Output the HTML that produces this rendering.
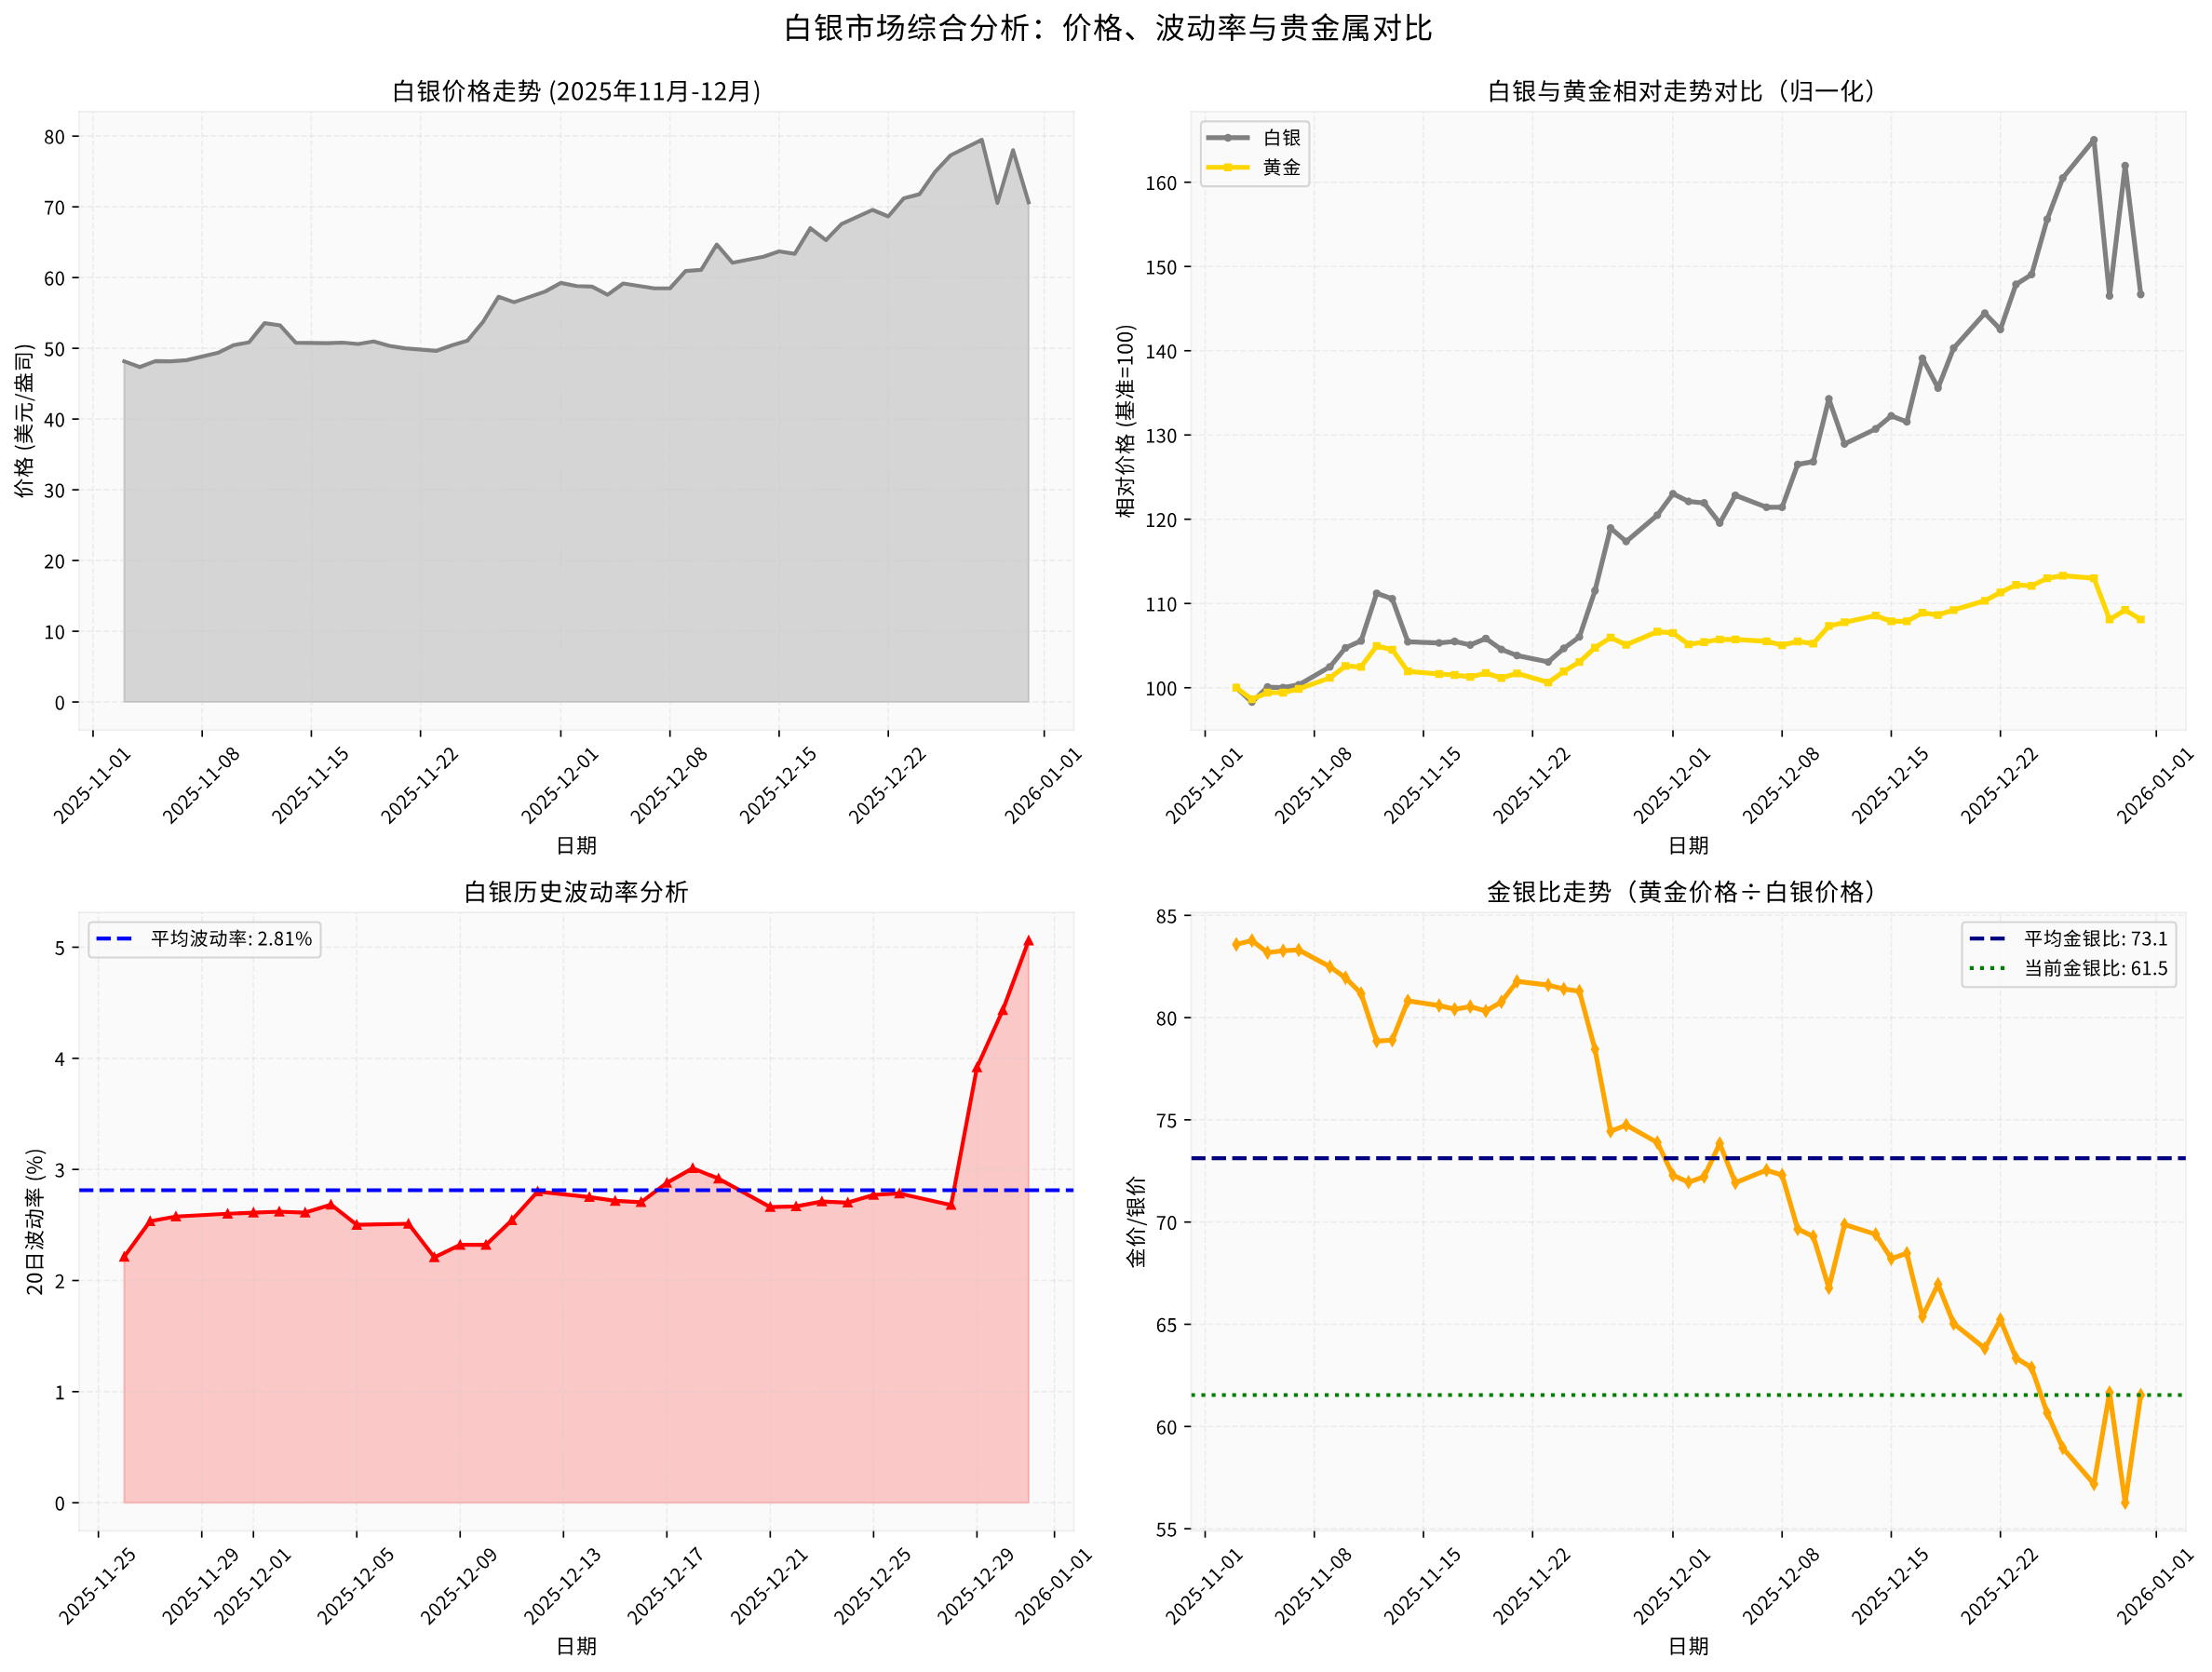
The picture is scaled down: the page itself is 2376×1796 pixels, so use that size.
<!DOCTYPE html>
<html><head><meta charset="utf-8"><title>白银市场综合分析</title>
<style>html,body{margin:0;padding:0;background:#fff;}body{width:2376px;height:1796px;overflow:hidden;font-family:"Liberation Sans",sans-serif;}svg{display:block;}</style>
</head><body>
<svg width="2376" height="1796" viewBox="0 0 1140.480 862.080" preserveAspectRatio="none">
<defs>
<style type="text/css">*{stroke-linejoin: round; stroke-linecap: butt}</style>
</defs>
<g id="figure_1">
<g id="patch_1">
<path d="M 0 862.336 
L 1140.760 862.336 
L 1140.760 0 
L 0 0 
z
" style="fill: #ffffff"/>
</g>
<g id="axes_1">
<g id="patch_2">
<path d="M 40.74 376.435 
L 553.670 376.435 
L 553.670 57.57 
L 40.74 57.57 
z
" style="fill: #fafafa"/>
</g>
<g id="FillBetweenPolyCollection_1">
<defs>
<path id="m561d28d23e" d="M 64.055 -500.395 
L 64.055 -676.035 
L 72.094 -673.067 
L 80.134 -676.176 
L 88.174 -676.071 
L 96.213 -676.633 
L 112.293 -680.391 
L 120.332 -684.343 
L 128.372 -685.801 
L 136.412 -695.725 
L 144.451 -694.566 
L 152.491 -685.608 
L 168.570 -685.380 
L 176.610 -685.696 
L 184.650 -684.958 
L 192.689 -686.310 
L 200.729 -684.027 
L 208.769 -682.762 
L 224.848 -681.410 
L 232.888 -684.238 
L 240.927 -686.627 
L 248.967 -696.269 
L 257.007 -709.319 
L 265.046 -706.527 
L 281.126 -712.024 
L 289.165 -716.468 
L 297.205 -714.870 
L 305.245 -714.553 
L 313.284 -710.356 
L 321.324 -716.152 
L 337.403 -713.658 
L 345.443 -713.658 
L 353.483 -722.598 
L 361.522 -723.160 
L 369.562 -736.245 
L 377.602 -726.866 
L 393.681 -729.992 
L 401.721 -732.715 
L 409.760 -731.468 
L 417.800 -744.711 
L 425.840 -738.528 
L 433.879 -746.836 
L 449.959 -754.108 
L 457.998 -750.736 
L 466.038 -760.132 
L 474.078 -762.187 
L 482.117 -773.692 
L 490.157 -782.298 
L 506.236 -790.272 
L 514.276 -757.708 
L 522.316 -784.880 
L 530.355 -758.025 
L 530.355 -500.395 
L 530.355 -500.395 
L 522.316 -500.395 
L 514.276 -500.395 
L 506.236 -500.395 
L 490.157 -500.395 
L 482.117 -500.395 
L 474.078 -500.395 
L 466.038 -500.395 
L 457.998 -500.395 
L 449.959 -500.395 
L 433.879 -500.395 
L 425.840 -500.395 
L 417.800 -500.395 
L 409.760 -500.395 
L 401.721 -500.395 
L 393.681 -500.395 
L 377.602 -500.395 
L 369.562 -500.395 
L 361.522 -500.395 
L 353.483 -500.395 
L 345.443 -500.395 
L 337.403 -500.395 
L 321.324 -500.395 
L 313.284 -500.395 
L 305.245 -500.395 
L 297.205 -500.395 
L 289.165 -500.395 
L 281.126 -500.395 
L 265.046 -500.395 
L 257.007 -500.395 
L 248.967 -500.395 
L 240.927 -500.395 
L 232.888 -500.395 
L 224.848 -500.395 
L 208.769 -500.395 
L 200.729 -500.395 
L 192.689 -500.395 
L 184.650 -500.395 
L 176.610 -500.395 
L 168.570 -500.395 
L 152.491 -500.395 
L 144.451 -500.395 
L 136.412 -500.395 
L 128.372 -500.395 
L 120.332 -500.395 
L 112.293 -500.395 
L 96.213 -500.395 
L 88.174 -500.395 
L 80.134 -500.395 
L 72.094 -500.395 
L 64.055 -500.395 
z
" style="stroke: #808080; stroke-opacity: 0.3"/>
</defs>
<g clip-path="url(#pcaa371a0d5)">
<use href="#m561d28d23e" x="0" y="862.336" style="fill: #808080; fill-opacity: 0.3; stroke: #808080; stroke-opacity: 0.3"/>
</g>
</g>
<g id="matplotlib.axis_1">
<g id="xtick_1">
<g id="line2d_1">
<path d="M 47.975 376.435 
L 47.975 57.57 
" clip-path="url(#pcaa371a0d5)" style="fill: none; stroke-dasharray: 2.96,1.28; stroke-dashoffset: 0; stroke: #cccccc; stroke-opacity: 0.3; stroke-width: 0.8"/>
</g>
<g id="line2d_2">
<defs>
<path id="m96d0b143b3" d="M 0 0 
L 0 3.5 
" style="stroke: #000000; stroke-width: 0.8"/>
</defs>
<g>
<use href="#m96d0b143b3" x="47.975" y="376.435" style="stroke: #000000; stroke-width: 0.8"/>
</g>
</g>
<g id="text_1">
<!-- 2025-11-01 -->
<g transform="translate(31.828 425.366) rotate(-45) scale(0.1 -0.1)">
<defs>
<path id="NotoSansCJKsc-Regular-32" d="M 282 0 
L 3232 0 
L 3232 506 
L 1933 506 
C 1696 506 1408 480 1165 461 
C 2266 1504 3008 2458 3008 3398 
C 3008 4230 2477 4774 1638 4774 
C 1043 4774 634 4506 256 4090 
L 595 3757 
C 858 4070 1184 4301 1568 4301 
C 2150 4301 2432 3910 2432 3373 
C 2432 2566 1754 1632 282 346 
L 282 0 
z
" transform="scale(0.015)"/>
<path id="NotoSansCJKsc-Regular-30" d="M 1779 -83 
C 2669 -83 3238 723 3238 2362 
C 3238 3987 2669 4774 1779 4774 
C 883 4774 320 3987 320 2362 
C 320 723 883 -83 1779 -83 
z
M 1779 390 
C 1248 390 883 986 883 2362 
C 883 3731 1248 4314 1779 4314 
C 2310 4314 2675 3731 2675 2362 
C 2675 986 2310 390 1779 390 
z
" transform="scale(0.015)"/>
<path id="NotoSansCJKsc-Regular-35" d="M 1677 -83 
C 2464 -83 3213 499 3213 1523 
C 3213 2560 2573 3021 1798 3021 
C 1517 3021 1306 2950 1094 2835 
L 1216 4192 
L 2982 4192 
L 2982 4691 
L 704 4691 
L 550 2502 
L 864 2304 
C 1133 2483 1331 2579 1645 2579 
C 2234 2579 2618 2182 2618 1510 
C 2618 826 2176 403 1619 403 
C 1075 403 730 653 467 922 
L 173 538 
C 493 224 941 -83 1677 -83 
z
" transform="scale(0.015)"/>
<path id="NotoSansCJKsc-Regular-2d" d="M 294 1568 
L 1933 1568 
L 1933 2016 
L 294 2016 
L 294 1568 
z
" transform="scale(0.015)"/>
<path id="NotoSansCJKsc-Regular-31" d="M 563 0 
L 3136 0 
L 3136 486 
L 2195 486 
L 2195 4691 
L 1747 4691 
C 1491 4544 1190 4435 774 4358 
L 774 3987 
L 1613 3987 
L 1613 486 
L 563 486 
L 563 0 
z
" transform="scale(0.015)"/>
</defs>
<use href="#NotoSansCJKsc-Regular-32"/>
<use href="#NotoSansCJKsc-Regular-30" transform="translate(55.499 0)"/>
<use href="#NotoSansCJKsc-Regular-32" transform="translate(110.999 0)"/>
<use href="#NotoSansCJKsc-Regular-35" transform="translate(166.499 0)"/>
<use href="#NotoSansCJKsc-Regular-2d" transform="translate(221.999 0)"/>
<use href="#NotoSansCJKsc-Regular-31" transform="translate(256.699 0)"/>
<use href="#NotoSansCJKsc-Regular-31" transform="translate(312.199 0)"/>
<use href="#NotoSansCJKsc-Regular-2d" transform="translate(367.699 0)"/>
<use href="#NotoSansCJKsc-Regular-30" transform="translate(402.399 0)"/>
<use href="#NotoSansCJKsc-Regular-31" transform="translate(457.899 0)"/>
</g>
</g>
</g>
<g id="xtick_2">
<g id="line2d_3">
<path d="M 104.253 376.435 
L 104.253 57.57 
" clip-path="url(#pcaa371a0d5)" style="fill: none; stroke-dasharray: 2.96,1.28; stroke-dashoffset: 0; stroke: #cccccc; stroke-opacity: 0.3; stroke-width: 0.8"/>
</g>
<g id="line2d_4">
<g>
<use href="#m96d0b143b3" x="104.253" y="376.435" style="stroke: #000000; stroke-width: 0.8"/>
</g>
</g>
<g id="text_2">
<!-- 2025-11-08 -->
<g transform="translate(88.105 425.366) rotate(-45) scale(0.1 -0.1)">
<defs>
<path id="NotoSansCJKsc-Regular-38" d="M 1792 -83 
C 2669 -83 3258 448 3258 1126 
C 3258 1773 2880 2125 2470 2362 
L 2470 2394 
C 2746 2611 3091 3034 3091 3526 
C 3091 4250 2605 4762 1805 4762 
C 1075 4762 518 4282 518 3571 
C 518 3078 813 2726 1152 2490 
L 1152 2464 
C 723 2234 294 1792 294 1165 
C 294 442 922 -83 1792 -83 
z
M 2112 2547 
C 1555 2765 1050 3014 1050 3571 
C 1050 4026 1363 4326 1798 4326 
C 2298 4326 2592 3962 2592 3494 
C 2592 3149 2426 2829 2112 2547 
z
M 1798 352 
C 1235 352 813 717 813 1216 
C 813 1664 1082 2035 1459 2278 
C 2125 2010 2701 1779 2701 1146 
C 2701 678 2342 352 1798 352 
z
" transform="scale(0.015)"/>
</defs>
<use href="#NotoSansCJKsc-Regular-32"/>
<use href="#NotoSansCJKsc-Regular-30" transform="translate(55.499 0)"/>
<use href="#NotoSansCJKsc-Regular-32" transform="translate(110.999 0)"/>
<use href="#NotoSansCJKsc-Regular-35" transform="translate(166.499 0)"/>
<use href="#NotoSansCJKsc-Regular-2d" transform="translate(221.999 0)"/>
<use href="#NotoSansCJKsc-Regular-31" transform="translate(256.699 0)"/>
<use href="#NotoSansCJKsc-Regular-31" transform="translate(312.199 0)"/>
<use href="#NotoSansCJKsc-Regular-2d" transform="translate(367.699 0)"/>
<use href="#NotoSansCJKsc-Regular-30" transform="translate(402.399 0)"/>
<use href="#NotoSansCJKsc-Regular-38" transform="translate(457.899 0)"/>
</g>
</g>
</g>
<g id="xtick_3">
<g id="line2d_5">
<path d="M 160.531 376.435 
L 160.531 57.57 
" clip-path="url(#pcaa371a0d5)" style="fill: none; stroke-dasharray: 2.96,1.28; stroke-dashoffset: 0; stroke: #cccccc; stroke-opacity: 0.3; stroke-width: 0.8"/>
</g>
<g id="line2d_6">
<g>
<use href="#m96d0b143b3" x="160.531" y="376.435" style="stroke: #000000; stroke-width: 0.8"/>
</g>
</g>
<g id="text_3">
<!-- 2025-11-15 -->
<g transform="translate(144.383 425.366) rotate(-45) scale(0.1 -0.1)">
<use href="#NotoSansCJKsc-Regular-32"/>
<use href="#NotoSansCJKsc-Regular-30" transform="translate(55.499 0)"/>
<use href="#NotoSansCJKsc-Regular-32" transform="translate(110.999 0)"/>
<use href="#NotoSansCJKsc-Regular-35" transform="translate(166.499 0)"/>
<use href="#NotoSansCJKsc-Regular-2d" transform="translate(221.999 0)"/>
<use href="#NotoSansCJKsc-Regular-31" transform="translate(256.699 0)"/>
<use href="#NotoSansCJKsc-Regular-31" transform="translate(312.199 0)"/>
<use href="#NotoSansCJKsc-Regular-2d" transform="translate(367.699 0)"/>
<use href="#NotoSansCJKsc-Regular-31" transform="translate(402.399 0)"/>
<use href="#NotoSansCJKsc-Regular-35" transform="translate(457.899 0)"/>
</g>
</g>
</g>
<g id="xtick_4">
<g id="line2d_7">
<path d="M 216.808 376.435 
L 216.808 57.57 
" clip-path="url(#pcaa371a0d5)" style="fill: none; stroke-dasharray: 2.96,1.28; stroke-dashoffset: 0; stroke: #cccccc; stroke-opacity: 0.3; stroke-width: 0.8"/>
</g>
<g id="line2d_8">
<g>
<use href="#m96d0b143b3" x="216.808" y="376.435" style="stroke: #000000; stroke-width: 0.8"/>
</g>
</g>
<g id="text_4">
<!-- 2025-11-22 -->
<g transform="translate(200.661 425.366) rotate(-45) scale(0.1 -0.1)">
<use href="#NotoSansCJKsc-Regular-32"/>
<use href="#NotoSansCJKsc-Regular-30" transform="translate(55.499 0)"/>
<use href="#NotoSansCJKsc-Regular-32" transform="translate(110.999 0)"/>
<use href="#NotoSansCJKsc-Regular-35" transform="translate(166.499 0)"/>
<use href="#NotoSansCJKsc-Regular-2d" transform="translate(221.999 0)"/>
<use href="#NotoSansCJKsc-Regular-31" transform="translate(256.699 0)"/>
<use href="#NotoSansCJKsc-Regular-31" transform="translate(312.199 0)"/>
<use href="#NotoSansCJKsc-Regular-2d" transform="translate(367.699 0)"/>
<use href="#NotoSansCJKsc-Regular-32" transform="translate(402.399 0)"/>
<use href="#NotoSansCJKsc-Regular-32" transform="translate(457.899 0)"/>
</g>
</g>
</g>
<g id="xtick_5">
<g id="line2d_9">
<path d="M 289.165 376.435 
L 289.165 57.57 
" clip-path="url(#pcaa371a0d5)" style="fill: none; stroke-dasharray: 2.96,1.28; stroke-dashoffset: 0; stroke: #cccccc; stroke-opacity: 0.3; stroke-width: 0.8"/>
</g>
<g id="line2d_10">
<g>
<use href="#m96d0b143b3" x="289.165" y="376.435" style="stroke: #000000; stroke-width: 0.8"/>
</g>
</g>
<g id="text_5">
<!-- 2025-12-01 -->
<g transform="translate(273.018 425.366) rotate(-45) scale(0.1 -0.1)">
<use href="#NotoSansCJKsc-Regular-32"/>
<use href="#NotoSansCJKsc-Regular-30" transform="translate(55.499 0)"/>
<use href="#NotoSansCJKsc-Regular-32" transform="translate(110.999 0)"/>
<use href="#NotoSansCJKsc-Regular-35" transform="translate(166.499 0)"/>
<use href="#NotoSansCJKsc-Regular-2d" transform="translate(221.999 0)"/>
<use href="#NotoSansCJKsc-Regular-31" transform="translate(256.699 0)"/>
<use href="#NotoSansCJKsc-Regular-32" transform="translate(312.199 0)"/>
<use href="#NotoSansCJKsc-Regular-2d" transform="translate(367.699 0)"/>
<use href="#NotoSansCJKsc-Regular-30" transform="translate(402.399 0)"/>
<use href="#NotoSansCJKsc-Regular-31" transform="translate(457.899 0)"/>
</g>
</g>
</g>
<g id="xtick_6">
<g id="line2d_11">
<path d="M 345.443 376.435 
L 345.443 57.57 
" clip-path="url(#pcaa371a0d5)" style="fill: none; stroke-dasharray: 2.96,1.28; stroke-dashoffset: 0; stroke: #cccccc; stroke-opacity: 0.3; stroke-width: 0.8"/>
</g>
<g id="line2d_12">
<g>
<use href="#m96d0b143b3" x="345.443" y="376.435" style="stroke: #000000; stroke-width: 0.8"/>
</g>
</g>
<g id="text_6">
<!-- 2025-12-08 -->
<g transform="translate(329.295 425.366) rotate(-45) scale(0.1 -0.1)">
<use href="#NotoSansCJKsc-Regular-32"/>
<use href="#NotoSansCJKsc-Regular-30" transform="translate(55.499 0)"/>
<use href="#NotoSansCJKsc-Regular-32" transform="translate(110.999 0)"/>
<use href="#NotoSansCJKsc-Regular-35" transform="translate(166.499 0)"/>
<use href="#NotoSansCJKsc-Regular-2d" transform="translate(221.999 0)"/>
<use href="#NotoSansCJKsc-Regular-31" transform="translate(256.699 0)"/>
<use href="#NotoSansCJKsc-Regular-32" transform="translate(312.199 0)"/>
<use href="#NotoSansCJKsc-Regular-2d" transform="translate(367.699 0)"/>
<use href="#NotoSansCJKsc-Regular-30" transform="translate(402.399 0)"/>
<use href="#NotoSansCJKsc-Regular-38" transform="translate(457.899 0)"/>
</g>
</g>
</g>
<g id="xtick_7">
<g id="line2d_13">
<path d="M 401.721 376.435 
L 401.721 57.57 
" clip-path="url(#pcaa371a0d5)" style="fill: none; stroke-dasharray: 2.96,1.28; stroke-dashoffset: 0; stroke: #cccccc; stroke-opacity: 0.3; stroke-width: 0.8"/>
</g>
<g id="line2d_14">
<g>
<use href="#m96d0b143b3" x="401.721" y="376.435" style="stroke: #000000; stroke-width: 0.8"/>
</g>
</g>
<g id="text_7">
<!-- 2025-12-15 -->
<g transform="translate(385.573 425.366) rotate(-45) scale(0.1 -0.1)">
<use href="#NotoSansCJKsc-Regular-32"/>
<use href="#NotoSansCJKsc-Regular-30" transform="translate(55.499 0)"/>
<use href="#NotoSansCJKsc-Regular-32" transform="translate(110.999 0)"/>
<use href="#NotoSansCJKsc-Regular-35" transform="translate(166.499 0)"/>
<use href="#NotoSansCJKsc-Regular-2d" transform="translate(221.999 0)"/>
<use href="#NotoSansCJKsc-Regular-31" transform="translate(256.699 0)"/>
<use href="#NotoSansCJKsc-Regular-32" transform="translate(312.199 0)"/>
<use href="#NotoSansCJKsc-Regular-2d" transform="translate(367.699 0)"/>
<use href="#NotoSansCJKsc-Regular-31" transform="translate(402.399 0)"/>
<use href="#NotoSansCJKsc-Regular-35" transform="translate(457.899 0)"/>
</g>
</g>
</g>
<g id="xtick_8">
<g id="line2d_15">
<path d="M 457.998 376.435 
L 457.998 57.57 
" clip-path="url(#pcaa371a0d5)" style="fill: none; stroke-dasharray: 2.96,1.28; stroke-dashoffset: 0; stroke: #cccccc; stroke-opacity: 0.3; stroke-width: 0.8"/>
</g>
<g id="line2d_16">
<g>
<use href="#m96d0b143b3" x="457.998" y="376.435" style="stroke: #000000; stroke-width: 0.8"/>
</g>
</g>
<g id="text_8">
<!-- 2025-12-22 -->
<g transform="translate(441.851 425.366) rotate(-45) scale(0.1 -0.1)">
<use href="#NotoSansCJKsc-Regular-32"/>
<use href="#NotoSansCJKsc-Regular-30" transform="translate(55.499 0)"/>
<use href="#NotoSansCJKsc-Regular-32" transform="translate(110.999 0)"/>
<use href="#NotoSansCJKsc-Regular-35" transform="translate(166.499 0)"/>
<use href="#NotoSansCJKsc-Regular-2d" transform="translate(221.999 0)"/>
<use href="#NotoSansCJKsc-Regular-31" transform="translate(256.699 0)"/>
<use href="#NotoSansCJKsc-Regular-32" transform="translate(312.199 0)"/>
<use href="#NotoSansCJKsc-Regular-2d" transform="translate(367.699 0)"/>
<use href="#NotoSansCJKsc-Regular-32" transform="translate(402.399 0)"/>
<use href="#NotoSansCJKsc-Regular-32" transform="translate(457.899 0)"/>
</g>
</g>
</g>
<g id="xtick_9">
<g id="line2d_17">
<path d="M 538.395 376.435 
L 538.395 57.57 
" clip-path="url(#pcaa371a0d5)" style="fill: none; stroke-dasharray: 2.96,1.28; stroke-dashoffset: 0; stroke: #cccccc; stroke-opacity: 0.3; stroke-width: 0.8"/>
</g>
<g id="line2d_18">
<g>
<use href="#m96d0b143b3" x="538.395" y="376.435" style="stroke: #000000; stroke-width: 0.8"/>
</g>
</g>
<g id="text_9">
<!-- 2026-01-01 -->
<g transform="translate(522.247 425.366) rotate(-45) scale(0.1 -0.1)">
<defs>
<path id="NotoSansCJKsc-Regular-36" d="M 1926 -83 
C 2656 -83 3277 531 3277 1440 
C 3277 2426 2765 2912 1971 2912 
C 1606 2912 1197 2701 909 2349 
C 934 3802 1466 4294 2118 4294 
C 2400 4294 2682 4154 2861 3936 
L 3194 4294 
C 2931 4576 2579 4774 2093 4774 
C 1184 4774 358 4077 358 2240 
C 358 691 1030 -83 1926 -83 
z
M 922 1882 
C 1229 2317 1587 2477 1875 2477 
C 2445 2477 2720 2074 2720 1440 
C 2720 800 2374 378 1926 378 
C 1338 378 986 909 922 1882 
z
" transform="scale(0.015)"/>
</defs>
<use href="#NotoSansCJKsc-Regular-32"/>
<use href="#NotoSansCJKsc-Regular-30" transform="translate(55.499 0)"/>
<use href="#NotoSansCJKsc-Regular-32" transform="translate(110.999 0)"/>
<use href="#NotoSansCJKsc-Regular-36" transform="translate(166.499 0)"/>
<use href="#NotoSansCJKsc-Regular-2d" transform="translate(221.999 0)"/>
<use href="#NotoSansCJKsc-Regular-30" transform="translate(256.699 0)"/>
<use href="#NotoSansCJKsc-Regular-31" transform="translate(312.199 0)"/>
<use href="#NotoSansCJKsc-Regular-2d" transform="translate(367.699 0)"/>
<use href="#NotoSansCJKsc-Regular-30" transform="translate(402.399 0)"/>
<use href="#NotoSansCJKsc-Regular-31" transform="translate(457.899 0)"/>
</g>
</g>
</g>
<g id="text_10">
<!-- 日期 -->
<g transform="translate(286.205 439.741) scale(0.11 -0.11)">
<defs>
<path id="NotoSansCJKsc-Regular-65e5" d="M 1619 2253 
L 4813 2253 
L 4813 454 
L 1619 454 
L 1619 2253 
z
M 1619 2726 
L 1619 4461 
L 4813 4461 
L 4813 2726 
L 1619 2726 
z
M 1126 4941 
L 1126 -442 
L 1619 -442 
L 1619 -26 
L 4813 -26 
L 4813 -410 
L 5325 -410 
L 5325 4941 
L 1126 4941 
z
" transform="scale(0.015)"/>
<path id="NotoSansCJKsc-Regular-671f" d="M 1139 915 
C 947 486 608 58 250 -230 
C 365 -301 557 -435 646 -512 
C 992 -192 1363 301 1594 787 
L 1139 915 
z
M 2054 717 
C 2304 416 2598 -6 2714 -269 
L 3110 -38 
C 2976 224 2682 621 2426 915 
L 2054 717 
z
M 5472 4621 
L 5472 3590 
L 4160 3590 
L 4160 4621 
L 5472 4621 
z
M 3712 5056 
L 3712 2733 
C 3712 1811 3661 589 3123 -262 
C 3232 -314 3430 -454 3507 -538 
C 3891 70 4058 890 4122 1664 
L 5472 1664 
L 5472 109 
C 5472 6 5434 -19 5344 -26 
C 5248 -32 4922 -32 4582 -19 
C 4646 -147 4717 -358 4736 -486 
C 5203 -486 5510 -480 5690 -397 
C 5875 -320 5933 -173 5933 102 
L 5933 5056 
L 3712 5056 
z
M 5472 3162 
L 5472 2099 
L 4147 2099 
C 4160 2323 4160 2534 4160 2733 
L 4160 3162 
L 5472 3162 
z
M 2477 5299 
L 2477 4525 
L 1312 4525 
L 1312 5299 
L 877 5299 
L 877 4525 
L 333 4525 
L 333 4096 
L 877 4096 
L 877 1478 
L 243 1478 
L 243 1050 
L 3398 1050 
L 3398 1478 
L 2925 1478 
L 2925 4096 
L 3398 4096 
L 3398 4525 
L 2925 4525 
L 2925 5299 
L 2477 5299 
z
M 1312 4096 
L 2477 4096 
L 2477 3526 
L 1312 3526 
L 1312 4096 
z
M 1312 3142 
L 2477 3142 
L 2477 2515 
L 1312 2515 
L 1312 3142 
z
M 1312 2125 
L 2477 2125 
L 2477 1478 
L 1312 1478 
L 1312 2125 
z
" transform="scale(0.015)"/>
</defs>
<use href="#NotoSansCJKsc-Regular-65e5"/>
<use href="#NotoSansCJKsc-Regular-671f" transform="translate(99.999 0)"/>
</g>
</g>
</g>
<g id="matplotlib.axis_2">
<g id="ytick_1">
<g id="line2d_19">
<path d="M 40.74 361.941 
L 553.670 361.941 
" clip-path="url(#pcaa371a0d5)" style="fill: none; stroke-dasharray: 2.96,1.28; stroke-dashoffset: 0; stroke: #cccccc; stroke-opacity: 0.3; stroke-width: 0.8"/>
</g>
<g id="line2d_20">
<defs>
<path id="m0469b5f568" d="M 0 0 
L -3.5 0 
" style="stroke: #000000; stroke-width: 0.8"/>
</defs>
<g>
<use href="#m0469b5f568" x="40.74" y="361.941" style="stroke: #000000; stroke-width: 0.8"/>
</g>
</g>
<g id="text_11">
<!-- 0 -->
<g transform="translate(28.19 365.921) scale(0.1 -0.1)">
<use href="#NotoSansCJKsc-Regular-30"/>
</g>
</g>
</g>
<g id="ytick_2">
<g id="line2d_21">
<path d="M 40.74 325.471 
L 553.670 325.471 
" clip-path="url(#pcaa371a0d5)" style="fill: none; stroke-dasharray: 2.96,1.28; stroke-dashoffset: 0; stroke: #cccccc; stroke-opacity: 0.3; stroke-width: 0.8"/>
</g>
<g id="line2d_22">
<g>
<use href="#m0469b5f568" x="40.74" y="325.471" style="stroke: #000000; stroke-width: 0.8"/>
</g>
</g>
<g id="text_12">
<!-- 10 -->
<g transform="translate(22.64 329.451) scale(0.1 -0.1)">
<use href="#NotoSansCJKsc-Regular-31"/>
<use href="#NotoSansCJKsc-Regular-30" transform="translate(55.499 0)"/>
</g>
</g>
</g>
<g id="ytick_3">
<g id="line2d_23">
<path d="M 40.74 289.001 
L 553.670 289.001 
" clip-path="url(#pcaa371a0d5)" style="fill: none; stroke-dasharray: 2.96,1.28; stroke-dashoffset: 0; stroke: #cccccc; stroke-opacity: 0.3; stroke-width: 0.8"/>
</g>
<g id="line2d_24">
<g>
<use href="#m0469b5f568" x="40.74" y="289.001" style="stroke: #000000; stroke-width: 0.8"/>
</g>
</g>
<g id="text_13">
<!-- 20 -->
<g transform="translate(22.64 292.980) scale(0.1 -0.1)">
<use href="#NotoSansCJKsc-Regular-32"/>
<use href="#NotoSansCJKsc-Regular-30" transform="translate(55.499 0)"/>
</g>
</g>
</g>
<g id="ytick_4">
<g id="line2d_25">
<path d="M 40.74 252.530 
L 553.670 252.530 
" clip-path="url(#pcaa371a0d5)" style="fill: none; stroke-dasharray: 2.96,1.28; stroke-dashoffset: 0; stroke: #cccccc; stroke-opacity: 0.3; stroke-width: 0.8"/>
</g>
<g id="line2d_26">
<g>
<use href="#m0469b5f568" x="40.74" y="252.530" style="stroke: #000000; stroke-width: 0.8"/>
</g>
</g>
<g id="text_14">
<!-- 30 -->
<g transform="translate(22.64 256.510) scale(0.1 -0.1)">
<defs>
<path id="NotoSansCJKsc-Regular-33" d="M 1683 -83 
C 2522 -83 3194 416 3194 1254 
C 3194 1901 2752 2310 2202 2445 
L 2202 2477 
C 2701 2650 3034 3034 3034 3603 
C 3034 4346 2458 4774 1664 4774 
C 1126 4774 710 4538 358 4218 
L 672 3846 
C 941 4115 1267 4301 1645 4301 
C 2138 4301 2438 4006 2438 3558 
C 2438 3053 2112 2662 1139 2662 
L 1139 2214 
C 2227 2214 2598 1843 2598 1274 
C 2598 736 2208 403 1645 403 
C 1114 403 762 659 486 941 
L 186 563 
C 493 224 954 -83 1683 -83 
z
" transform="scale(0.015)"/>
</defs>
<use href="#NotoSansCJKsc-Regular-33"/>
<use href="#NotoSansCJKsc-Regular-30" transform="translate(55.499 0)"/>
</g>
</g>
</g>
<g id="ytick_5">
<g id="line2d_27">
<path d="M 40.74 216.060 
L 553.670 216.060 
" clip-path="url(#pcaa371a0d5)" style="fill: none; stroke-dasharray: 2.96,1.28; stroke-dashoffset: 0; stroke: #cccccc; stroke-opacity: 0.3; stroke-width: 0.8"/>
</g>
<g id="line2d_28">
<g>
<use href="#m0469b5f568" x="40.74" y="216.060" style="stroke: #000000; stroke-width: 0.8"/>
</g>
</g>
<g id="text_15">
<!-- 40 -->
<g transform="translate(22.64 220.040) scale(0.1 -0.1)">
<defs>
<path id="NotoSansCJKsc-Regular-34" d="M 2176 0 
L 2726 0 
L 2726 1293 
L 3354 1293 
L 3354 1760 
L 2726 1760 
L 2726 4691 
L 2080 4691 
L 128 1677 
L 128 1293 
L 2176 1293 
L 2176 0 
z
M 2176 1760 
L 736 1760 
L 1805 3360 
C 1939 3590 2067 3827 2182 4051 
L 2208 4051 
C 2195 3814 2176 3430 2176 3200 
L 2176 1760 
z
" transform="scale(0.015)"/>
</defs>
<use href="#NotoSansCJKsc-Regular-34"/>
<use href="#NotoSansCJKsc-Regular-30" transform="translate(55.499 0)"/>
</g>
</g>
</g>
<g id="ytick_6">
<g id="line2d_29">
<path d="M 40.74 179.590 
L 553.670 179.590 
" clip-path="url(#pcaa371a0d5)" style="fill: none; stroke-dasharray: 2.96,1.28; stroke-dashoffset: 0; stroke: #cccccc; stroke-opacity: 0.3; stroke-width: 0.8"/>
</g>
<g id="line2d_30">
<g>
<use href="#m0469b5f568" x="40.74" y="179.590" style="stroke: #000000; stroke-width: 0.8"/>
</g>
</g>
<g id="text_16">
<!-- 50 -->
<g transform="translate(22.64 183.569) scale(0.1 -0.1)">
<use href="#NotoSansCJKsc-Regular-35"/>
<use href="#NotoSansCJKsc-Regular-30" transform="translate(55.499 0)"/>
</g>
</g>
</g>
<g id="ytick_7">
<g id="line2d_31">
<path d="M 40.74 143.119 
L 553.670 143.119 
" clip-path="url(#pcaa371a0d5)" style="fill: none; stroke-dasharray: 2.96,1.28; stroke-dashoffset: 0; stroke: #cccccc; stroke-opacity: 0.3; stroke-width: 0.8"/>
</g>
<g id="line2d_32">
<g>
<use href="#m0469b5f568" x="40.74" y="143.119" style="stroke: #000000; stroke-width: 0.8"/>
</g>
</g>
<g id="text_17">
<!-- 60 -->
<g transform="translate(22.64 147.099) scale(0.1 -0.1)">
<use href="#NotoSansCJKsc-Regular-36"/>
<use href="#NotoSansCJKsc-Regular-30" transform="translate(55.499 0)"/>
</g>
</g>
</g>
<g id="ytick_8">
<g id="line2d_33">
<path d="M 40.74 106.649 
L 553.670 106.649 
" clip-path="url(#pcaa371a0d5)" style="fill: none; stroke-dasharray: 2.96,1.28; stroke-dashoffset: 0; stroke: #cccccc; stroke-opacity: 0.3; stroke-width: 0.8"/>
</g>
<g id="line2d_34">
<g>
<use href="#m0469b5f568" x="40.74" y="106.649" style="stroke: #000000; stroke-width: 0.8"/>
</g>
</g>
<g id="text_18">
<!-- 70 -->
<g transform="translate(22.64 110.629) scale(0.1 -0.1)">
<defs>
<path id="NotoSansCJKsc-Regular-37" d="M 1267 0 
L 1875 0 
C 1952 1837 2150 2931 3251 4339 
L 3251 4691 
L 314 4691 
L 314 4192 
L 2592 4192 
C 1670 2912 1350 1779 1267 0 
z
" transform="scale(0.015)"/>
</defs>
<use href="#NotoSansCJKsc-Regular-37"/>
<use href="#NotoSansCJKsc-Regular-30" transform="translate(55.499 0)"/>
</g>
</g>
</g>
<g id="ytick_9">
<g id="line2d_35">
<path d="M 40.74 70.179 
L 553.670 70.179 
" clip-path="url(#pcaa371a0d5)" style="fill: none; stroke-dasharray: 2.96,1.28; stroke-dashoffset: 0; stroke: #cccccc; stroke-opacity: 0.3; stroke-width: 0.8"/>
</g>
<g id="line2d_36">
<g>
<use href="#m0469b5f568" x="40.74" y="70.179" style="stroke: #000000; stroke-width: 0.8"/>
</g>
</g>
<g id="text_19">
<!-- 80 -->
<g transform="translate(22.64 74.159) scale(0.1 -0.1)">
<use href="#NotoSansCJKsc-Regular-38"/>
<use href="#NotoSansCJKsc-Regular-30" transform="translate(55.499 0)"/>
</g>
</g>
</g>
<g id="text_20">
<!-- 价格 (美元/盎司) -->
<g transform="translate(16.120 257.108) rotate(-90) scale(0.11 -0.11)">
<defs>
<path id="NotoSansCJKsc-Regular-4ef7" d="M 4627 2886 
L 4627 -499 
L 5120 -499 
L 5120 2886 
L 4627 2886 
z
M 2816 2880 
L 2816 2003 
C 2816 1395 2746 416 1818 -230 
C 1933 -307 2093 -454 2170 -563 
C 3181 192 3296 1261 3296 1997 
L 3296 2880 
L 2816 2880 
z
M 3821 5389 
C 3501 4576 2784 3616 1645 2970 
C 1754 2886 1888 2707 1946 2598 
C 2861 3136 3514 3853 3955 4582 
C 4461 3814 5184 3091 5875 2682 
C 5952 2803 6099 2976 6208 3066 
C 5459 3462 4653 4243 4192 5018 
L 4326 5306 
L 3821 5389 
z
M 1715 5370 
C 1382 4403 832 3443 237 2816 
C 326 2707 467 2458 518 2342 
C 704 2547 890 2784 1062 3040 
L 1062 -512 
L 1542 -512 
L 1542 3834 
C 1786 4282 2003 4762 2176 5235 
L 1715 5370 
z
" transform="scale(0.015)"/>
<path id="NotoSansCJKsc-Regular-683c" d="M 3680 4269 
L 5082 4269 
C 4890 3866 4627 3494 4320 3174 
C 4013 3488 3776 3821 3603 4147 
L 3680 4269 
z
M 1293 5376 
L 1293 4006 
L 333 4006 
L 333 3552 
L 1235 3552 
C 1037 2669 608 1664 179 1120 
C 262 1011 384 826 429 698 
C 749 1120 1056 1818 1293 2541 
L 1293 -506 
L 1747 -506 
L 1747 2720 
C 1946 2438 2170 2093 2272 1914 
L 2560 2278 
C 2445 2445 1920 3078 1747 3270 
L 1747 3552 
L 2477 3552 
L 2323 3424 
C 2432 3347 2618 3181 2701 3098 
C 2918 3290 3136 3520 3334 3776 
C 3507 3475 3731 3168 4006 2880 
C 3462 2413 2822 2067 2182 1862 
C 2278 1766 2400 1587 2458 1472 
C 2624 1536 2790 1600 2957 1677 
L 2957 -518 
L 3405 -518 
L 3405 -237 
L 5190 -237 
L 5190 -493 
L 5658 -493 
L 5658 1728 
L 5952 1613 
C 6022 1734 6157 1920 6253 2016 
C 5619 2208 5082 2509 4646 2874 
C 5094 3341 5459 3904 5690 4563 
L 5389 4704 
L 5299 4685 
L 3917 4685 
C 4019 4870 4109 5062 4186 5261 
L 3725 5382 
C 3475 4730 3059 4102 2579 3648 
L 2579 4006 
L 1747 4006 
L 1747 5376 
L 1293 5376 
z
M 3405 186 
L 3405 1421 
L 5190 1421 
L 5190 186 
L 3405 186 
z
M 3270 1837 
C 3648 2035 4000 2278 4326 2566 
C 4640 2291 5005 2042 5421 1837 
L 3270 1837 
z
" transform="scale(0.015)"/>
<path id="NotoSansCJKsc-Regular-20" transform="scale(0.015)"/>
<path id="NotoSansCJKsc-Regular-28" d="M 1530 -1254 
L 1888 -1094 
C 1338 -186 1075 902 1075 1990 
C 1075 3072 1338 4154 1888 5069 
L 1530 5235 
C 941 4275 589 3245 589 1990 
C 589 730 941 -301 1530 -1254 
z
" transform="scale(0.015)"/>
<path id="NotoSansCJKsc-Regular-7f8e" d="M 4448 5402 
C 4320 5126 4083 4742 3891 4480 
L 2195 4480 
L 2432 4589 
C 2330 4819 2099 5152 1869 5402 
L 1446 5222 
C 1645 5005 1837 4710 1946 4480 
L 627 4480 
L 627 4051 
L 2944 4051 
L 2944 3526 
L 941 3526 
L 941 3110 
L 2944 3110 
L 2944 2566 
L 358 2566 
L 358 2138 
L 2893 2138 
C 2867 1965 2842 1798 2803 1645 
L 525 1645 
L 525 1210 
L 2662 1210 
C 2368 557 1734 147 262 -64 
C 352 -173 467 -371 506 -493 
C 2163 -218 2854 314 3174 1165 
C 3680 237 4550 -288 5843 -493 
C 5907 -358 6035 -154 6144 -51 
C 4960 90 4115 499 3661 1210 
L 5997 1210 
L 5997 1645 
L 3315 1645 
C 3347 1798 3373 1965 3392 2138 
L 6080 2138 
L 6080 2566 
L 3430 2566 
L 3430 3110 
L 5491 3110 
L 5491 3526 
L 3430 3526 
L 3430 4051 
L 5779 4051 
L 5779 4480 
L 4422 4480 
C 4595 4710 4787 4986 4947 5248 
L 4448 5402 
z
" transform="scale(0.015)"/>
<path id="NotoSansCJKsc-Regular-5143" d="M 941 4877 
L 941 4416 
L 5485 4416 
L 5485 4877 
L 941 4877 
z
M 378 3085 
L 378 2611 
L 2010 2611 
C 1914 1414 1677 397 307 -122 
C 416 -211 557 -384 608 -493 
C 2099 102 2406 1235 2522 2611 
L 3731 2611 
L 3731 320 
C 3731 -237 3885 -397 4461 -397 
C 4582 -397 5261 -397 5389 -397 
C 5946 -397 6074 -96 6131 1005 
C 5997 1037 5792 1126 5677 1216 
C 5658 230 5613 58 5350 58 
C 5197 58 4634 58 4518 58 
C 4269 58 4218 96 4218 326 
L 4218 2611 
L 6029 2611 
L 6029 3085 
L 378 3085 
z
" transform="scale(0.015)"/>
<path id="NotoSansCJKsc-Regular-2f" d="M 70 -1146 
L 499 -1146 
L 2413 5082 
L 1990 5082 
L 70 -1146 
z
" transform="scale(0.015)"/>
<path id="NotoSansCJKsc-Regular-76ce" d="M 2925 5376 
L 2925 4800 
L 1184 4800 
L 1184 3430 
L 397 3430 
L 397 3014 
L 2656 3014 
C 2336 2560 1664 2138 250 1824 
C 352 1728 474 1542 525 1440 
C 730 1491 922 1542 1101 1594 
L 1101 102 
L 288 102 
L 288 -320 
L 6125 -320 
L 6125 102 
L 5293 102 
L 5293 1594 
C 5478 1549 5677 1510 5882 1485 
C 5939 1619 6067 1818 6170 1920 
C 5011 2035 4160 2374 3699 3014 
L 5990 3014 
L 5990 3430 
L 5216 3430 
L 5216 4800 
L 3398 4800 
L 3398 5376 
L 2925 5376 
z
M 1555 102 
L 1555 1306 
L 2342 1306 
L 2342 102 
L 1555 102 
z
M 2778 102 
L 2778 1306 
L 3578 1306 
L 3578 102 
L 2778 102 
z
M 4013 102 
L 4013 1306 
L 4819 1306 
L 4819 102 
L 4013 102 
z
M 1459 1715 
C 2451 2074 2950 2515 3187 2995 
C 3539 2374 4096 1965 4851 1715 
L 1459 1715 
z
M 1651 3430 
L 1651 4390 
L 2925 4390 
L 2925 4006 
C 2925 3814 2912 3622 2854 3430 
L 1651 3430 
z
M 4730 3430 
L 3341 3430 
C 3386 3616 3398 3808 3398 4000 
L 3398 4390 
L 4730 4390 
L 4730 3430 
z
" transform="scale(0.015)"/>
<path id="NotoSansCJKsc-Regular-53f8" d="M 608 3827 
L 608 3405 
L 4467 3405 
L 4467 3827 
L 608 3827 
z
M 563 4966 
L 563 4506 
L 5197 4506 
L 5197 211 
C 5197 90 5158 51 5043 51 
C 4909 45 4467 38 4026 58 
C 4096 -90 4173 -326 4192 -467 
C 4768 -467 5165 -461 5389 -378 
C 5619 -294 5683 -128 5683 205 
L 5683 4966 
L 563 4966 
z
M 1485 2285 
L 3552 2285 
L 3552 1088 
L 1485 1088 
L 1485 2285 
z
M 1018 2714 
L 1018 186 
L 1485 186 
L 1485 666 
L 4019 666 
L 4019 2714 
L 1018 2714 
z
" transform="scale(0.015)"/>
<path id="NotoSansCJKsc-Regular-29" d="M 634 -1254 
C 1222 -301 1574 730 1574 1990 
C 1574 3245 1222 4275 634 5235 
L 269 5069 
C 819 4154 1094 3072 1094 1990 
C 1094 902 819 -186 269 -1094 
L 634 -1254 
z
" transform="scale(0.015)"/>
</defs>
<use href="#NotoSansCJKsc-Regular-4ef7"/>
<use href="#NotoSansCJKsc-Regular-683c" transform="translate(99.999 0)"/>
<use href="#NotoSansCJKsc-Regular-20" transform="translate(199.999 0)"/>
<use href="#NotoSansCJKsc-Regular-28" transform="translate(222.399 0)"/>
<use href="#NotoSansCJKsc-Regular-7f8e" transform="translate(256.199 0)"/>
<use href="#NotoSansCJKsc-Regular-5143" transform="translate(356.199 0)"/>
<use href="#NotoSansCJKsc-Regular-2f" transform="translate(456.199 0)"/>
<use href="#NotoSansCJKsc-Regular-76ce" transform="translate(495.399 0)"/>
<use href="#NotoSansCJKsc-Regular-53f8" transform="translate(595.399 0)"/>
<use href="#NotoSansCJKsc-Regular-29" transform="translate(695.399 0)"/>
</g>
</g>
</g>
<g id="line2d_37">
<path d="M 64.055 186.300 
L 72.094 189.269 
L 80.134 186.160 
L 88.174 186.265 
L 96.213 185.703 
L 112.293 181.944 
L 120.332 177.992 
L 128.372 176.535 
L 136.412 166.611 
L 144.451 167.770 
L 152.491 176.728 
L 168.570 176.956 
L 176.610 176.640 
L 184.650 177.378 
L 192.689 176.025 
L 200.729 178.309 
L 208.769 179.573 
L 224.848 180.926 
L 232.888 178.098 
L 240.927 175.709 
L 248.967 166.066 
L 257.007 153.016 
L 265.046 155.809 
L 281.126 150.311 
L 289.165 145.868 
L 297.205 147.466 
L 305.245 147.782 
L 313.284 151.980 
L 321.324 146.184 
L 337.403 148.678 
L 345.443 148.678 
L 353.483 139.738 
L 361.522 139.176 
L 369.562 126.091 
L 377.602 135.470 
L 393.681 132.343 
L 401.721 129.621 
L 409.760 130.868 
L 417.800 117.625 
L 425.840 123.807 
L 433.879 115.499 
L 449.959 108.228 
L 457.998 111.600 
L 466.038 102.203 
L 474.078 100.148 
L 482.117 88.644 
L 490.157 80.037 
L 506.236 72.063 
L 514.276 104.627 
L 522.316 77.456 
L 530.355 104.311 
" clip-path="url(#pcaa371a0d5)" style="fill: none; stroke: #808080; stroke-width: 2; stroke-linecap: square"/>
</g>
<g id="patch_3">
<path d="M 40.74 376.435 
L 40.74 57.57 
" style="fill: none; opacity: 0.3; stroke: #cccccc; stroke-width: 0.8; stroke-linejoin: miter; stroke-linecap: square"/>
</g>
<g id="patch_4">
<path d="M 553.670 376.435 
L 553.670 57.57 
" style="fill: none; opacity: 0.3; stroke: #cccccc; stroke-width: 0.8; stroke-linejoin: miter; stroke-linecap: square"/>
</g>
<g id="patch_5">
<path d="M 40.74 376.435 
L 553.670 376.435 
" style="fill: none; opacity: 0.3; stroke: #cccccc; stroke-width: 0.8; stroke-linejoin: miter; stroke-linecap: square"/>
</g>
<g id="patch_6">
<path d="M 40.74 57.57 
L 553.670 57.57 
" style="fill: none; opacity: 0.3; stroke: #cccccc; stroke-width: 0.8; stroke-linejoin: miter; stroke-linecap: square"/>
</g>
<g id="text_21">
<!-- 白银价格走势 (2025年11月-12月) -->
<g transform="translate(201.739 51.57) scale(0.13 -0.13)">
<defs>
<path id="NotoSansCJKsc-Regular-767d" d="M 2854 5402 
C 2778 5094 2630 4678 2496 4352 
L 922 4352 
L 922 -512 
L 1402 -512 
L 1402 -45 
L 4992 -45 
L 4992 -480 
L 5491 -480 
L 5491 4352 
L 3027 4352 
C 3168 4640 3322 4979 3450 5293 
L 2854 5402 
z
M 1402 435 
L 1402 1933 
L 4992 1933 
L 4992 435 
L 1402 435 
z
M 1402 2406 
L 1402 3866 
L 4992 3866 
L 4992 2406 
L 1402 2406 
z
" transform="scale(0.015)"/>
<path id="NotoSansCJKsc-Regular-94f6" d="M 5306 3494 
L 5306 2714 
L 3430 2714 
L 3430 3494 
L 5306 3494 
z
M 5306 3898 
L 3430 3898 
L 3430 4672 
L 5306 4672 
L 5306 3898 
z
M 2944 -512 
C 3066 -429 3264 -358 4589 0 
C 4570 102 4563 301 4563 435 
L 3430 160 
L 3430 2291 
L 4013 2291 
C 4320 1011 4902 19 5888 -467 
C 5958 -333 6093 -147 6202 -51 
C 5702 160 5299 518 4992 973 
C 5344 1178 5766 1466 6086 1734 
L 5779 2074 
C 5530 1830 5126 1530 4794 1306 
C 4634 1606 4506 1939 4410 2291 
L 5747 2291 
L 5747 5094 
L 2963 5094 
L 2963 339 
C 2963 70 2829 -58 2726 -115 
C 2797 -211 2906 -403 2944 -512 
z
M 1139 5357 
C 947 4762 602 4186 218 3808 
C 294 3706 422 3462 467 3360 
C 691 3584 902 3872 1088 4186 
L 2592 4186 
L 2592 4646 
L 1331 4646 
C 1427 4838 1504 5037 1574 5235 
L 1139 5357 
z
M 1222 -467 
C 1338 -358 1517 -256 2720 371 
C 2688 467 2650 653 2637 781 
L 1728 339 
L 1728 1760 
L 2650 1760 
L 2650 2202 
L 1728 2202 
L 1728 3066 
L 2509 3066 
L 2509 3501 
L 704 3501 
L 704 3066 
L 1267 3066 
L 1267 2202 
L 371 2202 
L 371 1760 
L 1267 1760 
L 1267 358 
C 1267 109 1126 0 1024 -51 
C 1101 -154 1197 -352 1222 -467 
z
" transform="scale(0.015)"/>
<path id="NotoSansCJKsc-Regular-8d70" d="M 1402 2458 
C 1306 1517 998 384 218 -211 
C 326 -288 493 -435 576 -525 
C 1030 -166 1338 358 1549 934 
C 2189 -186 3232 -429 4608 -429 
L 5990 -429 
C 6016 -294 6099 -77 6170 38 
C 5888 32 4838 32 4627 32 
C 4198 32 3795 58 3430 134 
L 3430 1395 
L 5574 1395 
L 5574 1830 
L 3430 1830 
L 3430 2848 
L 5990 2848 
L 5990 3296 
L 3430 3296 
L 3430 4179 
L 5523 4179 
L 5523 4627 
L 3430 4627 
L 3430 5370 
L 2938 5370 
L 2938 4627 
L 960 4627 
L 960 4179 
L 2938 4179 
L 2938 3296 
L 403 3296 
L 403 2848 
L 2938 2848 
L 2938 282 
C 2413 493 2003 870 1728 1517 
C 1805 1811 1862 2106 1901 2394 
L 1402 2458 
z
" transform="scale(0.015)"/>
<path id="NotoSansCJKsc-Regular-52bf" d="M 1370 5376 
L 1370 4749 
L 410 4749 
L 410 4320 
L 1370 4320 
L 1370 3699 
L 314 3533 
L 410 3091 
L 1370 3258 
L 1370 2688 
C 1370 2618 1344 2592 1261 2592 
C 1184 2592 909 2592 614 2598 
C 672 2483 730 2310 749 2195 
C 1171 2189 1427 2195 1594 2266 
C 1766 2330 1811 2445 1811 2688 
L 1811 3334 
L 2688 3488 
L 2669 3917 
L 1811 3770 
L 1811 4320 
L 2643 4320 
L 2643 4749 
L 1811 4749 
L 1811 5376 
L 1370 5376 
z
M 2720 2240 
C 2701 2086 2669 1933 2637 1792 
L 582 1792 
L 582 1363 
L 2502 1363 
C 2227 678 1651 166 282 -102 
C 378 -205 499 -397 538 -518 
C 2086 -173 2720 480 3021 1363 
L 4998 1363 
C 4909 531 4806 160 4666 45 
C 4602 -13 4525 -19 4390 -19 
C 4237 -19 3814 -13 3398 19 
C 3482 -96 3546 -282 3552 -416 
C 3962 -442 4358 -448 4557 -435 
C 4787 -422 4928 -390 5062 -256 
C 5274 -64 5382 422 5504 1581 
C 5510 1645 5523 1792 5523 1792 
L 3142 1792 
C 3174 1939 3200 2086 3219 2240 
L 2874 2240 
C 3290 2445 3578 2714 3770 3053 
C 4064 2848 4333 2650 4512 2496 
L 4774 2874 
C 4576 3034 4275 3245 3949 3456 
C 4038 3712 4096 4006 4128 4339 
L 4928 4339 
C 4915 3034 4960 2234 5606 2234 
C 5952 2234 6106 2406 6157 3046 
C 6042 3072 5888 3149 5792 3226 
C 5773 2803 5734 2662 5626 2662 
C 5350 2656 5338 3360 5370 4749 
L 4166 4749 
L 4192 5376 
L 3744 5376 
L 3718 4749 
L 2784 4749 
L 2784 4339 
L 3686 4339 
C 3654 4102 3616 3891 3558 3699 
L 3008 4026 
L 2752 3699 
C 2957 3584 3174 3443 3398 3302 
C 3219 2976 2944 2726 2515 2541 
C 2598 2477 2714 2342 2771 2240 
L 2720 2240 
z
" transform="scale(0.015)"/>
<path id="NotoSansCJKsc-Regular-5e74" d="M 307 1427 
L 307 966 
L 3277 966 
L 3277 -512 
L 3770 -512 
L 3770 966 
L 6106 966 
L 6106 1427 
L 3770 1427 
L 3770 2701 
L 5658 2701 
L 5658 3155 
L 3770 3155 
L 3770 4141 
L 5805 4141 
L 5805 4602 
L 1965 4602 
C 2074 4819 2170 5043 2259 5274 
L 1773 5402 
C 1466 4531 934 3699 320 3174 
C 442 3104 646 2944 736 2867 
C 1082 3200 1421 3642 1715 4141 
L 3277 4141 
L 3277 3155 
L 1363 3155 
L 1363 1427 
L 307 1427 
z
M 1843 1427 
L 1843 2701 
L 3277 2701 
L 3277 1427 
L 1843 1427 
z
" transform="scale(0.015)"/>
<path id="NotoSansCJKsc-Regular-6708" d="M 1325 5037 
L 1325 3066 
C 1325 2035 1222 736 186 -173 
C 294 -237 480 -416 550 -518 
C 1178 32 1498 755 1658 1485 
L 4749 1485 
L 4749 205 
C 4749 64 4704 19 4550 13 
C 4403 6 3885 0 3354 19 
C 3437 -115 3526 -339 3558 -486 
C 4243 -486 4672 -480 4922 -390 
C 5158 -307 5254 -147 5254 198 
L 5254 5037 
L 1325 5037 
z
M 1811 4570 
L 4749 4570 
L 4749 3494 
L 1811 3494 
L 1811 4570 
z
M 1811 3040 
L 4749 3040 
L 4749 1952 
L 1741 1952 
C 1792 2330 1811 2701 1811 3040 
z
" transform="scale(0.015)"/>
</defs>
<use href="#NotoSansCJKsc-Regular-767d"/>
<use href="#NotoSansCJKsc-Regular-94f6" transform="translate(99.999 0)"/>
<use href="#NotoSansCJKsc-Regular-4ef7" transform="translate(199.999 0)"/>
<use href="#NotoSansCJKsc-Regular-683c" transform="translate(299.999 0)"/>
<use href="#NotoSansCJKsc-Regular-8d70" transform="translate(399.999 0)"/>
<use href="#NotoSansCJKsc-Regular-52bf" transform="translate(499.999 0)"/>
<use href="#NotoSansCJKsc-Regular-20" transform="translate(599.999 0)"/>
<use href="#NotoSansCJKsc-Regular-28" transform="translate(622.399 0)"/>
<use href="#NotoSansCJKsc-Regular-32" transform="translate(656.199 0)"/>
<use href="#NotoSansCJKsc-Regular-30" transform="translate(711.699 0)"/>
<use href="#NotoSansCJKsc-Regular-32" transform="translate(767.199 0)"/>
<use href="#NotoSansCJKsc-Regular-35" transform="translate(822.699 0)"/>
<use href="#NotoSansCJKsc-Regular-5e74" transform="translate(878.199 0)"/>
<use href="#NotoSansCJKsc-Regular-31" transform="translate(978.199 0)"/>
<use href="#NotoSansCJKsc-Regular-31" transform="translate(1033.699 0)"/>
<use href="#NotoSansCJKsc-Regular-6708" transform="translate(1089.199 0)"/>
<use href="#NotoSansCJKsc-Regular-2d" transform="translate(1189.199 0)"/>
<use href="#NotoSansCJKsc-Regular-31" transform="translate(1223.899 0)"/>
<use href="#NotoSansCJKsc-Regular-32" transform="translate(1279.399 0)"/>
<use href="#NotoSansCJKsc-Regular-6708" transform="translate(1334.899 0)"/>
<use href="#NotoSansCJKsc-Regular-29" transform="translate(1434.899 0)"/>
</g>
</g>
</g>
<g id="axes_2">
<g id="patch_7">
<path d="M 614.13 376.435 
L 1127.060 376.435 
L 1127.060 57.57 
L 614.13 57.57 
z
" style="fill: #fafafa"/>
</g>
<g id="matplotlib.axis_3">
<g id="xtick_10">
<g id="line2d_38">
<path d="M 621.365 376.435 
L 621.365 57.57 
" clip-path="url(#pf0afd58b29)" style="fill: none; stroke-dasharray: 2.96,1.28; stroke-dashoffset: 0; stroke: #cccccc; stroke-opacity: 0.3; stroke-width: 0.8"/>
</g>
<g id="line2d_39">
<g>
<use href="#m96d0b143b3" x="621.365" y="376.435" style="stroke: #000000; stroke-width: 0.8"/>
</g>
</g>
<g id="text_22">
<!-- 2025-11-01 -->
<g transform="translate(605.218 425.366) rotate(-45) scale(0.1 -0.1)">
<use href="#NotoSansCJKsc-Regular-32"/>
<use href="#NotoSansCJKsc-Regular-30" transform="translate(55.499 0)"/>
<use href="#NotoSansCJKsc-Regular-32" transform="translate(110.999 0)"/>
<use href="#NotoSansCJKsc-Regular-35" transform="translate(166.499 0)"/>
<use href="#NotoSansCJKsc-Regular-2d" transform="translate(221.999 0)"/>
<use href="#NotoSansCJKsc-Regular-31" transform="translate(256.699 0)"/>
<use href="#NotoSansCJKsc-Regular-31" transform="translate(312.199 0)"/>
<use href="#NotoSansCJKsc-Regular-2d" transform="translate(367.699 0)"/>
<use href="#NotoSansCJKsc-Regular-30" transform="translate(402.399 0)"/>
<use href="#NotoSansCJKsc-Regular-31" transform="translate(457.899 0)"/>
</g>
</g>
</g>
<g id="xtick_11">
<g id="line2d_40">
<path d="M 677.643 376.435 
L 677.643 57.57 
" clip-path="url(#pf0afd58b29)" style="fill: none; stroke-dasharray: 2.96,1.28; stroke-dashoffset: 0; stroke: #cccccc; stroke-opacity: 0.3; stroke-width: 0.8"/>
</g>
<g id="line2d_41">
<g>
<use href="#m96d0b143b3" x="677.643" y="376.435" style="stroke: #000000; stroke-width: 0.8"/>
</g>
</g>
<g id="text_23">
<!-- 2025-11-08 -->
<g transform="translate(661.495 425.366) rotate(-45) scale(0.1 -0.1)">
<use href="#NotoSansCJKsc-Regular-32"/>
<use href="#NotoSansCJKsc-Regular-30" transform="translate(55.499 0)"/>
<use href="#NotoSansCJKsc-Regular-32" transform="translate(110.999 0)"/>
<use href="#NotoSansCJKsc-Regular-35" transform="translate(166.499 0)"/>
<use href="#NotoSansCJKsc-Regular-2d" transform="translate(221.999 0)"/>
<use href="#NotoSansCJKsc-Regular-31" transform="translate(256.699 0)"/>
<use href="#NotoSansCJKsc-Regular-31" transform="translate(312.199 0)"/>
<use href="#NotoSansCJKsc-Regular-2d" transform="translate(367.699 0)"/>
<use href="#NotoSansCJKsc-Regular-30" transform="translate(402.399 0)"/>
<use href="#NotoSansCJKsc-Regular-38" transform="translate(457.899 0)"/>
</g>
</g>
</g>
<g id="xtick_12">
<g id="line2d_42">
<path d="M 733.921 376.435 
L 733.921 57.57 
" clip-path="url(#pf0afd58b29)" style="fill: none; stroke-dasharray: 2.96,1.28; stroke-dashoffset: 0; stroke: #cccccc; stroke-opacity: 0.3; stroke-width: 0.8"/>
</g>
<g id="line2d_43">
<g>
<use href="#m96d0b143b3" x="733.921" y="376.435" style="stroke: #000000; stroke-width: 0.8"/>
</g>
</g>
<g id="text_24">
<!-- 2025-11-15 -->
<g transform="translate(717.773 425.366) rotate(-45) scale(0.1 -0.1)">
<use href="#NotoSansCJKsc-Regular-32"/>
<use href="#NotoSansCJKsc-Regular-30" transform="translate(55.499 0)"/>
<use href="#NotoSansCJKsc-Regular-32" transform="translate(110.999 0)"/>
<use href="#NotoSansCJKsc-Regular-35" transform="translate(166.499 0)"/>
<use href="#NotoSansCJKsc-Regular-2d" transform="translate(221.999 0)"/>
<use href="#NotoSansCJKsc-Regular-31" transform="translate(256.699 0)"/>
<use href="#NotoSansCJKsc-Regular-31" transform="translate(312.199 0)"/>
<use href="#NotoSansCJKsc-Regular-2d" transform="translate(367.699 0)"/>
<use href="#NotoSansCJKsc-Regular-31" transform="translate(402.399 0)"/>
<use href="#NotoSansCJKsc-Regular-35" transform="translate(457.899 0)"/>
</g>
</g>
</g>
<g id="xtick_13">
<g id="line2d_44">
<path d="M 790.198 376.435 
L 790.198 57.57 
" clip-path="url(#pf0afd58b29)" style="fill: none; stroke-dasharray: 2.96,1.28; stroke-dashoffset: 0; stroke: #cccccc; stroke-opacity: 0.3; stroke-width: 0.8"/>
</g>
<g id="line2d_45">
<g>
<use href="#m96d0b143b3" x="790.198" y="376.435" style="stroke: #000000; stroke-width: 0.8"/>
</g>
</g>
<g id="text_25">
<!-- 2025-11-22 -->
<g transform="translate(774.051 425.366) rotate(-45) scale(0.1 -0.1)">
<use href="#NotoSansCJKsc-Regular-32"/>
<use href="#NotoSansCJKsc-Regular-30" transform="translate(55.499 0)"/>
<use href="#NotoSansCJKsc-Regular-32" transform="translate(110.999 0)"/>
<use href="#NotoSansCJKsc-Regular-35" transform="translate(166.499 0)"/>
<use href="#NotoSansCJKsc-Regular-2d" transform="translate(221.999 0)"/>
<use href="#NotoSansCJKsc-Regular-31" transform="translate(256.699 0)"/>
<use href="#NotoSansCJKsc-Regular-31" transform="translate(312.199 0)"/>
<use href="#NotoSansCJKsc-Regular-2d" transform="translate(367.699 0)"/>
<use href="#NotoSansCJKsc-Regular-32" transform="translate(402.399 0)"/>
<use href="#NotoSansCJKsc-Regular-32" transform="translate(457.899 0)"/>
</g>
</g>
</g>
<g id="xtick_14">
<g id="line2d_46">
<path d="M 862.555 376.435 
L 862.555 57.57 
" clip-path="url(#pf0afd58b29)" style="fill: none; stroke-dasharray: 2.96,1.28; stroke-dashoffset: 0; stroke: #cccccc; stroke-opacity: 0.3; stroke-width: 0.8"/>
</g>
<g id="line2d_47">
<g>
<use href="#m96d0b143b3" x="862.555" y="376.435" style="stroke: #000000; stroke-width: 0.8"/>
</g>
</g>
<g id="text_26">
<!-- 2025-12-01 -->
<g transform="translate(846.408 425.366) rotate(-45) scale(0.1 -0.1)">
<use href="#NotoSansCJKsc-Regular-32"/>
<use href="#NotoSansCJKsc-Regular-30" transform="translate(55.499 0)"/>
<use href="#NotoSansCJKsc-Regular-32" transform="translate(110.999 0)"/>
<use href="#NotoSansCJKsc-Regular-35" transform="translate(166.499 0)"/>
<use href="#NotoSansCJKsc-Regular-2d" transform="translate(221.999 0)"/>
<use href="#NotoSansCJKsc-Regular-31" transform="translate(256.699 0)"/>
<use href="#NotoSansCJKsc-Regular-32" transform="translate(312.199 0)"/>
<use href="#NotoSansCJKsc-Regular-2d" transform="translate(367.699 0)"/>
<use href="#NotoSansCJKsc-Regular-30" transform="translate(402.399 0)"/>
<use href="#NotoSansCJKsc-Regular-31" transform="translate(457.899 0)"/>
</g>
</g>
</g>
<g id="xtick_15">
<g id="line2d_48">
<path d="M 918.833 376.435 
L 918.833 57.57 
" clip-path="url(#pf0afd58b29)" style="fill: none; stroke-dasharray: 2.96,1.28; stroke-dashoffset: 0; stroke: #cccccc; stroke-opacity: 0.3; stroke-width: 0.8"/>
</g>
<g id="line2d_49">
<g>
<use href="#m96d0b143b3" x="918.833" y="376.435" style="stroke: #000000; stroke-width: 0.8"/>
</g>
</g>
<g id="text_27">
<!-- 2025-12-08 -->
<g transform="translate(902.685 425.366) rotate(-45) scale(0.1 -0.1)">
<use href="#NotoSansCJKsc-Regular-32"/>
<use href="#NotoSansCJKsc-Regular-30" transform="translate(55.499 0)"/>
<use href="#NotoSansCJKsc-Regular-32" transform="translate(110.999 0)"/>
<use href="#NotoSansCJKsc-Regular-35" transform="translate(166.499 0)"/>
<use href="#NotoSansCJKsc-Regular-2d" transform="translate(221.999 0)"/>
<use href="#NotoSansCJKsc-Regular-31" transform="translate(256.699 0)"/>
<use href="#NotoSansCJKsc-Regular-32" transform="translate(312.199 0)"/>
<use href="#NotoSansCJKsc-Regular-2d" transform="translate(367.699 0)"/>
<use href="#NotoSansCJKsc-Regular-30" transform="translate(402.399 0)"/>
<use href="#NotoSansCJKsc-Regular-38" transform="translate(457.899 0)"/>
</g>
</g>
</g>
<g id="xtick_16">
<g id="line2d_50">
<path d="M 975.111 376.435 
L 975.111 57.57 
" clip-path="url(#pf0afd58b29)" style="fill: none; stroke-dasharray: 2.96,1.28; stroke-dashoffset: 0; stroke: #cccccc; stroke-opacity: 0.3; stroke-width: 0.8"/>
</g>
<g id="line2d_51">
<g>
<use href="#m96d0b143b3" x="975.111" y="376.435" style="stroke: #000000; stroke-width: 0.8"/>
</g>
</g>
<g id="text_28">
<!-- 2025-12-15 -->
<g transform="translate(958.963 425.366) rotate(-45) scale(0.1 -0.1)">
<use href="#NotoSansCJKsc-Regular-32"/>
<use href="#NotoSansCJKsc-Regular-30" transform="translate(55.499 0)"/>
<use href="#NotoSansCJKsc-Regular-32" transform="translate(110.999 0)"/>
<use href="#NotoSansCJKsc-Regular-35" transform="translate(166.499 0)"/>
<use href="#NotoSansCJKsc-Regular-2d" transform="translate(221.999 0)"/>
<use href="#NotoSansCJKsc-Regular-31" transform="translate(256.699 0)"/>
<use href="#NotoSansCJKsc-Regular-32" transform="translate(312.199 0)"/>
<use href="#NotoSansCJKsc-Regular-2d" transform="translate(367.699 0)"/>
<use href="#NotoSansCJKsc-Regular-31" transform="translate(402.399 0)"/>
<use href="#NotoSansCJKsc-Regular-35" transform="translate(457.899 0)"/>
</g>
</g>
</g>
<g id="xtick_17">
<g id="line2d_52">
<path d="M 1031.388 376.435 
L 1031.388 57.57 
" clip-path="url(#pf0afd58b29)" style="fill: none; stroke-dasharray: 2.96,1.28; stroke-dashoffset: 0; stroke: #cccccc; stroke-opacity: 0.3; stroke-width: 0.8"/>
</g>
<g id="line2d_53">
<g>
<use href="#m96d0b143b3" x="1031.388" y="376.435" style="stroke: #000000; stroke-width: 0.8"/>
</g>
</g>
<g id="text_29">
<!-- 2025-12-22 -->
<g transform="translate(1015.241 425.366) rotate(-45) scale(0.1 -0.1)">
<use href="#NotoSansCJKsc-Regular-32"/>
<use href="#NotoSansCJKsc-Regular-30" transform="translate(55.499 0)"/>
<use href="#NotoSansCJKsc-Regular-32" transform="translate(110.999 0)"/>
<use href="#NotoSansCJKsc-Regular-35" transform="translate(166.499 0)"/>
<use href="#NotoSansCJKsc-Regular-2d" transform="translate(221.999 0)"/>
<use href="#NotoSansCJKsc-Regular-31" transform="translate(256.699 0)"/>
<use href="#NotoSansCJKsc-Regular-32" transform="translate(312.199 0)"/>
<use href="#NotoSansCJKsc-Regular-2d" transform="translate(367.699 0)"/>
<use href="#NotoSansCJKsc-Regular-32" transform="translate(402.399 0)"/>
<use href="#NotoSansCJKsc-Regular-32" transform="translate(457.899 0)"/>
</g>
</g>
</g>
<g id="xtick_18">
<g id="line2d_54">
<path d="M 1111.785 376.435 
L 1111.785 57.57 
" clip-path="url(#pf0afd58b29)" style="fill: none; stroke-dasharray: 2.96,1.28; stroke-dashoffset: 0; stroke: #cccccc; stroke-opacity: 0.3; stroke-width: 0.8"/>
</g>
<g id="line2d_55">
<g>
<use href="#m96d0b143b3" x="1111.785" y="376.435" style="stroke: #000000; stroke-width: 0.8"/>
</g>
</g>
<g id="text_30">
<!-- 2026-01-01 -->
<g transform="translate(1095.637 425.366) rotate(-45) scale(0.1 -0.1)">
<use href="#NotoSansCJKsc-Regular-32"/>
<use href="#NotoSansCJKsc-Regular-30" transform="translate(55.499 0)"/>
<use href="#NotoSansCJKsc-Regular-32" transform="translate(110.999 0)"/>
<use href="#NotoSansCJKsc-Regular-36" transform="translate(166.499 0)"/>
<use href="#NotoSansCJKsc-Regular-2d" transform="translate(221.999 0)"/>
<use href="#NotoSansCJKsc-Regular-30" transform="translate(256.699 0)"/>
<use href="#NotoSansCJKsc-Regular-31" transform="translate(312.199 0)"/>
<use href="#NotoSansCJKsc-Regular-2d" transform="translate(367.699 0)"/>
<use href="#NotoSansCJKsc-Regular-30" transform="translate(402.399 0)"/>
<use href="#NotoSansCJKsc-Regular-31" transform="translate(457.899 0)"/>
</g>
</g>
</g>
<g id="text_31">
<!-- 日期 -->
<g transform="translate(859.595 439.741) scale(0.11 -0.11)">
<use href="#NotoSansCJKsc-Regular-65e5"/>
<use href="#NotoSansCJKsc-Regular-671f" transform="translate(99.999 0)"/>
</g>
</g>
</g>
<g id="matplotlib.axis_4">
<g id="ytick_10">
<g id="line2d_56">
<path d="M 614.13 354.600 
L 1127.060 354.600 
" clip-path="url(#pf0afd58b29)" style="fill: none; stroke-dasharray: 2.96,1.28; stroke-dashoffset: 0; stroke: #cccccc; stroke-opacity: 0.3; stroke-width: 0.8"/>
</g>
<g id="line2d_57">
<g>
<use href="#m0469b5f568" x="614.13" y="354.600" style="stroke: #000000; stroke-width: 0.8"/>
</g>
</g>
<g id="text_32">
<!-- 100 -->
<g transform="translate(590.48 358.579) scale(0.1 -0.1)">
<use href="#NotoSansCJKsc-Regular-31"/>
<use href="#NotoSansCJKsc-Regular-30" transform="translate(55.499 0)"/>
<use href="#NotoSansCJKsc-Regular-30" transform="translate(110.999 0)"/>
</g>
</g>
</g>
<g id="ytick_11">
<g id="line2d_58">
<path d="M 614.13 311.159 
L 1127.060 311.159 
" clip-path="url(#pf0afd58b29)" style="fill: none; stroke-dasharray: 2.96,1.28; stroke-dashoffset: 0; stroke: #cccccc; stroke-opacity: 0.3; stroke-width: 0.8"/>
</g>
<g id="line2d_59">
<g>
<use href="#m0469b5f568" x="614.13" y="311.159" style="stroke: #000000; stroke-width: 0.8"/>
</g>
</g>
<g id="text_33">
<!-- 110 -->
<g transform="translate(590.48 315.139) scale(0.1 -0.1)">
<use href="#NotoSansCJKsc-Regular-31"/>
<use href="#NotoSansCJKsc-Regular-31" transform="translate(55.499 0)"/>
<use href="#NotoSansCJKsc-Regular-30" transform="translate(110.999 0)"/>
</g>
</g>
</g>
<g id="ytick_12">
<g id="line2d_60">
<path d="M 614.13 267.719 
L 1127.060 267.719 
" clip-path="url(#pf0afd58b29)" style="fill: none; stroke-dasharray: 2.96,1.28; stroke-dashoffset: 0; stroke: #cccccc; stroke-opacity: 0.3; stroke-width: 0.8"/>
</g>
<g id="line2d_61">
<g>
<use href="#m0469b5f568" x="614.13" y="267.719" style="stroke: #000000; stroke-width: 0.8"/>
</g>
</g>
<g id="text_34">
<!-- 120 -->
<g transform="translate(590.48 271.699) scale(0.1 -0.1)">
<use href="#NotoSansCJKsc-Regular-31"/>
<use href="#NotoSansCJKsc-Regular-32" transform="translate(55.499 0)"/>
<use href="#NotoSansCJKsc-Regular-30" transform="translate(110.999 0)"/>
</g>
</g>
</g>
<g id="ytick_13">
<g id="line2d_62">
<path d="M 614.13 224.279 
L 1127.060 224.279 
" clip-path="url(#pf0afd58b29)" style="fill: none; stroke-dasharray: 2.96,1.28; stroke-dashoffset: 0; stroke: #cccccc; stroke-opacity: 0.3; stroke-width: 0.8"/>
</g>
<g id="line2d_63">
<g>
<use href="#m0469b5f568" x="614.13" y="224.279" style="stroke: #000000; stroke-width: 0.8"/>
</g>
</g>
<g id="text_35">
<!-- 130 -->
<g transform="translate(590.48 228.258) scale(0.1 -0.1)">
<use href="#NotoSansCJKsc-Regular-31"/>
<use href="#NotoSansCJKsc-Regular-33" transform="translate(55.499 0)"/>
<use href="#NotoSansCJKsc-Regular-30" transform="translate(110.999 0)"/>
</g>
</g>
</g>
<g id="ytick_14">
<g id="line2d_64">
<path d="M 614.13 180.838 
L 1127.060 180.838 
" clip-path="url(#pf0afd58b29)" style="fill: none; stroke-dasharray: 2.96,1.28; stroke-dashoffset: 0; stroke: #cccccc; stroke-opacity: 0.3; stroke-width: 0.8"/>
</g>
<g id="line2d_65">
<g>
<use href="#m0469b5f568" x="614.13" y="180.838" style="stroke: #000000; stroke-width: 0.8"/>
</g>
</g>
<g id="text_36">
<!-- 140 -->
<g transform="translate(590.48 184.818) scale(0.1 -0.1)">
<use href="#NotoSansCJKsc-Regular-31"/>
<use href="#NotoSansCJKsc-Regular-34" transform="translate(55.499 0)"/>
<use href="#NotoSansCJKsc-Regular-30" transform="translate(110.999 0)"/>
</g>
</g>
</g>
<g id="ytick_15">
<g id="line2d_66">
<path d="M 614.13 137.398 
L 1127.060 137.398 
" clip-path="url(#pf0afd58b29)" style="fill: none; stroke-dasharray: 2.96,1.28; stroke-dashoffset: 0; stroke: #cccccc; stroke-opacity: 0.3; stroke-width: 0.8"/>
</g>
<g id="line2d_67">
<g>
<use href="#m0469b5f568" x="614.13" y="137.398" style="stroke: #000000; stroke-width: 0.8"/>
</g>
</g>
<g id="text_37">
<!-- 150 -->
<g transform="translate(590.48 141.377) scale(0.1 -0.1)">
<use href="#NotoSansCJKsc-Regular-31"/>
<use href="#NotoSansCJKsc-Regular-35" transform="translate(55.499 0)"/>
<use href="#NotoSansCJKsc-Regular-30" transform="translate(110.999 0)"/>
</g>
</g>
</g>
<g id="ytick_16">
<g id="line2d_68">
<path d="M 614.13 93.957 
L 1127.060 93.957 
" clip-path="url(#pf0afd58b29)" style="fill: none; stroke-dasharray: 2.96,1.28; stroke-dashoffset: 0; stroke: #cccccc; stroke-opacity: 0.3; stroke-width: 0.8"/>
</g>
<g id="line2d_69">
<g>
<use href="#m0469b5f568" x="614.13" y="93.957" style="stroke: #000000; stroke-width: 0.8"/>
</g>
</g>
<g id="text_38">
<!-- 160 -->
<g transform="translate(590.48 97.937) scale(0.1 -0.1)">
<use href="#NotoSansCJKsc-Regular-31"/>
<use href="#NotoSansCJKsc-Regular-36" transform="translate(55.499 0)"/>
<use href="#NotoSansCJKsc-Regular-30" transform="translate(110.999 0)"/>
</g>
</g>
</g>
<g id="text_39">
<!-- 相对价格 (基准=100) -->
<g transform="translate(583.960 267.162) rotate(-90) scale(0.11 -0.11)">
<defs>
<path id="NotoSansCJKsc-Regular-76f8" d="M 3494 3034 
L 5440 3034 
L 5440 1920 
L 3494 1920 
L 3494 3034 
z
M 3494 3469 
L 3494 4544 
L 5440 4544 
L 5440 3469 
L 3494 3469 
z
M 3494 1478 
L 5440 1478 
L 5440 365 
L 3494 365 
L 3494 1478 
z
M 3027 4998 
L 3027 -467 
L 3494 -467 
L 3494 -77 
L 5440 -77 
L 5440 -448 
L 5926 -448 
L 5926 4998 
L 3027 4998 
z
M 1370 5376 
L 1370 4006 
L 333 4006 
L 333 3546 
L 1312 3546 
C 1088 2662 634 1651 186 1120 
C 262 1005 384 813 435 685 
C 781 1126 1120 1837 1370 2573 
L 1370 -506 
L 1837 -506 
L 1837 2419 
C 2080 2106 2368 1709 2490 1498 
L 2784 1888 
C 2643 2061 2061 2746 1837 2970 
L 1837 3546 
L 2752 3546 
L 2752 4006 
L 1837 4006 
L 1837 5376 
L 1370 5376 
z
" transform="scale(0.015)"/>
<path id="NotoSansCJKsc-Regular-5bf9" d="M 3213 2522 
C 3514 2067 3802 1459 3904 1075 
L 4326 1286 
C 4224 1670 3917 2259 3603 2701 
L 3213 2522 
z
M 582 2899 
C 973 2547 1389 2131 1760 1709 
C 1376 890 870 269 288 -109 
C 403 -205 550 -384 627 -499 
C 1216 -77 1715 512 2106 1299 
C 2394 941 2630 602 2784 314 
L 3168 666 
C 2982 998 2682 1395 2330 1798 
C 2624 2534 2835 3411 2944 4448 
L 2630 4538 
L 2547 4518 
L 448 4518 
L 448 4064 
L 2419 4064 
C 2323 3373 2170 2752 1965 2202 
C 1626 2554 1267 2899 922 3200 
L 582 2899 
z
M 4896 5376 
L 4896 3834 
L 3085 3834 
L 3085 3373 
L 4896 3373 
L 4896 141 
C 4896 26 4851 -6 4742 -13 
C 4634 -13 4275 -19 3872 0 
C 3936 -147 4006 -371 4032 -506 
C 4576 -506 4902 -493 5094 -410 
C 5293 -326 5370 -179 5370 141 
L 5370 3373 
L 6138 3373 
L 6138 3834 
L 5370 3834 
L 5370 5376 
L 4896 5376 
z
" transform="scale(0.015)"/>
<path id="NotoSansCJKsc-Regular-57fa" d="M 4378 5370 
L 4378 4755 
L 2048 4755 
L 2048 5376 
L 1568 5376 
L 1568 4755 
L 589 4755 
L 589 4352 
L 1568 4352 
L 1568 2298 
L 294 2298 
L 294 1888 
L 1690 1888 
C 1318 1434 755 1030 230 819 
C 333 730 474 563 544 448 
C 1165 742 1818 1286 2214 1888 
L 4237 1888 
C 4627 1318 5254 787 5869 525 
C 5946 640 6086 813 6189 902 
C 5651 1094 5107 1466 4742 1888 
L 6112 1888 
L 6112 2298 
L 4864 2298 
L 4864 4352 
L 5830 4352 
L 5830 4755 
L 4864 4755 
L 4864 5370 
L 4378 5370 
z
M 2048 4352 
L 4378 4352 
L 4378 3923 
L 2048 3923 
L 2048 4352 
z
M 2944 1683 
L 2944 1146 
L 1632 1146 
L 1632 749 
L 2944 749 
L 2944 70 
L 794 70 
L 794 -339 
L 5645 -339 
L 5645 70 
L 3430 70 
L 3430 749 
L 4774 749 
L 4774 1146 
L 3430 1146 
L 3430 1683 
L 2944 1683 
z
M 2048 3565 
L 4378 3565 
L 4378 3117 
L 2048 3117 
L 2048 3565 
z
M 2048 2752 
L 4378 2752 
L 4378 2298 
L 2048 2298 
L 2048 2752 
z
" transform="scale(0.015)"/>
<path id="NotoSansCJKsc-Regular-51c6" d="M 307 4896 
C 627 4448 1005 3827 1171 3443 
L 1619 3680 
C 1446 4058 1056 4653 723 5094 
L 307 4896 
z
M 307 13 
L 794 -211 
C 1094 397 1446 1222 1715 1939 
L 1293 2170 
C 998 1408 595 538 307 13 
z
M 2784 2528 
L 4134 2528 
L 4134 1677 
L 2784 1677 
L 2784 2528 
z
M 2784 2950 
L 2784 3814 
L 4134 3814 
L 4134 2950 
L 2784 2950 
z
M 3885 5152 
C 4064 4870 4269 4486 4358 4230 
L 2893 4230 
C 3046 4544 3181 4877 3296 5210 
L 2848 5318 
C 2528 4333 1984 3379 1350 2771 
C 1453 2694 1632 2522 1702 2432 
C 1926 2662 2138 2931 2336 3238 
L 2336 -512 
L 2784 -512 
L 2784 -58 
L 6106 -58 
L 6106 378 
L 4602 378 
L 4602 1254 
L 5837 1254 
L 5837 1677 
L 4602 1677 
L 4602 2528 
L 5843 2528 
L 5843 2950 
L 4602 2950 
L 4602 3814 
L 5978 3814 
L 5978 4230 
L 4390 4230 
L 4800 4435 
C 4698 4678 4493 5050 4288 5331 
L 3885 5152 
z
M 2784 1254 
L 4134 1254 
L 4134 378 
L 2784 378 
L 2784 1254 
z
" transform="scale(0.015)"/>
<path id="NotoSansCJKsc-Regular-3d" d="M 243 2912 
L 3315 2912 
L 3315 3347 
L 243 3347 
L 243 2912 
z
M 243 1376 
L 3315 1376 
L 3315 1811 
L 243 1811 
L 243 1376 
z
" transform="scale(0.015)"/>
</defs>
<use href="#NotoSansCJKsc-Regular-76f8"/>
<use href="#NotoSansCJKsc-Regular-5bf9" transform="translate(99.999 0)"/>
<use href="#NotoSansCJKsc-Regular-4ef7" transform="translate(199.999 0)"/>
<use href="#NotoSansCJKsc-Regular-683c" transform="translate(299.999 0)"/>
<use href="#NotoSansCJKsc-Regular-20" transform="translate(399.999 0)"/>
<use href="#NotoSansCJKsc-Regular-28" transform="translate(422.399 0)"/>
<use href="#NotoSansCJKsc-Regular-57fa" transform="translate(456.199 0)"/>
<use href="#NotoSansCJKsc-Regular-51c6" transform="translate(556.199 0)"/>
<use href="#NotoSansCJKsc-Regular-3d" transform="translate(656.199 0)"/>
<use href="#NotoSansCJKsc-Regular-31" transform="translate(711.699 0)"/>
<use href="#NotoSansCJKsc-Regular-30" transform="translate(767.199 0)"/>
<use href="#NotoSansCJKsc-Regular-30" transform="translate(822.699 0)"/>
<use href="#NotoSansCJKsc-Regular-29" transform="translate(878.199 0)"/>
</g>
</g>
</g>
<g id="line2d_70">
<path d="M 637.445 354.600 
L 645.484 361.941 
L 653.524 354.252 
L 661.564 354.513 
L 669.603 353.123 
L 685.683 343.826 
L 693.722 334.052 
L 701.762 330.447 
L 709.802 305.903 
L 717.841 308.770 
L 725.881 330.925 
L 741.960 331.489 
L 750.000 330.707 
L 758.040 332.532 
L 766.079 329.187 
L 774.119 334.834 
L 782.159 337.962 
L 798.238 341.307 
L 806.278 334.313 
L 814.317 328.405 
L 822.357 304.556 
L 830.397 272.280 
L 838.436 279.187 
L 854.516 265.590 
L 862.555 254.600 
L 870.595 258.553 
L 878.635 259.335 
L 886.674 269.717 
L 894.714 255.382 
L 910.793 261.550 
L 918.833 261.550 
L 926.873 239.439 
L 934.912 238.049 
L 942.952 205.686 
L 950.992 228.883 
L 967.071 221.151 
L 975.111 214.418 
L 983.150 217.502 
L 991.190 184.748 
L 999.230 200.039 
L 1007.269 179.491 
L 1023.349 161.507 
L 1031.388 169.848 
L 1039.428 146.607 
L 1047.468 141.525 
L 1055.507 113.071 
L 1063.547 91.785 
L 1079.626 72.063 
L 1087.666 152.602 
L 1095.706 85.400 
L 1103.745 151.820 
" clip-path="url(#pf0afd58b29)" style="fill: none; stroke: #808080; stroke-width: 2.5; stroke-linecap: square"/>
<defs>
<path id="m42ee3fbee6" d="M 0 1.5 
C 0.397 1.5 0.779 1.341 1.060 1.060 
C 1.341 0.779 1.5 0.397 1.5 0 
C 1.5 -0.397 1.341 -0.779 1.060 -1.060 
C 0.779 -1.341 0.397 -1.5 0 -1.5 
C -0.397 -1.5 -0.779 -1.341 -1.060 -1.060 
C -1.341 -0.779 -1.5 -0.397 -1.5 0 
C -1.5 0.397 -1.341 0.779 -1.060 1.060 
C -0.779 1.341 -0.397 1.5 0 1.5 
z
" style="stroke: #808080"/>
</defs>
<g clip-path="url(#pf0afd58b29)">
<use href="#m42ee3fbee6" x="637.445" y="354.600" style="fill: #808080; stroke: #808080"/>
<use href="#m42ee3fbee6" x="645.484" y="361.941" style="fill: #808080; stroke: #808080"/>
<use href="#m42ee3fbee6" x="653.524" y="354.252" style="fill: #808080; stroke: #808080"/>
<use href="#m42ee3fbee6" x="661.564" y="354.513" style="fill: #808080; stroke: #808080"/>
<use href="#m42ee3fbee6" x="669.603" y="353.123" style="fill: #808080; stroke: #808080"/>
<use href="#m42ee3fbee6" x="685.683" y="343.826" style="fill: #808080; stroke: #808080"/>
<use href="#m42ee3fbee6" x="693.722" y="334.052" style="fill: #808080; stroke: #808080"/>
<use href="#m42ee3fbee6" x="701.762" y="330.447" style="fill: #808080; stroke: #808080"/>
<use href="#m42ee3fbee6" x="709.802" y="305.903" style="fill: #808080; stroke: #808080"/>
<use href="#m42ee3fbee6" x="717.841" y="308.770" style="fill: #808080; stroke: #808080"/>
<use href="#m42ee3fbee6" x="725.881" y="330.925" style="fill: #808080; stroke: #808080"/>
<use href="#m42ee3fbee6" x="741.960" y="331.489" style="fill: #808080; stroke: #808080"/>
<use href="#m42ee3fbee6" x="750.000" y="330.707" style="fill: #808080; stroke: #808080"/>
<use href="#m42ee3fbee6" x="758.040" y="332.532" style="fill: #808080; stroke: #808080"/>
<use href="#m42ee3fbee6" x="766.079" y="329.187" style="fill: #808080; stroke: #808080"/>
<use href="#m42ee3fbee6" x="774.119" y="334.834" style="fill: #808080; stroke: #808080"/>
<use href="#m42ee3fbee6" x="782.159" y="337.962" style="fill: #808080; stroke: #808080"/>
<use href="#m42ee3fbee6" x="798.238" y="341.307" style="fill: #808080; stroke: #808080"/>
<use href="#m42ee3fbee6" x="806.278" y="334.313" style="fill: #808080; stroke: #808080"/>
<use href="#m42ee3fbee6" x="814.317" y="328.405" style="fill: #808080; stroke: #808080"/>
<use href="#m42ee3fbee6" x="822.357" y="304.556" style="fill: #808080; stroke: #808080"/>
<use href="#m42ee3fbee6" x="830.397" y="272.280" style="fill: #808080; stroke: #808080"/>
<use href="#m42ee3fbee6" x="838.436" y="279.187" style="fill: #808080; stroke: #808080"/>
<use href="#m42ee3fbee6" x="854.516" y="265.590" style="fill: #808080; stroke: #808080"/>
<use href="#m42ee3fbee6" x="862.555" y="254.600" style="fill: #808080; stroke: #808080"/>
<use href="#m42ee3fbee6" x="870.595" y="258.553" style="fill: #808080; stroke: #808080"/>
<use href="#m42ee3fbee6" x="878.635" y="259.335" style="fill: #808080; stroke: #808080"/>
<use href="#m42ee3fbee6" x="886.674" y="269.717" style="fill: #808080; stroke: #808080"/>
<use href="#m42ee3fbee6" x="894.714" y="255.382" style="fill: #808080; stroke: #808080"/>
<use href="#m42ee3fbee6" x="910.793" y="261.550" style="fill: #808080; stroke: #808080"/>
<use href="#m42ee3fbee6" x="918.833" y="261.550" style="fill: #808080; stroke: #808080"/>
<use href="#m42ee3fbee6" x="926.873" y="239.439" style="fill: #808080; stroke: #808080"/>
<use href="#m42ee3fbee6" x="934.912" y="238.049" style="fill: #808080; stroke: #808080"/>
<use href="#m42ee3fbee6" x="942.952" y="205.686" style="fill: #808080; stroke: #808080"/>
<use href="#m42ee3fbee6" x="950.992" y="228.883" style="fill: #808080; stroke: #808080"/>
<use href="#m42ee3fbee6" x="967.071" y="221.151" style="fill: #808080; stroke: #808080"/>
<use href="#m42ee3fbee6" x="975.111" y="214.418" style="fill: #808080; stroke: #808080"/>
<use href="#m42ee3fbee6" x="983.150" y="217.502" style="fill: #808080; stroke: #808080"/>
<use href="#m42ee3fbee6" x="991.190" y="184.748" style="fill: #808080; stroke: #808080"/>
<use href="#m42ee3fbee6" x="999.230" y="200.039" style="fill: #808080; stroke: #808080"/>
<use href="#m42ee3fbee6" x="1007.269" y="179.491" style="fill: #808080; stroke: #808080"/>
<use href="#m42ee3fbee6" x="1023.349" y="161.507" style="fill: #808080; stroke: #808080"/>
<use href="#m42ee3fbee6" x="1031.388" y="169.848" style="fill: #808080; stroke: #808080"/>
<use href="#m42ee3fbee6" x="1039.428" y="146.607" style="fill: #808080; stroke: #808080"/>
<use href="#m42ee3fbee6" x="1047.468" y="141.525" style="fill: #808080; stroke: #808080"/>
<use href="#m42ee3fbee6" x="1055.507" y="113.071" style="fill: #808080; stroke: #808080"/>
<use href="#m42ee3fbee6" x="1063.547" y="91.785" style="fill: #808080; stroke: #808080"/>
<use href="#m42ee3fbee6" x="1079.626" y="72.063" style="fill: #808080; stroke: #808080"/>
<use href="#m42ee3fbee6" x="1087.666" y="152.602" style="fill: #808080; stroke: #808080"/>
<use href="#m42ee3fbee6" x="1095.706" y="85.400" style="fill: #808080; stroke: #808080"/>
<use href="#m42ee3fbee6" x="1103.745" y="151.820" style="fill: #808080; stroke: #808080"/>
</g>
</g>
<g id="line2d_71">
<path d="M 637.445 354.600 
L 645.484 360.508 
L 653.524 357.119 
L 661.564 357.119 
L 669.603 355.208 
L 685.683 349.517 
L 693.722 343.349 
L 701.762 343.826 
L 709.802 333.053 
L 717.841 334.965 
L 725.881 346.172 
L 741.960 347.519 
L 750.000 347.997 
L 758.040 349.039 
L 766.079 346.998 
L 774.119 349.561 
L 782.159 347.215 
L 798.238 351.863 
L 806.278 346.216 
L 814.317 341.307 
L 822.357 333.966 
L 830.397 328.709 
L 838.436 332.489 
L 854.516 325.668 
L 862.555 326.320 
L 870.595 332.184 
L 878.635 331.098 
L 886.674 329.665 
L 894.714 329.665 
L 910.793 330.664 
L 918.833 332.662 
L 926.873 330.707 
L 934.912 331.837 
L 942.952 322.758 
L 950.992 320.847 
L 967.071 317.371 
L 975.111 320.369 
L 983.150 320.369 
L 991.190 315.938 
L 999.230 317.067 
L 1007.269 314.548 
L 1023.349 309.769 
L 1031.388 305.469 
L 1039.428 301.559 
L 1047.468 302.037 
L 1055.507 298.171 
L 1063.547 296.824 
L 1079.626 298.171 
L 1087.666 319.413 
L 1095.706 314.504 
L 1103.745 319.413 
" clip-path="url(#pf0afd58b29)" style="fill: none; stroke: #ffd700; stroke-width: 2.5; stroke-linecap: square"/>
<defs>
<path id="m5ca1c7e0f8" d="M -1.5 1.5 
L 1.5 1.5 
L 1.5 -1.5 
L -1.5 -1.5 
z
" style="stroke: #ffd700; stroke-linejoin: miter"/>
</defs>
<g clip-path="url(#pf0afd58b29)">
<use href="#m5ca1c7e0f8" x="637.445" y="354.600" style="fill: #ffd700; stroke: #ffd700; stroke-linejoin: miter"/>
<use href="#m5ca1c7e0f8" x="645.484" y="360.508" style="fill: #ffd700; stroke: #ffd700; stroke-linejoin: miter"/>
<use href="#m5ca1c7e0f8" x="653.524" y="357.119" style="fill: #ffd700; stroke: #ffd700; stroke-linejoin: miter"/>
<use href="#m5ca1c7e0f8" x="661.564" y="357.119" style="fill: #ffd700; stroke: #ffd700; stroke-linejoin: miter"/>
<use href="#m5ca1c7e0f8" x="669.603" y="355.208" style="fill: #ffd700; stroke: #ffd700; stroke-linejoin: miter"/>
<use href="#m5ca1c7e0f8" x="685.683" y="349.517" style="fill: #ffd700; stroke: #ffd700; stroke-linejoin: miter"/>
<use href="#m5ca1c7e0f8" x="693.722" y="343.349" style="fill: #ffd700; stroke: #ffd700; stroke-linejoin: miter"/>
<use href="#m5ca1c7e0f8" x="701.762" y="343.826" style="fill: #ffd700; stroke: #ffd700; stroke-linejoin: miter"/>
<use href="#m5ca1c7e0f8" x="709.802" y="333.053" style="fill: #ffd700; stroke: #ffd700; stroke-linejoin: miter"/>
<use href="#m5ca1c7e0f8" x="717.841" y="334.965" style="fill: #ffd700; stroke: #ffd700; stroke-linejoin: miter"/>
<use href="#m5ca1c7e0f8" x="725.881" y="346.172" style="fill: #ffd700; stroke: #ffd700; stroke-linejoin: miter"/>
<use href="#m5ca1c7e0f8" x="741.960" y="347.519" style="fill: #ffd700; stroke: #ffd700; stroke-linejoin: miter"/>
<use href="#m5ca1c7e0f8" x="750.000" y="347.997" style="fill: #ffd700; stroke: #ffd700; stroke-linejoin: miter"/>
<use href="#m5ca1c7e0f8" x="758.040" y="349.039" style="fill: #ffd700; stroke: #ffd700; stroke-linejoin: miter"/>
<use href="#m5ca1c7e0f8" x="766.079" y="346.998" style="fill: #ffd700; stroke: #ffd700; stroke-linejoin: miter"/>
<use href="#m5ca1c7e0f8" x="774.119" y="349.561" style="fill: #ffd700; stroke: #ffd700; stroke-linejoin: miter"/>
<use href="#m5ca1c7e0f8" x="782.159" y="347.215" style="fill: #ffd700; stroke: #ffd700; stroke-linejoin: miter"/>
<use href="#m5ca1c7e0f8" x="798.238" y="351.863" style="fill: #ffd700; stroke: #ffd700; stroke-linejoin: miter"/>
<use href="#m5ca1c7e0f8" x="806.278" y="346.216" style="fill: #ffd700; stroke: #ffd700; stroke-linejoin: miter"/>
<use href="#m5ca1c7e0f8" x="814.317" y="341.307" style="fill: #ffd700; stroke: #ffd700; stroke-linejoin: miter"/>
<use href="#m5ca1c7e0f8" x="822.357" y="333.966" style="fill: #ffd700; stroke: #ffd700; stroke-linejoin: miter"/>
<use href="#m5ca1c7e0f8" x="830.397" y="328.709" style="fill: #ffd700; stroke: #ffd700; stroke-linejoin: miter"/>
<use href="#m5ca1c7e0f8" x="838.436" y="332.489" style="fill: #ffd700; stroke: #ffd700; stroke-linejoin: miter"/>
<use href="#m5ca1c7e0f8" x="854.516" y="325.668" style="fill: #ffd700; stroke: #ffd700; stroke-linejoin: miter"/>
<use href="#m5ca1c7e0f8" x="862.555" y="326.320" style="fill: #ffd700; stroke: #ffd700; stroke-linejoin: miter"/>
<use href="#m5ca1c7e0f8" x="870.595" y="332.184" style="fill: #ffd700; stroke: #ffd700; stroke-linejoin: miter"/>
<use href="#m5ca1c7e0f8" x="878.635" y="331.098" style="fill: #ffd700; stroke: #ffd700; stroke-linejoin: miter"/>
<use href="#m5ca1c7e0f8" x="886.674" y="329.665" style="fill: #ffd700; stroke: #ffd700; stroke-linejoin: miter"/>
<use href="#m5ca1c7e0f8" x="894.714" y="329.665" style="fill: #ffd700; stroke: #ffd700; stroke-linejoin: miter"/>
<use href="#m5ca1c7e0f8" x="910.793" y="330.664" style="fill: #ffd700; stroke: #ffd700; stroke-linejoin: miter"/>
<use href="#m5ca1c7e0f8" x="918.833" y="332.662" style="fill: #ffd700; stroke: #ffd700; stroke-linejoin: miter"/>
<use href="#m5ca1c7e0f8" x="926.873" y="330.707" style="fill: #ffd700; stroke: #ffd700; stroke-linejoin: miter"/>
<use href="#m5ca1c7e0f8" x="934.912" y="331.837" style="fill: #ffd700; stroke: #ffd700; stroke-linejoin: miter"/>
<use href="#m5ca1c7e0f8" x="942.952" y="322.758" style="fill: #ffd700; stroke: #ffd700; stroke-linejoin: miter"/>
<use href="#m5ca1c7e0f8" x="950.992" y="320.847" style="fill: #ffd700; stroke: #ffd700; stroke-linejoin: miter"/>
<use href="#m5ca1c7e0f8" x="967.071" y="317.371" style="fill: #ffd700; stroke: #ffd700; stroke-linejoin: miter"/>
<use href="#m5ca1c7e0f8" x="975.111" y="320.369" style="fill: #ffd700; stroke: #ffd700; stroke-linejoin: miter"/>
<use href="#m5ca1c7e0f8" x="983.150" y="320.369" style="fill: #ffd700; stroke: #ffd700; stroke-linejoin: miter"/>
<use href="#m5ca1c7e0f8" x="991.190" y="315.938" style="fill: #ffd700; stroke: #ffd700; stroke-linejoin: miter"/>
<use href="#m5ca1c7e0f8" x="999.230" y="317.067" style="fill: #ffd700; stroke: #ffd700; stroke-linejoin: miter"/>
<use href="#m5ca1c7e0f8" x="1007.269" y="314.548" style="fill: #ffd700; stroke: #ffd700; stroke-linejoin: miter"/>
<use href="#m5ca1c7e0f8" x="1023.349" y="309.769" style="fill: #ffd700; stroke: #ffd700; stroke-linejoin: miter"/>
<use href="#m5ca1c7e0f8" x="1031.388" y="305.469" style="fill: #ffd700; stroke: #ffd700; stroke-linejoin: miter"/>
<use href="#m5ca1c7e0f8" x="1039.428" y="301.559" style="fill: #ffd700; stroke: #ffd700; stroke-linejoin: miter"/>
<use href="#m5ca1c7e0f8" x="1047.468" y="302.037" style="fill: #ffd700; stroke: #ffd700; stroke-linejoin: miter"/>
<use href="#m5ca1c7e0f8" x="1055.507" y="298.171" style="fill: #ffd700; stroke: #ffd700; stroke-linejoin: miter"/>
<use href="#m5ca1c7e0f8" x="1063.547" y="296.824" style="fill: #ffd700; stroke: #ffd700; stroke-linejoin: miter"/>
<use href="#m5ca1c7e0f8" x="1079.626" y="298.171" style="fill: #ffd700; stroke: #ffd700; stroke-linejoin: miter"/>
<use href="#m5ca1c7e0f8" x="1087.666" y="319.413" style="fill: #ffd700; stroke: #ffd700; stroke-linejoin: miter"/>
<use href="#m5ca1c7e0f8" x="1095.706" y="314.504" style="fill: #ffd700; stroke: #ffd700; stroke-linejoin: miter"/>
<use href="#m5ca1c7e0f8" x="1103.745" y="319.413" style="fill: #ffd700; stroke: #ffd700; stroke-linejoin: miter"/>
</g>
</g>
<g id="patch_8">
<path d="M 614.13 376.435 
L 614.13 57.57 
" style="fill: none; opacity: 0.3; stroke: #cccccc; stroke-width: 0.8; stroke-linejoin: miter; stroke-linecap: square"/>
</g>
<g id="patch_9">
<path d="M 1127.060 376.435 
L 1127.060 57.57 
" style="fill: none; opacity: 0.3; stroke: #cccccc; stroke-width: 0.8; stroke-linejoin: miter; stroke-linecap: square"/>
</g>
<g id="patch_10">
<path d="M 614.13 376.435 
L 1127.060 376.435 
" style="fill: none; opacity: 0.3; stroke: #cccccc; stroke-width: 0.8; stroke-linejoin: miter; stroke-linecap: square"/>
</g>
<g id="patch_11">
<path d="M 614.13 57.57 
L 1127.060 57.57 
" style="fill: none; opacity: 0.3; stroke: #cccccc; stroke-width: 0.8; stroke-linejoin: miter; stroke-linecap: square"/>
</g>
<g id="text_40">
<!-- 白银与黄金相对走势对比（归一化） -->
<g transform="translate(766.595 51.57) scale(0.13 -0.13)">
<defs>
<path id="NotoSansCJKsc-Regular-4e0e" d="M 365 1523 
L 365 1062 
L 4358 1062 
L 4358 1523 
L 365 1523 
z
M 1670 5235 
C 1510 4352 1248 3142 1050 2432 
L 1453 2426 
L 1555 2426 
L 5165 2426 
C 5018 960 4851 288 4614 96 
C 4531 26 4442 19 4282 19 
C 4096 19 3597 26 3098 70 
C 3194 -64 3264 -262 3277 -410 
C 3731 -435 4192 -448 4422 -435 
C 4698 -416 4864 -378 5030 -211 
C 5325 70 5498 813 5683 2643 
C 5696 2714 5702 2880 5702 2880 
L 1670 2880 
C 1747 3226 1837 3629 1920 4032 
L 5606 4032 
L 5606 4493 
L 2016 4493 
L 2150 5184 
L 1670 5235 
z
" transform="scale(0.015)"/>
<path id="NotoSansCJKsc-Regular-9ec4" d="M 3789 256 
C 4506 0 5235 -294 5677 -512 
L 6029 -192 
C 5555 26 4781 326 4070 557 
L 3789 256 
z
M 2253 557 
C 1843 294 1030 -19 378 -186 
C 480 -275 627 -429 704 -531 
C 1357 -352 2170 -38 2688 275 
L 2253 557 
z
M 1043 2854 
L 1043 666 
L 5402 666 
L 5402 2854 
L 3443 2854 
L 3443 3322 
L 6067 3322 
L 6067 3763 
L 4480 3763 
L 4480 4378 
L 5645 4378 
L 5645 4813 
L 4480 4813 
L 4480 5376 
L 3994 5376 
L 3994 4813 
L 2426 4813 
L 2426 5376 
L 1946 5376 
L 1946 4813 
L 813 4813 
L 813 4378 
L 1946 4378 
L 1946 3763 
L 352 3763 
L 352 3322 
L 2950 3322 
L 2950 2854 
L 1043 2854 
z
M 2426 3763 
L 2426 4378 
L 3994 4378 
L 3994 3763 
L 2426 3763 
z
M 1510 1594 
L 2950 1594 
L 2950 1024 
L 1510 1024 
L 1510 1594 
z
M 3443 1594 
L 4922 1594 
L 4922 1024 
L 3443 1024 
L 3443 1594 
z
M 1510 2502 
L 2950 2502 
L 2950 1939 
L 1510 1939 
L 1510 2502 
z
M 3443 2502 
L 4922 2502 
L 4922 1939 
L 3443 1939 
L 3443 2502 
z
" transform="scale(0.015)"/>
<path id="NotoSansCJKsc-Regular-91d1" d="M 1267 1395 
C 1510 1030 1760 525 1862 218 
L 2278 397 
C 2176 710 1914 1197 1664 1549 
L 1267 1395 
z
M 4691 1555 
C 4531 1197 4243 685 4019 365 
L 4384 211 
C 4614 506 4909 973 5146 1376 
L 4691 1555 
z
M 3194 5434 
C 2586 4480 1402 3731 192 3341 
C 320 3226 448 3040 525 2899 
C 870 3027 1216 3181 1542 3366 
L 1542 3008 
L 2931 3008 
L 2931 2138 
L 723 2138 
L 723 1696 
L 2931 1696 
L 2931 115 
L 435 115 
L 435 -326 
L 5978 -326 
L 5978 115 
L 3437 115 
L 3437 1696 
L 5683 1696 
L 5683 2138 
L 3437 2138 
L 3437 3008 
L 4851 3008 
L 4851 3411 
C 5197 3213 5549 3046 5882 2925 
C 5958 3053 6106 3238 6221 3341 
C 5248 3648 4109 4314 3482 5005 
L 3642 5235 
L 3194 5434 
z
M 4774 3456 
L 1702 3456 
C 2266 3789 2784 4198 3206 4666 
C 3635 4224 4192 3795 4774 3456 
z
" transform="scale(0.015)"/>
<path id="NotoSansCJKsc-Regular-6bd4" d="M 800 -461 
C 947 -352 1184 -250 2938 320 
C 2912 435 2899 653 2906 806 
L 1331 320 
L 1331 2918 
L 2918 2918 
L 2918 3398 
L 1331 3398 
L 1331 5306 
L 826 5306 
L 826 442 
C 826 166 672 19 563 -45 
C 646 -141 762 -346 800 -461 
z
M 3418 5344 
L 3418 557 
C 3418 -154 3590 -346 4205 -346 
C 4326 -346 5062 -346 5190 -346 
C 5843 -346 5971 96 6029 1376 
C 5894 1408 5690 1504 5568 1600 
C 5523 416 5478 115 5158 115 
C 4992 115 4384 115 4256 115 
C 3968 115 3910 179 3910 544 
L 3910 2413 
C 4621 2816 5382 3302 5939 3776 
L 5536 4198 
C 5146 3795 4525 3302 3910 2925 
L 3910 5344 
L 3418 5344 
z
" transform="scale(0.015)"/>
<path id="NotoSansCJKsc-Regular-ff08" d="M 4448 2432 
C 4448 1184 4954 166 5722 -614 
L 6106 -416 
C 5370 346 4915 1293 4915 2432 
C 4915 3571 5370 4518 6106 5280 
L 5722 5478 
C 4954 4698 4448 3680 4448 2432 
z
" transform="scale(0.015)"/>
<path id="NotoSansCJKsc-Regular-5f52" d="M 582 4595 
L 582 1472 
L 1056 1472 
L 1056 4595 
L 582 4595 
z
M 1882 5370 
L 1882 2829 
C 1882 1664 1754 595 710 -192 
C 826 -262 1005 -435 1088 -538 
C 2214 326 2355 1530 2355 2829 
L 2355 5370 
L 1882 5370 
z
M 2886 4800 
L 2886 4339 
L 5344 4339 
L 5344 2739 
L 3078 2739 
L 3078 2266 
L 5344 2266 
L 5344 512 
L 2758 512 
L 2758 38 
L 5344 38 
L 5344 -410 
L 5830 -410 
L 5830 4800 
L 2886 4800 
z
" transform="scale(0.015)"/>
<path id="NotoSansCJKsc-Regular-4e00" d="M 282 2758 
L 282 2234 
L 6144 2234 
L 6144 2758 
L 282 2758 
z
" transform="scale(0.015)"/>
<path id="NotoSansCJKsc-Regular-5316" d="M 5549 4448 
C 5101 3763 4486 3130 3814 2598 
L 3814 5261 
L 3302 5261 
L 3302 2214 
C 2893 1926 2470 1677 2061 1472 
C 2182 1382 2336 1216 2413 1107 
C 2707 1261 3008 1434 3302 1626 
L 3302 518 
C 3302 -198 3494 -397 4134 -397 
C 4275 -397 5126 -397 5274 -397 
C 5952 -397 6086 26 6157 1222 
C 6010 1261 5805 1363 5677 1459 
C 5632 365 5587 83 5248 83 
C 5062 83 4339 83 4186 83 
C 3878 83 3814 154 3814 506 
L 3814 1978 
C 4640 2579 5421 3315 6010 4141 
L 5549 4448 
z
M 2003 5376 
C 1613 4397 960 3443 269 2829 
C 371 2720 531 2470 589 2362 
C 838 2605 1088 2893 1325 3213 
L 1325 -512 
L 1830 -512 
L 1830 3962 
C 2074 4365 2298 4800 2477 5229 
L 2003 5376 
z
" transform="scale(0.015)"/>
<path id="NotoSansCJKsc-Regular-ff09" d="M 1952 2432 
C 1952 3680 1446 4698 678 5478 
L 294 5280 
C 1030 4518 1485 3571 1485 2432 
C 1485 1293 1030 346 294 -416 
L 678 -614 
C 1446 166 1952 1184 1952 2432 
z
" transform="scale(0.015)"/>
</defs>
<use href="#NotoSansCJKsc-Regular-767d"/>
<use href="#NotoSansCJKsc-Regular-94f6" transform="translate(99.999 0)"/>
<use href="#NotoSansCJKsc-Regular-4e0e" transform="translate(199.999 0)"/>
<use href="#NotoSansCJKsc-Regular-9ec4" transform="translate(299.999 0)"/>
<use href="#NotoSansCJKsc-Regular-91d1" transform="translate(399.999 0)"/>
<use href="#NotoSansCJKsc-Regular-76f8" transform="translate(499.999 0)"/>
<use href="#NotoSansCJKsc-Regular-5bf9" transform="translate(599.999 0)"/>
<use href="#NotoSansCJKsc-Regular-8d70" transform="translate(699.999 0)"/>
<use href="#NotoSansCJKsc-Regular-52bf" transform="translate(799.999 0)"/>
<use href="#NotoSansCJKsc-Regular-5bf9" transform="translate(899.999 0)"/>
<use href="#NotoSansCJKsc-Regular-6bd4" transform="translate(999.999 0)"/>
<use href="#NotoSansCJKsc-Regular-ff08" transform="translate(1099.999 0)"/>
<use href="#NotoSansCJKsc-Regular-5f52" transform="translate(1199.999 0)"/>
<use href="#NotoSansCJKsc-Regular-4e00" transform="translate(1299.999 0)"/>
<use href="#NotoSansCJKsc-Regular-5316" transform="translate(1399.999 0)"/>
<use href="#NotoSansCJKsc-Regular-ff09" transform="translate(1499.999 0)"/>
</g>
</g>
<g id="legend_1">
<g id="patch_12">
<path d="M 621.13 96.07 
L 673.13 96.07 
Q 675.13 96.07 675.13 94.07 
L 675.13 64.57 
Q 675.13 62.57 673.13 62.57 
L 621.13 62.57 
Q 619.13 62.57 619.13 64.57 
L 619.13 94.07 
Q 619.13 96.07 621.13 96.07 
z
" style="fill: #fafafa; opacity: 0.8; stroke: #cccccc; stroke-linejoin: miter"/>
</g>
<g id="line2d_72">
<path d="M 623.13 71.029 
L 633.13 71.029 
L 643.13 71.029 
" style="fill: none; stroke: #808080; stroke-width: 2.5; stroke-linecap: square"/>
<g>
<use href="#m42ee3fbee6" x="633.13" y="71.029" style="fill: #808080; stroke: #808080"/>
</g>
</g>
<g id="text_41">
<!-- 白银 -->
<g transform="translate(651.13 74.529) scale(0.1 -0.1)">
<use href="#NotoSansCJKsc-Regular-767d"/>
<use href="#NotoSansCJKsc-Regular-94f6" transform="translate(99.999 0)"/>
</g>
</g>
<g id="line2d_73">
<path d="M 623.13 86.279 
L 633.13 86.279 
L 643.13 86.279 
" style="fill: none; stroke: #ffd700; stroke-width: 2.5; stroke-linecap: square"/>
<g>
<use href="#m5ca1c7e0f8" x="633.13" y="86.279" style="fill: #ffd700; stroke: #ffd700; stroke-linejoin: miter"/>
</g>
</g>
<g id="text_42">
<!-- 黄金 -->
<g transform="translate(651.13 89.779) scale(0.1 -0.1)">
<use href="#NotoSansCJKsc-Regular-9ec4"/>
<use href="#NotoSansCJKsc-Regular-91d1" transform="translate(99.999 0)"/>
</g>
</g>
</g>
</g>
<g id="axes_3">
<g id="patch_13">
<path d="M 40.74 789.310 
L 553.670 789.310 
L 553.670 470.445 
L 40.74 470.445 
z
" style="fill: #fafafa"/>
</g>
<g id="FillBetweenPolyCollection_2">
<defs>
<path id="mb0bc97bd80" d="M 64.055 -87.520 
L 64.055 -214.355 
L 77.377 -232.688 
L 90.700 -235.094 
L 117.346 -236.526 
L 130.669 -237.099 
L 143.992 -237.614 
L 157.315 -237.099 
L 170.638 -241.223 
L 183.960 -230.797 
L 210.606 -231.370 
L 223.929 -214.069 
L 237.252 -220.485 
L 250.575 -220.485 
L 263.898 -233.203 
L 277.221 -247.983 
L 303.866 -245.119 
L 317.189 -243.171 
L 330.512 -242.484 
L 343.835 -252.452 
L 357.158 -260.014 
L 370.481 -254.629 
L 397.126 -239.963 
L 410.449 -240.307 
L 423.772 -242.828 
L 437.095 -242.255 
L 450.418 -246.265 
L 463.741 -247.010 
L 490.387 -241.052 
L 503.709 -311.974 
L 517.032 -341.535 
L 530.355 -377.397 
L 530.355 -87.520 
L 530.355 -87.520 
L 517.032 -87.520 
L 503.709 -87.520 
L 490.387 -87.520 
L 463.741 -87.520 
L 450.418 -87.520 
L 437.095 -87.520 
L 423.772 -87.520 
L 410.449 -87.520 
L 397.126 -87.520 
L 370.481 -87.520 
L 357.158 -87.520 
L 343.835 -87.520 
L 330.512 -87.520 
L 317.189 -87.520 
L 303.866 -87.520 
L 277.221 -87.520 
L 263.898 -87.520 
L 250.575 -87.520 
L 237.252 -87.520 
L 223.929 -87.520 
L 210.606 -87.520 
L 183.960 -87.520 
L 170.638 -87.520 
L 157.315 -87.520 
L 143.992 -87.520 
L 130.669 -87.520 
L 117.346 -87.520 
L 90.700 -87.520 
L 77.377 -87.520 
L 64.055 -87.520 
z
" style="stroke: #ff0000; stroke-opacity: 0.2"/>
</defs>
<g clip-path="url(#p26ebe2afd5)">
<use href="#mb0bc97bd80" x="0" y="862.336" style="fill: #ff0000; fill-opacity: 0.2; stroke: #ff0000; stroke-opacity: 0.2"/>
</g>
</g>
<g id="matplotlib.axis_5">
<g id="xtick_19">
<g id="line2d_74">
<path d="M 50.732 789.310 
L 50.732 470.445 
" clip-path="url(#p26ebe2afd5)" style="fill: none; stroke-dasharray: 2.96,1.28; stroke-dashoffset: 0; stroke: #cccccc; stroke-opacity: 0.3; stroke-width: 0.8"/>
</g>
<g id="line2d_75">
<g>
<use href="#m96d0b143b3" x="50.732" y="789.310" style="stroke: #000000; stroke-width: 0.8"/>
</g>
</g>
<g id="text_43">
<!-- 2025-11-25 -->
<g transform="translate(34.584 838.241) rotate(-45) scale(0.1 -0.1)">
<use href="#NotoSansCJKsc-Regular-32"/>
<use href="#NotoSansCJKsc-Regular-30" transform="translate(55.499 0)"/>
<use href="#NotoSansCJKsc-Regular-32" transform="translate(110.999 0)"/>
<use href="#NotoSansCJKsc-Regular-35" transform="translate(166.499 0)"/>
<use href="#NotoSansCJKsc-Regular-2d" transform="translate(221.999 0)"/>
<use href="#NotoSansCJKsc-Regular-31" transform="translate(256.699 0)"/>
<use href="#NotoSansCJKsc-Regular-31" transform="translate(312.199 0)"/>
<use href="#NotoSansCJKsc-Regular-2d" transform="translate(367.699 0)"/>
<use href="#NotoSansCJKsc-Regular-32" transform="translate(402.399 0)"/>
<use href="#NotoSansCJKsc-Regular-35" transform="translate(457.899 0)"/>
</g>
</g>
</g>
<g id="xtick_20">
<g id="line2d_76">
<path d="M 104.023 789.310 
L 104.023 470.445 
" clip-path="url(#p26ebe2afd5)" style="fill: none; stroke-dasharray: 2.96,1.28; stroke-dashoffset: 0; stroke: #cccccc; stroke-opacity: 0.3; stroke-width: 0.8"/>
</g>
<g id="line2d_77">
<g>
<use href="#m96d0b143b3" x="104.023" y="789.310" style="stroke: #000000; stroke-width: 0.8"/>
</g>
</g>
<g id="text_44">
<!-- 2025-11-29 -->
<g transform="translate(87.876 838.241) rotate(-45) scale(0.1 -0.1)">
<defs>
<path id="NotoSansCJKsc-Regular-39" d="M 1504 -83 
C 2381 -83 3206 646 3206 2547 
C 3206 4038 2528 4774 1626 4774 
C 896 4774 282 4166 282 3251 
C 282 2285 794 1779 1574 1779 
C 1965 1779 2368 2003 2656 2349 
C 2611 896 2086 403 1485 403 
C 1178 403 896 538 691 762 
L 371 397 
C 634 122 992 -83 1504 -83 
z
M 2650 2842 
C 2336 2394 1984 2214 1670 2214 
C 1114 2214 832 2624 832 3251 
C 832 3898 1178 4320 1632 4320 
C 2227 4320 2586 3808 2650 2842 
z
" transform="scale(0.015)"/>
</defs>
<use href="#NotoSansCJKsc-Regular-32"/>
<use href="#NotoSansCJKsc-Regular-30" transform="translate(55.499 0)"/>
<use href="#NotoSansCJKsc-Regular-32" transform="translate(110.999 0)"/>
<use href="#NotoSansCJKsc-Regular-35" transform="translate(166.499 0)"/>
<use href="#NotoSansCJKsc-Regular-2d" transform="translate(221.999 0)"/>
<use href="#NotoSansCJKsc-Regular-31" transform="translate(256.699 0)"/>
<use href="#NotoSansCJKsc-Regular-31" transform="translate(312.199 0)"/>
<use href="#NotoSansCJKsc-Regular-2d" transform="translate(367.699 0)"/>
<use href="#NotoSansCJKsc-Regular-32" transform="translate(402.399 0)"/>
<use href="#NotoSansCJKsc-Regular-39" transform="translate(457.899 0)"/>
</g>
</g>
</g>
<g id="xtick_21">
<g id="line2d_78">
<path d="M 130.669 789.310 
L 130.669 470.445 
" clip-path="url(#p26ebe2afd5)" style="fill: none; stroke-dasharray: 2.96,1.28; stroke-dashoffset: 0; stroke: #cccccc; stroke-opacity: 0.3; stroke-width: 0.8"/>
</g>
<g id="line2d_79">
<g>
<use href="#m96d0b143b3" x="130.669" y="789.310" style="stroke: #000000; stroke-width: 0.8"/>
</g>
</g>
<g id="text_45">
<!-- 2025-12-01 -->
<g transform="translate(114.521 838.241) rotate(-45) scale(0.1 -0.1)">
<use href="#NotoSansCJKsc-Regular-32"/>
<use href="#NotoSansCJKsc-Regular-30" transform="translate(55.499 0)"/>
<use href="#NotoSansCJKsc-Regular-32" transform="translate(110.999 0)"/>
<use href="#NotoSansCJKsc-Regular-35" transform="translate(166.499 0)"/>
<use href="#NotoSansCJKsc-Regular-2d" transform="translate(221.999 0)"/>
<use href="#NotoSansCJKsc-Regular-31" transform="translate(256.699 0)"/>
<use href="#NotoSansCJKsc-Regular-32" transform="translate(312.199 0)"/>
<use href="#NotoSansCJKsc-Regular-2d" transform="translate(367.699 0)"/>
<use href="#NotoSansCJKsc-Regular-30" transform="translate(402.399 0)"/>
<use href="#NotoSansCJKsc-Regular-31" transform="translate(457.899 0)"/>
</g>
</g>
</g>
<g id="xtick_22">
<g id="line2d_80">
<path d="M 183.960 789.310 
L 183.960 470.445 
" clip-path="url(#p26ebe2afd5)" style="fill: none; stroke-dasharray: 2.96,1.28; stroke-dashoffset: 0; stroke: #cccccc; stroke-opacity: 0.3; stroke-width: 0.8"/>
</g>
<g id="line2d_81">
<g>
<use href="#m96d0b143b3" x="183.960" y="789.310" style="stroke: #000000; stroke-width: 0.8"/>
</g>
</g>
<g id="text_46">
<!-- 2025-12-05 -->
<g transform="translate(167.813 838.241) rotate(-45) scale(0.1 -0.1)">
<use href="#NotoSansCJKsc-Regular-32"/>
<use href="#NotoSansCJKsc-Regular-30" transform="translate(55.499 0)"/>
<use href="#NotoSansCJKsc-Regular-32" transform="translate(110.999 0)"/>
<use href="#NotoSansCJKsc-Regular-35" transform="translate(166.499 0)"/>
<use href="#NotoSansCJKsc-Regular-2d" transform="translate(221.999 0)"/>
<use href="#NotoSansCJKsc-Regular-31" transform="translate(256.699 0)"/>
<use href="#NotoSansCJKsc-Regular-32" transform="translate(312.199 0)"/>
<use href="#NotoSansCJKsc-Regular-2d" transform="translate(367.699 0)"/>
<use href="#NotoSansCJKsc-Regular-30" transform="translate(402.399 0)"/>
<use href="#NotoSansCJKsc-Regular-35" transform="translate(457.899 0)"/>
</g>
</g>
</g>
<g id="xtick_23">
<g id="line2d_82">
<path d="M 237.252 789.310 
L 237.252 470.445 
" clip-path="url(#p26ebe2afd5)" style="fill: none; stroke-dasharray: 2.96,1.28; stroke-dashoffset: 0; stroke: #cccccc; stroke-opacity: 0.3; stroke-width: 0.8"/>
</g>
<g id="line2d_83">
<g>
<use href="#m96d0b143b3" x="237.252" y="789.310" style="stroke: #000000; stroke-width: 0.8"/>
</g>
</g>
<g id="text_47">
<!-- 2025-12-09 -->
<g transform="translate(221.104 838.241) rotate(-45) scale(0.1 -0.1)">
<use href="#NotoSansCJKsc-Regular-32"/>
<use href="#NotoSansCJKsc-Regular-30" transform="translate(55.499 0)"/>
<use href="#NotoSansCJKsc-Regular-32" transform="translate(110.999 0)"/>
<use href="#NotoSansCJKsc-Regular-35" transform="translate(166.499 0)"/>
<use href="#NotoSansCJKsc-Regular-2d" transform="translate(221.999 0)"/>
<use href="#NotoSansCJKsc-Regular-31" transform="translate(256.699 0)"/>
<use href="#NotoSansCJKsc-Regular-32" transform="translate(312.199 0)"/>
<use href="#NotoSansCJKsc-Regular-2d" transform="translate(367.699 0)"/>
<use href="#NotoSansCJKsc-Regular-30" transform="translate(402.399 0)"/>
<use href="#NotoSansCJKsc-Regular-39" transform="translate(457.899 0)"/>
</g>
</g>
</g>
<g id="xtick_24">
<g id="line2d_84">
<path d="M 290.543 789.310 
L 290.543 470.445 
" clip-path="url(#p26ebe2afd5)" style="fill: none; stroke-dasharray: 2.96,1.28; stroke-dashoffset: 0; stroke: #cccccc; stroke-opacity: 0.3; stroke-width: 0.8"/>
</g>
<g id="line2d_85">
<g>
<use href="#m96d0b143b3" x="290.543" y="789.310" style="stroke: #000000; stroke-width: 0.8"/>
</g>
</g>
<g id="text_48">
<!-- 2025-12-13 -->
<g transform="translate(274.396 838.241) rotate(-45) scale(0.1 -0.1)">
<use href="#NotoSansCJKsc-Regular-32"/>
<use href="#NotoSansCJKsc-Regular-30" transform="translate(55.499 0)"/>
<use href="#NotoSansCJKsc-Regular-32" transform="translate(110.999 0)"/>
<use href="#NotoSansCJKsc-Regular-35" transform="translate(166.499 0)"/>
<use href="#NotoSansCJKsc-Regular-2d" transform="translate(221.999 0)"/>
<use href="#NotoSansCJKsc-Regular-31" transform="translate(256.699 0)"/>
<use href="#NotoSansCJKsc-Regular-32" transform="translate(312.199 0)"/>
<use href="#NotoSansCJKsc-Regular-2d" transform="translate(367.699 0)"/>
<use href="#NotoSansCJKsc-Regular-31" transform="translate(402.399 0)"/>
<use href="#NotoSansCJKsc-Regular-33" transform="translate(457.899 0)"/>
</g>
</g>
</g>
<g id="xtick_25">
<g id="line2d_86">
<path d="M 343.835 789.310 
L 343.835 470.445 
" clip-path="url(#p26ebe2afd5)" style="fill: none; stroke-dasharray: 2.96,1.28; stroke-dashoffset: 0; stroke: #cccccc; stroke-opacity: 0.3; stroke-width: 0.8"/>
</g>
<g id="line2d_87">
<g>
<use href="#m96d0b143b3" x="343.835" y="789.310" style="stroke: #000000; stroke-width: 0.8"/>
</g>
</g>
<g id="text_49">
<!-- 2025-12-17 -->
<g transform="translate(327.687 838.241) rotate(-45) scale(0.1 -0.1)">
<use href="#NotoSansCJKsc-Regular-32"/>
<use href="#NotoSansCJKsc-Regular-30" transform="translate(55.499 0)"/>
<use href="#NotoSansCJKsc-Regular-32" transform="translate(110.999 0)"/>
<use href="#NotoSansCJKsc-Regular-35" transform="translate(166.499 0)"/>
<use href="#NotoSansCJKsc-Regular-2d" transform="translate(221.999 0)"/>
<use href="#NotoSansCJKsc-Regular-31" transform="translate(256.699 0)"/>
<use href="#NotoSansCJKsc-Regular-32" transform="translate(312.199 0)"/>
<use href="#NotoSansCJKsc-Regular-2d" transform="translate(367.699 0)"/>
<use href="#NotoSansCJKsc-Regular-31" transform="translate(402.399 0)"/>
<use href="#NotoSansCJKsc-Regular-37" transform="translate(457.899 0)"/>
</g>
</g>
</g>
<g id="xtick_26">
<g id="line2d_88">
<path d="M 397.126 789.310 
L 397.126 470.445 
" clip-path="url(#p26ebe2afd5)" style="fill: none; stroke-dasharray: 2.96,1.28; stroke-dashoffset: 0; stroke: #cccccc; stroke-opacity: 0.3; stroke-width: 0.8"/>
</g>
<g id="line2d_89">
<g>
<use href="#m96d0b143b3" x="397.126" y="789.310" style="stroke: #000000; stroke-width: 0.8"/>
</g>
</g>
<g id="text_50">
<!-- 2025-12-21 -->
<g transform="translate(380.979 838.241) rotate(-45) scale(0.1 -0.1)">
<use href="#NotoSansCJKsc-Regular-32"/>
<use href="#NotoSansCJKsc-Regular-30" transform="translate(55.499 0)"/>
<use href="#NotoSansCJKsc-Regular-32" transform="translate(110.999 0)"/>
<use href="#NotoSansCJKsc-Regular-35" transform="translate(166.499 0)"/>
<use href="#NotoSansCJKsc-Regular-2d" transform="translate(221.999 0)"/>
<use href="#NotoSansCJKsc-Regular-31" transform="translate(256.699 0)"/>
<use href="#NotoSansCJKsc-Regular-32" transform="translate(312.199 0)"/>
<use href="#NotoSansCJKsc-Regular-2d" transform="translate(367.699 0)"/>
<use href="#NotoSansCJKsc-Regular-32" transform="translate(402.399 0)"/>
<use href="#NotoSansCJKsc-Regular-31" transform="translate(457.899 0)"/>
</g>
</g>
</g>
<g id="xtick_27">
<g id="line2d_90">
<path d="M 450.418 789.310 
L 450.418 470.445 
" clip-path="url(#p26ebe2afd5)" style="fill: none; stroke-dasharray: 2.96,1.28; stroke-dashoffset: 0; stroke: #cccccc; stroke-opacity: 0.3; stroke-width: 0.8"/>
</g>
<g id="line2d_91">
<g>
<use href="#m96d0b143b3" x="450.418" y="789.310" style="stroke: #000000; stroke-width: 0.8"/>
</g>
</g>
<g id="text_51">
<!-- 2025-12-25 -->
<g transform="translate(434.271 838.241) rotate(-45) scale(0.1 -0.1)">
<use href="#NotoSansCJKsc-Regular-32"/>
<use href="#NotoSansCJKsc-Regular-30" transform="translate(55.499 0)"/>
<use href="#NotoSansCJKsc-Regular-32" transform="translate(110.999 0)"/>
<use href="#NotoSansCJKsc-Regular-35" transform="translate(166.499 0)"/>
<use href="#NotoSansCJKsc-Regular-2d" transform="translate(221.999 0)"/>
<use href="#NotoSansCJKsc-Regular-31" transform="translate(256.699 0)"/>
<use href="#NotoSansCJKsc-Regular-32" transform="translate(312.199 0)"/>
<use href="#NotoSansCJKsc-Regular-2d" transform="translate(367.699 0)"/>
<use href="#NotoSansCJKsc-Regular-32" transform="translate(402.399 0)"/>
<use href="#NotoSansCJKsc-Regular-35" transform="translate(457.899 0)"/>
</g>
</g>
</g>
<g id="xtick_28">
<g id="line2d_92">
<path d="M 503.709 789.310 
L 503.709 470.445 
" clip-path="url(#p26ebe2afd5)" style="fill: none; stroke-dasharray: 2.96,1.28; stroke-dashoffset: 0; stroke: #cccccc; stroke-opacity: 0.3; stroke-width: 0.8"/>
</g>
<g id="line2d_93">
<g>
<use href="#m96d0b143b3" x="503.709" y="789.310" style="stroke: #000000; stroke-width: 0.8"/>
</g>
</g>
<g id="text_52">
<!-- 2025-12-29 -->
<g transform="translate(487.562 838.241) rotate(-45) scale(0.1 -0.1)">
<use href="#NotoSansCJKsc-Regular-32"/>
<use href="#NotoSansCJKsc-Regular-30" transform="translate(55.499 0)"/>
<use href="#NotoSansCJKsc-Regular-32" transform="translate(110.999 0)"/>
<use href="#NotoSansCJKsc-Regular-35" transform="translate(166.499 0)"/>
<use href="#NotoSansCJKsc-Regular-2d" transform="translate(221.999 0)"/>
<use href="#NotoSansCJKsc-Regular-31" transform="translate(256.699 0)"/>
<use href="#NotoSansCJKsc-Regular-32" transform="translate(312.199 0)"/>
<use href="#NotoSansCJKsc-Regular-2d" transform="translate(367.699 0)"/>
<use href="#NotoSansCJKsc-Regular-32" transform="translate(402.399 0)"/>
<use href="#NotoSansCJKsc-Regular-39" transform="translate(457.899 0)"/>
</g>
</g>
</g>
<g id="xtick_29">
<g id="line2d_94">
<path d="M 543.678 789.310 
L 543.678 470.445 
" clip-path="url(#p26ebe2afd5)" style="fill: none; stroke-dasharray: 2.96,1.28; stroke-dashoffset: 0; stroke: #cccccc; stroke-opacity: 0.3; stroke-width: 0.8"/>
</g>
<g id="line2d_95">
<g>
<use href="#m96d0b143b3" x="543.678" y="789.310" style="stroke: #000000; stroke-width: 0.8"/>
</g>
</g>
<g id="text_53">
<!-- 2026-01-01 -->
<g transform="translate(527.531 838.241) rotate(-45) scale(0.1 -0.1)">
<use href="#NotoSansCJKsc-Regular-32"/>
<use href="#NotoSansCJKsc-Regular-30" transform="translate(55.499 0)"/>
<use href="#NotoSansCJKsc-Regular-32" transform="translate(110.999 0)"/>
<use href="#NotoSansCJKsc-Regular-36" transform="translate(166.499 0)"/>
<use href="#NotoSansCJKsc-Regular-2d" transform="translate(221.999 0)"/>
<use href="#NotoSansCJKsc-Regular-30" transform="translate(256.699 0)"/>
<use href="#NotoSansCJKsc-Regular-31" transform="translate(312.199 0)"/>
<use href="#NotoSansCJKsc-Regular-2d" transform="translate(367.699 0)"/>
<use href="#NotoSansCJKsc-Regular-30" transform="translate(402.399 0)"/>
<use href="#NotoSansCJKsc-Regular-31" transform="translate(457.899 0)"/>
</g>
</g>
</g>
<g id="text_54">
<!-- 日期 -->
<g transform="translate(286.205 852.616) scale(0.11 -0.11)">
<use href="#NotoSansCJKsc-Regular-65e5"/>
<use href="#NotoSansCJKsc-Regular-671f" transform="translate(99.999 0)"/>
</g>
</g>
</g>
<g id="matplotlib.axis_6">
<g id="ytick_17">
<g id="line2d_96">
<path d="M 40.74 774.816 
L 553.670 774.816 
" clip-path="url(#p26ebe2afd5)" style="fill: none; stroke-dasharray: 2.96,1.28; stroke-dashoffset: 0; stroke: #cccccc; stroke-opacity: 0.3; stroke-width: 0.8"/>
</g>
<g id="line2d_97">
<g>
<use href="#m0469b5f568" x="40.74" y="774.816" style="stroke: #000000; stroke-width: 0.8"/>
</g>
</g>
<g id="text_55">
<!-- 0 -->
<g transform="translate(28.19 778.796) scale(0.1 -0.1)">
<use href="#NotoSansCJKsc-Regular-30"/>
</g>
</g>
</g>
<g id="ytick_18">
<g id="line2d_98">
<path d="M 40.74 717.528 
L 553.670 717.528 
" clip-path="url(#p26ebe2afd5)" style="fill: none; stroke-dasharray: 2.96,1.28; stroke-dashoffset: 0; stroke: #cccccc; stroke-opacity: 0.3; stroke-width: 0.8"/>
</g>
<g id="line2d_99">
<g>
<use href="#m0469b5f568" x="40.74" y="717.528" style="stroke: #000000; stroke-width: 0.8"/>
</g>
</g>
<g id="text_56">
<!-- 1 -->
<g transform="translate(28.19 721.508) scale(0.1 -0.1)">
<use href="#NotoSansCJKsc-Regular-31"/>
</g>
</g>
</g>
<g id="ytick_19">
<g id="line2d_100">
<path d="M 40.74 660.240 
L 553.670 660.240 
" clip-path="url(#p26ebe2afd5)" style="fill: none; stroke-dasharray: 2.96,1.28; stroke-dashoffset: 0; stroke: #cccccc; stroke-opacity: 0.3; stroke-width: 0.8"/>
</g>
<g id="line2d_101">
<g>
<use href="#m0469b5f568" x="40.74" y="660.240" style="stroke: #000000; stroke-width: 0.8"/>
</g>
</g>
<g id="text_57">
<!-- 2 -->
<g transform="translate(28.19 664.220) scale(0.1 -0.1)">
<use href="#NotoSansCJKsc-Regular-32"/>
</g>
</g>
</g>
<g id="ytick_20">
<g id="line2d_102">
<path d="M 40.74 602.952 
L 553.670 602.952 
" clip-path="url(#p26ebe2afd5)" style="fill: none; stroke-dasharray: 2.96,1.28; stroke-dashoffset: 0; stroke: #cccccc; stroke-opacity: 0.3; stroke-width: 0.8"/>
</g>
<g id="line2d_103">
<g>
<use href="#m0469b5f568" x="40.74" y="602.952" style="stroke: #000000; stroke-width: 0.8"/>
</g>
</g>
<g id="text_58">
<!-- 3 -->
<g transform="translate(28.19 606.932) scale(0.1 -0.1)">
<use href="#NotoSansCJKsc-Regular-33"/>
</g>
</g>
</g>
<g id="ytick_21">
<g id="line2d_104">
<path d="M 40.74 545.664 
L 553.670 545.664 
" clip-path="url(#p26ebe2afd5)" style="fill: none; stroke-dasharray: 2.96,1.28; stroke-dashoffset: 0; stroke: #cccccc; stroke-opacity: 0.3; stroke-width: 0.8"/>
</g>
<g id="line2d_105">
<g>
<use href="#m0469b5f568" x="40.74" y="545.664" style="stroke: #000000; stroke-width: 0.8"/>
</g>
</g>
<g id="text_59">
<!-- 4 -->
<g transform="translate(28.19 549.643) scale(0.1 -0.1)">
<use href="#NotoSansCJKsc-Regular-34"/>
</g>
</g>
</g>
<g id="ytick_22">
<g id="line2d_106">
<path d="M 40.74 488.376 
L 553.670 488.376 
" clip-path="url(#p26ebe2afd5)" style="fill: none; stroke-dasharray: 2.96,1.28; stroke-dashoffset: 0; stroke: #cccccc; stroke-opacity: 0.3; stroke-width: 0.8"/>
</g>
<g id="line2d_107">
<g>
<use href="#m0469b5f568" x="40.74" y="488.376" style="stroke: #000000; stroke-width: 0.8"/>
</g>
</g>
<g id="text_60">
<!-- 5 -->
<g transform="translate(28.19 492.355) scale(0.1 -0.1)">
<use href="#NotoSansCJKsc-Regular-35"/>
</g>
</g>
</g>
<g id="text_61">
<!-- 20日波动率 (%) -->
<g transform="translate(21.670 667.997) rotate(-90) scale(0.11 -0.11)">
<defs>
<path id="NotoSansCJKsc-Regular-6ce2" d="M 589 4973 
C 966 4768 1453 4454 1696 4237 
L 1978 4621 
C 1734 4832 1242 5126 864 5312 
L 589 4973 
z
M 243 3238 
C 634 3053 1133 2758 1376 2547 
L 1651 2944 
C 1402 3142 896 3424 512 3597 
L 243 3238 
z
M 397 -134 
L 819 -429 
C 1152 166 1536 966 1824 1638 
L 1446 1926 
C 1133 1203 704 358 397 -134 
z
M 3821 4000 
L 3821 2867 
L 2726 2867 
L 2726 4000 
L 3821 4000 
z
M 2266 4448 
L 2266 2829 
C 2266 1901 2195 627 1498 -269 
C 1613 -314 1811 -429 1894 -506 
C 2528 314 2688 1491 2720 2438 
L 2886 2438 
C 3130 1773 3469 1197 3910 717 
C 3462 339 2931 64 2355 -128 
C 2458 -211 2605 -410 2669 -525 
C 3245 -320 3776 -19 4243 384 
C 4698 -13 5242 -320 5875 -512 
C 5946 -384 6080 -198 6189 -102 
C 5568 64 5030 346 4576 717 
C 5062 1242 5446 1914 5670 2752 
L 5370 2886 
L 5280 2867 
L 4288 2867 
L 4288 4000 
L 5498 4000 
C 5395 3706 5274 3411 5165 3206 
L 5581 3072 
C 5760 3398 5965 3917 6125 4378 
L 5779 4467 
L 5696 4448 
L 4288 4448 
L 4288 5382 
L 3821 5382 
L 3821 4448 
L 2266 4448 
z
M 3341 2438 
L 5075 2438 
C 4883 1882 4595 1414 4237 1030 
C 3853 1427 3552 1907 3341 2438 
z
" transform="scale(0.015)"/>
<path id="NotoSansCJKsc-Regular-52a8" d="M 570 4851 
L 570 4422 
L 3046 4422 
L 3046 4851 
L 570 4851 
z
M 4179 5267 
C 4179 4813 4179 4352 4160 3898 
L 3245 3898 
L 3245 3437 
L 4141 3437 
C 4064 1978 3808 640 2931 -160 
C 3059 -230 3226 -390 3309 -506 
C 4250 390 4525 1850 4614 3437 
L 5568 3437 
C 5498 1165 5414 314 5242 122 
C 5178 45 5107 26 4992 26 
C 4858 26 4518 26 4160 64 
C 4243 -77 4294 -275 4307 -410 
C 4646 -435 4998 -435 5197 -416 
C 5402 -397 5530 -339 5658 -173 
C 5882 109 5958 1018 6048 3654 
C 6048 3725 6048 3898 6048 3898 
L 4634 3898 
C 4646 4352 4653 4813 4653 5267 
L 4179 5267 
z
M 570 282 
L 576 288 
L 576 275 
C 723 365 954 435 2733 838 
L 2854 410 
L 3277 550 
C 3155 998 2867 1760 2624 2336 
L 2227 2227 
C 2355 1926 2483 1574 2598 1242 
L 1075 922 
C 1325 1498 1568 2214 1728 2886 
L 3162 2886 
L 3162 3328 
L 346 3328 
L 346 2886 
L 1235 2886 
C 1069 2138 800 1382 710 1171 
C 602 928 518 755 416 723 
C 474 608 544 378 570 282 
z
" transform="scale(0.015)"/>
<path id="NotoSansCJKsc-Regular-7387" d="M 5306 4115 
C 5082 3859 4685 3507 4397 3296 
L 4749 3059 
C 5043 3264 5414 3571 5709 3872 
L 5306 4115 
z
M 358 2157 
L 602 1773 
C 1024 1978 1549 2259 2042 2522 
L 1946 2886 
C 1363 2605 755 2323 358 2157 
z
M 544 3834 
C 890 3616 1312 3296 1510 3078 
L 1856 3373 
C 1638 3590 1216 3898 870 4096 
L 544 3834 
z
M 4333 2611 
C 4774 2342 5325 1958 5594 1702 
L 5952 1990 
C 5670 2246 5101 2624 4672 2867 
L 4333 2611 
z
M 326 1293 
L 326 845 
L 2944 845 
L 2944 -512 
L 3456 -512 
L 3456 845 
L 6080 845 
L 6080 1293 
L 3456 1293 
L 3456 1818 
L 2944 1818 
L 2944 1293 
L 326 1293 
z
M 2784 5299 
C 2880 5152 2995 4966 3078 4800 
L 454 4800 
L 454 4358 
L 2803 4358 
C 2611 4051 2394 3789 2310 3706 
C 2214 3590 2118 3520 2029 3501 
C 2074 3392 2138 3187 2163 3091 
C 2259 3130 2400 3162 3136 3219 
C 2829 2906 2554 2656 2426 2554 
C 2208 2374 2042 2253 1901 2234 
C 1952 2112 2016 1901 2035 1818 
C 2170 1875 2394 1907 4070 2074 
C 4147 1946 4211 1830 4250 1728 
L 4634 1901 
C 4499 2195 4173 2656 3885 2982 
L 3526 2835 
C 3635 2714 3744 2566 3840 2426 
L 2707 2330 
C 3270 2778 3834 3341 4346 3936 
L 3955 4160 
C 3821 3981 3667 3802 3520 3629 
L 2694 3584 
C 2906 3808 3117 4077 3302 4358 
L 6022 4358 
L 6022 4800 
L 3642 4800 
C 3552 4986 3398 5235 3251 5421 
L 2784 5299 
z
" transform="scale(0.015)"/>
<path id="NotoSansCJKsc-Regular-25" d="M 1312 1818 
C 1958 1818 2381 2362 2381 3309 
C 2381 4243 1958 4774 1312 4774 
C 672 4774 250 4243 250 3309 
C 250 2362 672 1818 1312 1818 
z
M 1312 2176 
C 941 2176 691 2560 691 3309 
C 691 4058 941 4416 1312 4416 
C 1683 4416 1933 4058 1933 3309 
C 1933 2560 1683 2176 1312 2176 
z
M 1446 -83 
L 1843 -83 
L 4435 4774 
L 4038 4774 
L 1446 -83 
z
M 4582 -83 
C 5222 -83 5645 454 5645 1402 
C 5645 2342 5222 2874 4582 2874 
C 3942 2874 3520 2342 3520 1402 
C 3520 454 3942 -83 4582 -83 
z
M 4582 275 
C 4211 275 3955 653 3955 1402 
C 3955 2150 4211 2515 4582 2515 
C 4947 2515 5210 2150 5210 1402 
C 5210 653 4947 275 4582 275 
z
" transform="scale(0.015)"/>
</defs>
<use href="#NotoSansCJKsc-Regular-32"/>
<use href="#NotoSansCJKsc-Regular-30" transform="translate(55.499 0)"/>
<use href="#NotoSansCJKsc-Regular-65e5" transform="translate(110.999 0)"/>
<use href="#NotoSansCJKsc-Regular-6ce2" transform="translate(210.999 0)"/>
<use href="#NotoSansCJKsc-Regular-52a8" transform="translate(310.999 0)"/>
<use href="#NotoSansCJKsc-Regular-7387" transform="translate(410.999 0)"/>
<use href="#NotoSansCJKsc-Regular-20" transform="translate(510.999 0)"/>
<use href="#NotoSansCJKsc-Regular-28" transform="translate(533.399 0)"/>
<use href="#NotoSansCJKsc-Regular-25" transform="translate(567.199 0)"/>
<use href="#NotoSansCJKsc-Regular-29" transform="translate(659.299 0)"/>
</g>
</g>
</g>
<g id="line2d_108">
<path d="M 64.055 647.980 
L 77.377 629.648 
L 90.700 627.242 
L 117.346 625.810 
L 130.669 625.237 
L 143.992 624.721 
L 157.315 625.237 
L 170.638 621.112 
L 183.960 631.539 
L 210.606 630.966 
L 223.929 648.267 
L 237.252 641.850 
L 250.575 641.850 
L 263.898 629.133 
L 277.221 614.352 
L 303.866 617.217 
L 317.189 619.164 
L 330.512 619.852 
L 343.835 609.884 
L 357.158 602.322 
L 370.481 607.707 
L 397.126 622.373 
L 410.449 622.029 
L 423.772 619.508 
L 437.095 620.081 
L 450.418 616.071 
L 463.741 615.326 
L 490.387 621.284 
L 503.709 550.361 
L 517.032 520.801 
L 530.355 484.938 
" clip-path="url(#p26ebe2afd5)" style="fill: none; stroke: #ff0000; stroke-width: 2; stroke-linecap: square"/>
<defs>
<path id="me517fd3a67" d="M 0 -2 
L -2 2 
L 2 2 
z
" style="stroke: #ff0000; stroke-linejoin: miter"/>
</defs>
<g clip-path="url(#p26ebe2afd5)">
<use href="#me517fd3a67" x="64.055" y="647.980" style="fill: #ff0000; stroke: #ff0000; stroke-linejoin: miter"/>
<use href="#me517fd3a67" x="77.377" y="629.648" style="fill: #ff0000; stroke: #ff0000; stroke-linejoin: miter"/>
<use href="#me517fd3a67" x="90.700" y="627.242" style="fill: #ff0000; stroke: #ff0000; stroke-linejoin: miter"/>
<use href="#me517fd3a67" x="117.346" y="625.810" style="fill: #ff0000; stroke: #ff0000; stroke-linejoin: miter"/>
<use href="#me517fd3a67" x="130.669" y="625.237" style="fill: #ff0000; stroke: #ff0000; stroke-linejoin: miter"/>
<use href="#me517fd3a67" x="143.992" y="624.721" style="fill: #ff0000; stroke: #ff0000; stroke-linejoin: miter"/>
<use href="#me517fd3a67" x="157.315" y="625.237" style="fill: #ff0000; stroke: #ff0000; stroke-linejoin: miter"/>
<use href="#me517fd3a67" x="170.638" y="621.112" style="fill: #ff0000; stroke: #ff0000; stroke-linejoin: miter"/>
<use href="#me517fd3a67" x="183.960" y="631.539" style="fill: #ff0000; stroke: #ff0000; stroke-linejoin: miter"/>
<use href="#me517fd3a67" x="210.606" y="630.966" style="fill: #ff0000; stroke: #ff0000; stroke-linejoin: miter"/>
<use href="#me517fd3a67" x="223.929" y="648.267" style="fill: #ff0000; stroke: #ff0000; stroke-linejoin: miter"/>
<use href="#me517fd3a67" x="237.252" y="641.850" style="fill: #ff0000; stroke: #ff0000; stroke-linejoin: miter"/>
<use href="#me517fd3a67" x="250.575" y="641.850" style="fill: #ff0000; stroke: #ff0000; stroke-linejoin: miter"/>
<use href="#me517fd3a67" x="263.898" y="629.133" style="fill: #ff0000; stroke: #ff0000; stroke-linejoin: miter"/>
<use href="#me517fd3a67" x="277.221" y="614.352" style="fill: #ff0000; stroke: #ff0000; stroke-linejoin: miter"/>
<use href="#me517fd3a67" x="303.866" y="617.217" style="fill: #ff0000; stroke: #ff0000; stroke-linejoin: miter"/>
<use href="#me517fd3a67" x="317.189" y="619.164" style="fill: #ff0000; stroke: #ff0000; stroke-linejoin: miter"/>
<use href="#me517fd3a67" x="330.512" y="619.852" style="fill: #ff0000; stroke: #ff0000; stroke-linejoin: miter"/>
<use href="#me517fd3a67" x="343.835" y="609.884" style="fill: #ff0000; stroke: #ff0000; stroke-linejoin: miter"/>
<use href="#me517fd3a67" x="357.158" y="602.322" style="fill: #ff0000; stroke: #ff0000; stroke-linejoin: miter"/>
<use href="#me517fd3a67" x="370.481" y="607.707" style="fill: #ff0000; stroke: #ff0000; stroke-linejoin: miter"/>
<use href="#me517fd3a67" x="397.126" y="622.373" style="fill: #ff0000; stroke: #ff0000; stroke-linejoin: miter"/>
<use href="#me517fd3a67" x="410.449" y="622.029" style="fill: #ff0000; stroke: #ff0000; stroke-linejoin: miter"/>
<use href="#me517fd3a67" x="423.772" y="619.508" style="fill: #ff0000; stroke: #ff0000; stroke-linejoin: miter"/>
<use href="#me517fd3a67" x="437.095" y="620.081" style="fill: #ff0000; stroke: #ff0000; stroke-linejoin: miter"/>
<use href="#me517fd3a67" x="450.418" y="616.071" style="fill: #ff0000; stroke: #ff0000; stroke-linejoin: miter"/>
<use href="#me517fd3a67" x="463.741" y="615.326" style="fill: #ff0000; stroke: #ff0000; stroke-linejoin: miter"/>
<use href="#me517fd3a67" x="490.387" y="621.284" style="fill: #ff0000; stroke: #ff0000; stroke-linejoin: miter"/>
<use href="#me517fd3a67" x="503.709" y="550.361" style="fill: #ff0000; stroke: #ff0000; stroke-linejoin: miter"/>
<use href="#me517fd3a67" x="517.032" y="520.801" style="fill: #ff0000; stroke: #ff0000; stroke-linejoin: miter"/>
<use href="#me517fd3a67" x="530.355" y="484.938" style="fill: #ff0000; stroke: #ff0000; stroke-linejoin: miter"/>
</g>
</g>
<g id="line2d_109">
<path d="M 40.74 613.665 
L 553.670 613.665 
" clip-path="url(#p26ebe2afd5)" style="fill: none; stroke-dasharray: 7.4,3.2; stroke-dashoffset: 0; stroke: #0000ff; stroke-width: 2"/>
</g>
<g id="patch_14">
<path d="M 40.74 789.310 
L 40.74 470.445 
" style="fill: none; opacity: 0.3; stroke: #cccccc; stroke-width: 0.8; stroke-linejoin: miter; stroke-linecap: square"/>
</g>
<g id="patch_15">
<path d="M 553.670 789.310 
L 553.670 470.445 
" style="fill: none; opacity: 0.3; stroke: #cccccc; stroke-width: 0.8; stroke-linejoin: miter; stroke-linecap: square"/>
</g>
<g id="patch_16">
<path d="M 40.74 789.310 
L 553.670 789.310 
" style="fill: none; opacity: 0.3; stroke: #cccccc; stroke-width: 0.8; stroke-linejoin: miter; stroke-linecap: square"/>
</g>
<g id="patch_17">
<path d="M 40.74 470.445 
L 553.670 470.445 
" style="fill: none; opacity: 0.3; stroke: #cccccc; stroke-width: 0.8; stroke-linejoin: miter; stroke-linecap: square"/>
</g>
<g id="text_62">
<!-- 白银历史波动率分析 -->
<g transform="translate(238.705 464.445) scale(0.13 -0.13)">
<defs>
<path id="NotoSansCJKsc-Regular-5386" d="M 736 5062 
L 736 3021 
C 736 2048 698 723 224 -224 
C 339 -275 557 -410 646 -493 
C 1152 512 1222 1990 1222 3021 
L 1222 4608 
L 6061 4608 
L 6061 5062 
L 736 5062 
z
M 3162 4269 
C 3155 3904 3142 3546 3123 3206 
L 1632 3206 
L 1632 2752 
L 3085 2752 
C 2963 1498 2592 474 1357 -128 
C 1466 -211 1613 -371 1677 -480 
C 3014 205 3424 1350 3571 2752 
L 5235 2752 
C 5146 998 5043 301 4858 134 
C 4794 58 4717 45 4589 45 
C 4442 45 4045 51 3642 90 
C 3725 -45 3789 -250 3795 -390 
C 4186 -416 4570 -422 4774 -403 
C 5005 -384 5139 -339 5274 -173 
C 5510 83 5619 864 5722 2982 
C 5728 3046 5734 3206 5734 3206 
L 3610 3206 
C 3635 3546 3642 3904 3654 4269 
L 3162 4269 
z
" transform="scale(0.015)"/>
<path id="NotoSansCJKsc-Regular-53f2" d="M 1254 3904 
L 2963 3904 
L 2963 2707 
L 1254 2707 
L 1254 3904 
z
M 3456 3904 
L 5171 3904 
L 5171 2707 
L 3456 2707 
L 3456 3904 
z
M 1517 2029 
L 1088 1869 
C 1338 1318 1658 902 2048 576 
C 1651 314 1088 90 275 -83 
C 378 -192 506 -403 563 -512 
C 1427 -307 2035 -32 2464 288 
C 3315 -224 4461 -410 5946 -499 
C 5978 -333 6074 -122 6170 -6 
C 4723 51 3642 192 2835 621 
C 3270 1101 3405 1658 3443 2246 
L 5658 2246 
L 5658 4365 
L 3456 4365 
L 3456 5350 
L 2963 5350 
L 2963 4365 
L 787 4365 
L 787 2246 
L 2950 2246 
C 2918 1754 2810 1286 2419 890 
C 2054 1171 1754 1542 1517 2029 
z
" transform="scale(0.015)"/>
<path id="NotoSansCJKsc-Regular-5206" d="M 4307 5261 
L 3866 5082 
C 4320 4134 5088 3091 5760 2515 
C 5856 2643 6029 2822 6150 2918 
C 5485 3418 4704 4397 4307 5261 
z
M 2074 5248 
C 1702 4269 1050 3379 282 2829 
C 397 2739 608 2554 691 2458 
C 864 2598 1030 2752 1197 2925 
L 1197 2483 
L 2432 2483 
C 2285 1395 1933 378 416 -122 
C 525 -224 653 -410 710 -531 
C 2342 58 2765 1216 2938 2483 
L 4678 2483 
C 4608 883 4512 256 4352 90 
C 4288 26 4211 13 4077 13 
C 3930 13 3533 13 3117 51 
C 3206 -83 3264 -288 3277 -429 
C 3680 -454 4070 -461 4288 -442 
C 4506 -422 4653 -378 4787 -218 
C 5011 32 5094 762 5190 2726 
C 5197 2790 5197 2957 5197 2957 
L 1229 2957 
C 1773 3539 2253 4288 2586 5107 
L 2074 5248 
z
" transform="scale(0.015)"/>
<path id="NotoSansCJKsc-Regular-6790" d="M 3085 4672 
L 3085 2701 
C 3085 1805 3027 602 2445 -256 
C 2560 -294 2758 -422 2842 -499 
C 3450 390 3539 1741 3539 2701 
L 3539 2726 
L 4710 2726 
L 4710 -512 
L 5184 -512 
L 5184 2726 
L 6118 2726 
L 6118 3181 
L 3539 3181 
L 3539 4333 
C 4314 4474 5152 4685 5754 4928 
L 5344 5306 
C 4819 5062 3898 4826 3085 4672 
z
M 1338 5376 
L 1338 4006 
L 378 4006 
L 378 3546 
L 1286 3546 
C 1075 2662 640 1658 205 1120 
C 288 1005 403 813 454 685 
C 781 1114 1094 1805 1338 2522 
L 1338 -506 
L 1805 -506 
L 1805 2611 
C 2022 2278 2278 1862 2387 1645 
L 2694 2029 
C 2566 2214 2029 2938 1805 3213 
L 1805 3546 
L 2752 3546 
L 2752 4006 
L 1805 4006 
L 1805 5376 
L 1338 5376 
z
" transform="scale(0.015)"/>
</defs>
<use href="#NotoSansCJKsc-Regular-767d"/>
<use href="#NotoSansCJKsc-Regular-94f6" transform="translate(99.999 0)"/>
<use href="#NotoSansCJKsc-Regular-5386" transform="translate(199.999 0)"/>
<use href="#NotoSansCJKsc-Regular-53f2" transform="translate(299.999 0)"/>
<use href="#NotoSansCJKsc-Regular-6ce2" transform="translate(399.999 0)"/>
<use href="#NotoSansCJKsc-Regular-52a8" transform="translate(499.999 0)"/>
<use href="#NotoSansCJKsc-Regular-7387" transform="translate(599.999 0)"/>
<use href="#NotoSansCJKsc-Regular-5206" transform="translate(699.999 0)"/>
<use href="#NotoSansCJKsc-Regular-6790" transform="translate(799.999 0)"/>
</g>
</g>
<g id="legend_2">
<g id="patch_18">
<path d="M 47.74 493.695 
L 163.399 493.695 
Q 165.399 493.695 165.399 491.695 
L 165.399 477.445 
Q 165.399 475.445 163.399 475.445 
L 47.74 475.445 
Q 45.74 475.445 45.74 477.445 
L 45.74 491.695 
Q 45.74 493.695 47.74 493.695 
z
" style="fill: #fafafa; opacity: 0.8; stroke: #cccccc; stroke-linejoin: miter"/>
</g>
<g id="line2d_110">
<path d="M 49.74 483.904 
L 59.74 483.904 
L 69.74 483.904 
" style="fill: none; stroke-dasharray: 7.4,3.2; stroke-dashoffset: 0; stroke: #0000ff; stroke-width: 2"/>
</g>
<g id="text_63">
<!-- 平均波动率: 2.81% -->
<g transform="translate(77.74 487.404) scale(0.1 -0.1)">
<defs>
<path id="NotoSansCJKsc-Regular-5e73" d="M 1114 4032 
C 1363 3558 1613 2938 1702 2554 
L 2157 2714 
C 2067 3085 1805 3699 1549 4160 
L 1114 4032 
z
M 4832 4192 
C 4672 3725 4378 3072 4134 2669 
L 4550 2534 
C 4800 2918 5101 3533 5338 4051 
L 4832 4192 
z
M 333 2227 
L 333 1747 
L 2938 1747 
L 2938 -506 
L 3437 -506 
L 3437 1747 
L 6074 1747 
L 6074 2227 
L 3437 2227 
L 3437 4467 
L 5715 4467 
L 5715 4947 
L 672 4947 
L 672 4467 
L 2938 4467 
L 2938 2227 
L 333 2227 
z
" transform="scale(0.015)"/>
<path id="NotoSansCJKsc-Regular-5747" d="M 3104 2957 
C 3501 2630 4000 2170 4256 1894 
L 4563 2221 
C 4307 2477 3808 2906 3398 3226 
L 3104 2957 
z
M 2586 762 
L 2784 314 
C 3443 672 4326 1152 5139 1619 
L 5024 2003 
C 4147 1536 3194 1043 2586 762 
z
M 3648 5376 
C 3347 4538 2848 3725 2285 3206 
C 2381 3110 2534 2912 2605 2816 
C 2893 3110 3181 3488 3437 3904 
L 5498 3904 
C 5421 1267 5331 250 5120 26 
C 5050 -58 4973 -77 4838 -77 
C 4678 -77 4262 -77 3808 -32 
C 3891 -166 3949 -358 3962 -493 
C 4352 -512 4768 -525 5005 -499 
C 5242 -480 5382 -429 5530 -237 
C 5779 77 5862 1101 5946 4096 
C 5946 4166 5946 4352 5946 4352 
L 3693 4352 
C 3840 4640 3974 4941 4090 5242 
L 3648 5376 
z
M 230 787 
L 403 301 
C 1011 608 1805 1018 2547 1408 
L 2432 1811 
L 1542 1382 
L 1542 3379 
L 2317 3379 
L 2317 3834 
L 1542 3834 
L 1542 5299 
L 1082 5299 
L 1082 3834 
L 275 3834 
L 275 3379 
L 1082 3379 
L 1082 1171 
C 762 1018 467 890 230 787 
z
" transform="scale(0.015)"/>
<path id="NotoSansCJKsc-Regular-3a" d="M 890 2496 
C 1120 2496 1312 2675 1312 2944 
C 1312 3206 1120 3392 890 3392 
C 653 3392 467 3206 467 2944 
C 467 2675 653 2496 890 2496 
z
M 890 -83 
C 1120 -83 1312 96 1312 358 
C 1312 627 1120 806 890 806 
C 653 806 467 627 467 358 
C 467 96 653 -83 890 -83 
z
" transform="scale(0.015)"/>
<path id="NotoSansCJKsc-Regular-2e" d="M 890 -83 
C 1120 -83 1312 96 1312 358 
C 1312 627 1120 806 890 806 
C 653 806 467 627 467 358 
C 467 96 653 -83 890 -83 
z
" transform="scale(0.015)"/>
</defs>
<use href="#NotoSansCJKsc-Regular-5e73"/>
<use href="#NotoSansCJKsc-Regular-5747" transform="translate(99.999 0)"/>
<use href="#NotoSansCJKsc-Regular-6ce2" transform="translate(199.999 0)"/>
<use href="#NotoSansCJKsc-Regular-52a8" transform="translate(299.999 0)"/>
<use href="#NotoSansCJKsc-Regular-7387" transform="translate(399.999 0)"/>
<use href="#NotoSansCJKsc-Regular-3a" transform="translate(499.999 0)"/>
<use href="#NotoSansCJKsc-Regular-20" transform="translate(527.799 0)"/>
<use href="#NotoSansCJKsc-Regular-32" transform="translate(550.199 0)"/>
<use href="#NotoSansCJKsc-Regular-2e" transform="translate(605.699 0)"/>
<use href="#NotoSansCJKsc-Regular-38" transform="translate(633.499 0)"/>
<use href="#NotoSansCJKsc-Regular-31" transform="translate(688.999 0)"/>
<use href="#NotoSansCJKsc-Regular-25" transform="translate(744.499 0)"/>
</g>
</g>
</g>
</g>
<g id="axes_4">
<g id="patch_19">
<path d="M 614.13 789.310 
L 1127.060 789.310 
L 1127.060 470.445 
L 614.13 470.445 
z
" style="fill: #fafafa"/>
</g>
<g id="matplotlib.axis_7">
<g id="xtick_30">
<g id="line2d_111">
<path d="M 621.365 789.310 
L 621.365 470.445 
" clip-path="url(#p6abba68cff)" style="fill: none; stroke-dasharray: 2.96,1.28; stroke-dashoffset: 0; stroke: #cccccc; stroke-opacity: 0.3; stroke-width: 0.8"/>
</g>
<g id="line2d_112">
<g>
<use href="#m96d0b143b3" x="621.365" y="789.310" style="stroke: #000000; stroke-width: 0.8"/>
</g>
</g>
<g id="text_64">
<!-- 2025-11-01 -->
<g transform="translate(605.218 838.241) rotate(-45) scale(0.1 -0.1)">
<use href="#NotoSansCJKsc-Regular-32"/>
<use href="#NotoSansCJKsc-Regular-30" transform="translate(55.499 0)"/>
<use href="#NotoSansCJKsc-Regular-32" transform="translate(110.999 0)"/>
<use href="#NotoSansCJKsc-Regular-35" transform="translate(166.499 0)"/>
<use href="#NotoSansCJKsc-Regular-2d" transform="translate(221.999 0)"/>
<use href="#NotoSansCJKsc-Regular-31" transform="translate(256.699 0)"/>
<use href="#NotoSansCJKsc-Regular-31" transform="translate(312.199 0)"/>
<use href="#NotoSansCJKsc-Regular-2d" transform="translate(367.699 0)"/>
<use href="#NotoSansCJKsc-Regular-30" transform="translate(402.399 0)"/>
<use href="#NotoSansCJKsc-Regular-31" transform="translate(457.899 0)"/>
</g>
</g>
</g>
<g id="xtick_31">
<g id="line2d_113">
<path d="M 677.643 789.310 
L 677.643 470.445 
" clip-path="url(#p6abba68cff)" style="fill: none; stroke-dasharray: 2.96,1.28; stroke-dashoffset: 0; stroke: #cccccc; stroke-opacity: 0.3; stroke-width: 0.8"/>
</g>
<g id="line2d_114">
<g>
<use href="#m96d0b143b3" x="677.643" y="789.310" style="stroke: #000000; stroke-width: 0.8"/>
</g>
</g>
<g id="text_65">
<!-- 2025-11-08 -->
<g transform="translate(661.495 838.241) rotate(-45) scale(0.1 -0.1)">
<use href="#NotoSansCJKsc-Regular-32"/>
<use href="#NotoSansCJKsc-Regular-30" transform="translate(55.499 0)"/>
<use href="#NotoSansCJKsc-Regular-32" transform="translate(110.999 0)"/>
<use href="#NotoSansCJKsc-Regular-35" transform="translate(166.499 0)"/>
<use href="#NotoSansCJKsc-Regular-2d" transform="translate(221.999 0)"/>
<use href="#NotoSansCJKsc-Regular-31" transform="translate(256.699 0)"/>
<use href="#NotoSansCJKsc-Regular-31" transform="translate(312.199 0)"/>
<use href="#NotoSansCJKsc-Regular-2d" transform="translate(367.699 0)"/>
<use href="#NotoSansCJKsc-Regular-30" transform="translate(402.399 0)"/>
<use href="#NotoSansCJKsc-Regular-38" transform="translate(457.899 0)"/>
</g>
</g>
</g>
<g id="xtick_32">
<g id="line2d_115">
<path d="M 733.921 789.310 
L 733.921 470.445 
" clip-path="url(#p6abba68cff)" style="fill: none; stroke-dasharray: 2.96,1.28; stroke-dashoffset: 0; stroke: #cccccc; stroke-opacity: 0.3; stroke-width: 0.8"/>
</g>
<g id="line2d_116">
<g>
<use href="#m96d0b143b3" x="733.921" y="789.310" style="stroke: #000000; stroke-width: 0.8"/>
</g>
</g>
<g id="text_66">
<!-- 2025-11-15 -->
<g transform="translate(717.773 838.241) rotate(-45) scale(0.1 -0.1)">
<use href="#NotoSansCJKsc-Regular-32"/>
<use href="#NotoSansCJKsc-Regular-30" transform="translate(55.499 0)"/>
<use href="#NotoSansCJKsc-Regular-32" transform="translate(110.999 0)"/>
<use href="#NotoSansCJKsc-Regular-35" transform="translate(166.499 0)"/>
<use href="#NotoSansCJKsc-Regular-2d" transform="translate(221.999 0)"/>
<use href="#NotoSansCJKsc-Regular-31" transform="translate(256.699 0)"/>
<use href="#NotoSansCJKsc-Regular-31" transform="translate(312.199 0)"/>
<use href="#NotoSansCJKsc-Regular-2d" transform="translate(367.699 0)"/>
<use href="#NotoSansCJKsc-Regular-31" transform="translate(402.399 0)"/>
<use href="#NotoSansCJKsc-Regular-35" transform="translate(457.899 0)"/>
</g>
</g>
</g>
<g id="xtick_33">
<g id="line2d_117">
<path d="M 790.198 789.310 
L 790.198 470.445 
" clip-path="url(#p6abba68cff)" style="fill: none; stroke-dasharray: 2.96,1.28; stroke-dashoffset: 0; stroke: #cccccc; stroke-opacity: 0.3; stroke-width: 0.8"/>
</g>
<g id="line2d_118">
<g>
<use href="#m96d0b143b3" x="790.198" y="789.310" style="stroke: #000000; stroke-width: 0.8"/>
</g>
</g>
<g id="text_67">
<!-- 2025-11-22 -->
<g transform="translate(774.051 838.241) rotate(-45) scale(0.1 -0.1)">
<use href="#NotoSansCJKsc-Regular-32"/>
<use href="#NotoSansCJKsc-Regular-30" transform="translate(55.499 0)"/>
<use href="#NotoSansCJKsc-Regular-32" transform="translate(110.999 0)"/>
<use href="#NotoSansCJKsc-Regular-35" transform="translate(166.499 0)"/>
<use href="#NotoSansCJKsc-Regular-2d" transform="translate(221.999 0)"/>
<use href="#NotoSansCJKsc-Regular-31" transform="translate(256.699 0)"/>
<use href="#NotoSansCJKsc-Regular-31" transform="translate(312.199 0)"/>
<use href="#NotoSansCJKsc-Regular-2d" transform="translate(367.699 0)"/>
<use href="#NotoSansCJKsc-Regular-32" transform="translate(402.399 0)"/>
<use href="#NotoSansCJKsc-Regular-32" transform="translate(457.899 0)"/>
</g>
</g>
</g>
<g id="xtick_34">
<g id="line2d_119">
<path d="M 862.555 789.310 
L 862.555 470.445 
" clip-path="url(#p6abba68cff)" style="fill: none; stroke-dasharray: 2.96,1.28; stroke-dashoffset: 0; stroke: #cccccc; stroke-opacity: 0.3; stroke-width: 0.8"/>
</g>
<g id="line2d_120">
<g>
<use href="#m96d0b143b3" x="862.555" y="789.310" style="stroke: #000000; stroke-width: 0.8"/>
</g>
</g>
<g id="text_68">
<!-- 2025-12-01 -->
<g transform="translate(846.408 838.241) rotate(-45) scale(0.1 -0.1)">
<use href="#NotoSansCJKsc-Regular-32"/>
<use href="#NotoSansCJKsc-Regular-30" transform="translate(55.499 0)"/>
<use href="#NotoSansCJKsc-Regular-32" transform="translate(110.999 0)"/>
<use href="#NotoSansCJKsc-Regular-35" transform="translate(166.499 0)"/>
<use href="#NotoSansCJKsc-Regular-2d" transform="translate(221.999 0)"/>
<use href="#NotoSansCJKsc-Regular-31" transform="translate(256.699 0)"/>
<use href="#NotoSansCJKsc-Regular-32" transform="translate(312.199 0)"/>
<use href="#NotoSansCJKsc-Regular-2d" transform="translate(367.699 0)"/>
<use href="#NotoSansCJKsc-Regular-30" transform="translate(402.399 0)"/>
<use href="#NotoSansCJKsc-Regular-31" transform="translate(457.899 0)"/>
</g>
</g>
</g>
<g id="xtick_35">
<g id="line2d_121">
<path d="M 918.833 789.310 
L 918.833 470.445 
" clip-path="url(#p6abba68cff)" style="fill: none; stroke-dasharray: 2.96,1.28; stroke-dashoffset: 0; stroke: #cccccc; stroke-opacity: 0.3; stroke-width: 0.8"/>
</g>
<g id="line2d_122">
<g>
<use href="#m96d0b143b3" x="918.833" y="789.310" style="stroke: #000000; stroke-width: 0.8"/>
</g>
</g>
<g id="text_69">
<!-- 2025-12-08 -->
<g transform="translate(902.685 838.241) rotate(-45) scale(0.1 -0.1)">
<use href="#NotoSansCJKsc-Regular-32"/>
<use href="#NotoSansCJKsc-Regular-30" transform="translate(55.499 0)"/>
<use href="#NotoSansCJKsc-Regular-32" transform="translate(110.999 0)"/>
<use href="#NotoSansCJKsc-Regular-35" transform="translate(166.499 0)"/>
<use href="#NotoSansCJKsc-Regular-2d" transform="translate(221.999 0)"/>
<use href="#NotoSansCJKsc-Regular-31" transform="translate(256.699 0)"/>
<use href="#NotoSansCJKsc-Regular-32" transform="translate(312.199 0)"/>
<use href="#NotoSansCJKsc-Regular-2d" transform="translate(367.699 0)"/>
<use href="#NotoSansCJKsc-Regular-30" transform="translate(402.399 0)"/>
<use href="#NotoSansCJKsc-Regular-38" transform="translate(457.899 0)"/>
</g>
</g>
</g>
<g id="xtick_36">
<g id="line2d_123">
<path d="M 975.111 789.310 
L 975.111 470.445 
" clip-path="url(#p6abba68cff)" style="fill: none; stroke-dasharray: 2.96,1.28; stroke-dashoffset: 0; stroke: #cccccc; stroke-opacity: 0.3; stroke-width: 0.8"/>
</g>
<g id="line2d_124">
<g>
<use href="#m96d0b143b3" x="975.111" y="789.310" style="stroke: #000000; stroke-width: 0.8"/>
</g>
</g>
<g id="text_70">
<!-- 2025-12-15 -->
<g transform="translate(958.963 838.241) rotate(-45) scale(0.1 -0.1)">
<use href="#NotoSansCJKsc-Regular-32"/>
<use href="#NotoSansCJKsc-Regular-30" transform="translate(55.499 0)"/>
<use href="#NotoSansCJKsc-Regular-32" transform="translate(110.999 0)"/>
<use href="#NotoSansCJKsc-Regular-35" transform="translate(166.499 0)"/>
<use href="#NotoSansCJKsc-Regular-2d" transform="translate(221.999 0)"/>
<use href="#NotoSansCJKsc-Regular-31" transform="translate(256.699 0)"/>
<use href="#NotoSansCJKsc-Regular-32" transform="translate(312.199 0)"/>
<use href="#NotoSansCJKsc-Regular-2d" transform="translate(367.699 0)"/>
<use href="#NotoSansCJKsc-Regular-31" transform="translate(402.399 0)"/>
<use href="#NotoSansCJKsc-Regular-35" transform="translate(457.899 0)"/>
</g>
</g>
</g>
<g id="xtick_37">
<g id="line2d_125">
<path d="M 1031.388 789.310 
L 1031.388 470.445 
" clip-path="url(#p6abba68cff)" style="fill: none; stroke-dasharray: 2.96,1.28; stroke-dashoffset: 0; stroke: #cccccc; stroke-opacity: 0.3; stroke-width: 0.8"/>
</g>
<g id="line2d_126">
<g>
<use href="#m96d0b143b3" x="1031.388" y="789.310" style="stroke: #000000; stroke-width: 0.8"/>
</g>
</g>
<g id="text_71">
<!-- 2025-12-22 -->
<g transform="translate(1015.241 838.241) rotate(-45) scale(0.1 -0.1)">
<use href="#NotoSansCJKsc-Regular-32"/>
<use href="#NotoSansCJKsc-Regular-30" transform="translate(55.499 0)"/>
<use href="#NotoSansCJKsc-Regular-32" transform="translate(110.999 0)"/>
<use href="#NotoSansCJKsc-Regular-35" transform="translate(166.499 0)"/>
<use href="#NotoSansCJKsc-Regular-2d" transform="translate(221.999 0)"/>
<use href="#NotoSansCJKsc-Regular-31" transform="translate(256.699 0)"/>
<use href="#NotoSansCJKsc-Regular-32" transform="translate(312.199 0)"/>
<use href="#NotoSansCJKsc-Regular-2d" transform="translate(367.699 0)"/>
<use href="#NotoSansCJKsc-Regular-32" transform="translate(402.399 0)"/>
<use href="#NotoSansCJKsc-Regular-32" transform="translate(457.899 0)"/>
</g>
</g>
</g>
<g id="xtick_38">
<g id="line2d_127">
<path d="M 1111.785 789.310 
L 1111.785 470.445 
" clip-path="url(#p6abba68cff)" style="fill: none; stroke-dasharray: 2.96,1.28; stroke-dashoffset: 0; stroke: #cccccc; stroke-opacity: 0.3; stroke-width: 0.8"/>
</g>
<g id="line2d_128">
<g>
<use href="#m96d0b143b3" x="1111.785" y="789.310" style="stroke: #000000; stroke-width: 0.8"/>
</g>
</g>
<g id="text_72">
<!-- 2026-01-01 -->
<g transform="translate(1095.637 838.241) rotate(-45) scale(0.1 -0.1)">
<use href="#NotoSansCJKsc-Regular-32"/>
<use href="#NotoSansCJKsc-Regular-30" transform="translate(55.499 0)"/>
<use href="#NotoSansCJKsc-Regular-32" transform="translate(110.999 0)"/>
<use href="#NotoSansCJKsc-Regular-36" transform="translate(166.499 0)"/>
<use href="#NotoSansCJKsc-Regular-2d" transform="translate(221.999 0)"/>
<use href="#NotoSansCJKsc-Regular-30" transform="translate(256.699 0)"/>
<use href="#NotoSansCJKsc-Regular-31" transform="translate(312.199 0)"/>
<use href="#NotoSansCJKsc-Regular-2d" transform="translate(367.699 0)"/>
<use href="#NotoSansCJKsc-Regular-30" transform="translate(402.399 0)"/>
<use href="#NotoSansCJKsc-Regular-31" transform="translate(457.899 0)"/>
</g>
</g>
</g>
<g id="text_73">
<!-- 日期 -->
<g transform="translate(859.595 852.616) scale(0.11 -0.11)">
<use href="#NotoSansCJKsc-Regular-65e5"/>
<use href="#NotoSansCJKsc-Regular-671f" transform="translate(99.999 0)"/>
</g>
</g>
</g>
<g id="matplotlib.axis_8">
<g id="ytick_23">
<g id="line2d_129">
<path d="M 614.13 788.203 
L 1127.060 788.203 
" clip-path="url(#p6abba68cff)" style="fill: none; stroke-dasharray: 2.96,1.28; stroke-dashoffset: 0; stroke: #cccccc; stroke-opacity: 0.3; stroke-width: 0.8"/>
</g>
<g id="line2d_130">
<g>
<use href="#m0469b5f568" x="614.13" y="788.203" style="stroke: #000000; stroke-width: 0.8"/>
</g>
</g>
<g id="text_74">
<!-- 55 -->
<g transform="translate(596.03 792.183) scale(0.1 -0.1)">
<use href="#NotoSansCJKsc-Regular-35"/>
<use href="#NotoSansCJKsc-Regular-35" transform="translate(55.499 0)"/>
</g>
</g>
</g>
<g id="ytick_24">
<g id="line2d_131">
<path d="M 614.13 735.498 
L 1127.060 735.498 
" clip-path="url(#p6abba68cff)" style="fill: none; stroke-dasharray: 2.96,1.28; stroke-dashoffset: 0; stroke: #cccccc; stroke-opacity: 0.3; stroke-width: 0.8"/>
</g>
<g id="line2d_132">
<g>
<use href="#m0469b5f568" x="614.13" y="735.498" style="stroke: #000000; stroke-width: 0.8"/>
</g>
</g>
<g id="text_75">
<!-- 60 -->
<g transform="translate(596.03 739.478) scale(0.1 -0.1)">
<use href="#NotoSansCJKsc-Regular-36"/>
<use href="#NotoSansCJKsc-Regular-30" transform="translate(55.499 0)"/>
</g>
</g>
</g>
<g id="ytick_25">
<g id="line2d_133">
<path d="M 614.13 682.793 
L 1127.060 682.793 
" clip-path="url(#p6abba68cff)" style="fill: none; stroke-dasharray: 2.96,1.28; stroke-dashoffset: 0; stroke: #cccccc; stroke-opacity: 0.3; stroke-width: 0.8"/>
</g>
<g id="line2d_134">
<g>
<use href="#m0469b5f568" x="614.13" y="682.793" style="stroke: #000000; stroke-width: 0.8"/>
</g>
</g>
<g id="text_76">
<!-- 65 -->
<g transform="translate(596.03 686.773) scale(0.1 -0.1)">
<use href="#NotoSansCJKsc-Regular-36"/>
<use href="#NotoSansCJKsc-Regular-35" transform="translate(55.499 0)"/>
</g>
</g>
</g>
<g id="ytick_26">
<g id="line2d_135">
<path d="M 614.13 630.088 
L 1127.060 630.088 
" clip-path="url(#p6abba68cff)" style="fill: none; stroke-dasharray: 2.96,1.28; stroke-dashoffset: 0; stroke: #cccccc; stroke-opacity: 0.3; stroke-width: 0.8"/>
</g>
<g id="line2d_136">
<g>
<use href="#m0469b5f568" x="614.13" y="630.088" style="stroke: #000000; stroke-width: 0.8"/>
</g>
</g>
<g id="text_77">
<!-- 70 -->
<g transform="translate(596.03 634.068) scale(0.1 -0.1)">
<use href="#NotoSansCJKsc-Regular-37"/>
<use href="#NotoSansCJKsc-Regular-30" transform="translate(55.499 0)"/>
</g>
</g>
</g>
<g id="ytick_27">
<g id="line2d_137">
<path d="M 614.13 577.383 
L 1127.060 577.383 
" clip-path="url(#p6abba68cff)" style="fill: none; stroke-dasharray: 2.96,1.28; stroke-dashoffset: 0; stroke: #cccccc; stroke-opacity: 0.3; stroke-width: 0.8"/>
</g>
<g id="line2d_138">
<g>
<use href="#m0469b5f568" x="614.13" y="577.383" style="stroke: #000000; stroke-width: 0.8"/>
</g>
</g>
<g id="text_78">
<!-- 75 -->
<g transform="translate(596.03 581.363) scale(0.1 -0.1)">
<use href="#NotoSansCJKsc-Regular-37"/>
<use href="#NotoSansCJKsc-Regular-35" transform="translate(55.499 0)"/>
</g>
</g>
</g>
<g id="ytick_28">
<g id="line2d_139">
<path d="M 614.13 524.678 
L 1127.060 524.678 
" clip-path="url(#p6abba68cff)" style="fill: none; stroke-dasharray: 2.96,1.28; stroke-dashoffset: 0; stroke: #cccccc; stroke-opacity: 0.3; stroke-width: 0.8"/>
</g>
<g id="line2d_140">
<g>
<use href="#m0469b5f568" x="614.13" y="524.678" style="stroke: #000000; stroke-width: 0.8"/>
</g>
</g>
<g id="text_79">
<!-- 80 -->
<g transform="translate(596.03 528.658) scale(0.1 -0.1)">
<use href="#NotoSansCJKsc-Regular-38"/>
<use href="#NotoSansCJKsc-Regular-30" transform="translate(55.499 0)"/>
</g>
</g>
</g>
<g id="ytick_29">
<g id="line2d_141">
<path d="M 614.13 471.973 
L 1127.060 471.973 
" clip-path="url(#p6abba68cff)" style="fill: none; stroke-dasharray: 2.96,1.28; stroke-dashoffset: 0; stroke: #cccccc; stroke-opacity: 0.3; stroke-width: 0.8"/>
</g>
<g id="line2d_142">
<g>
<use href="#m0469b5f568" x="614.13" y="471.973" style="stroke: #000000; stroke-width: 0.8"/>
</g>
</g>
<g id="text_80">
<!-- 85 -->
<g transform="translate(596.03 475.953) scale(0.1 -0.1)">
<use href="#NotoSansCJKsc-Regular-38"/>
<use href="#NotoSansCJKsc-Regular-35" transform="translate(55.499 0)"/>
</g>
</g>
</g>
<g id="text_81">
<!-- 金价/银价 -->
<g transform="translate(589.510 654.033) rotate(-90) scale(0.11 -0.11)">
<use href="#NotoSansCJKsc-Regular-91d1"/>
<use href="#NotoSansCJKsc-Regular-4ef7" transform="translate(99.999 0)"/>
<use href="#NotoSansCJKsc-Regular-2f" transform="translate(199.999 0)"/>
<use href="#NotoSansCJKsc-Regular-94f6" transform="translate(239.199 0)"/>
<use href="#NotoSansCJKsc-Regular-4ef7" transform="translate(339.199 0)"/>
</g>
</g>
</g>
<g id="line2d_143">
<path d="M 637.445 486.941 
L 645.484 484.938 
L 653.524 491.158 
L 661.564 490.209 
L 669.603 489.787 
L 685.683 498.431 
L 693.722 504.123 
L 701.762 512.240 
L 709.802 536.800 
L 717.841 536.273 
L 725.881 516.034 
L 741.960 518.459 
L 750.000 520.356 
L 758.040 518.986 
L 766.079 521.305 
L 774.119 516.561 
L 782.159 506.020 
L 798.238 507.918 
L 806.278 509.921 
L 814.317 511.080 
L 822.357 541.017 
L 830.397 583.286 
L 838.436 580.124 
L 854.516 589.084 
L 862.555 605.949 
L 870.595 609.533 
L 878.635 606.687 
L 886.674 589.611 
L 894.714 609.849 
L 910.793 603.314 
L 918.833 605.844 
L 926.873 633.672 
L 934.912 637.467 
L 942.952 664.030 
L 950.992 631.353 
L 967.071 636.413 
L 975.111 648.956 
L 983.150 646.216 
L 991.190 678.893 
L 999.230 662.133 
L 1007.269 682.477 
L 1023.349 695.232 
L 1031.388 680.369 
L 1039.428 700.186 
L 1047.468 705.140 
L 1055.507 728.541 
L 1063.547 746.566 
L 1079.626 765.118 
L 1087.666 718.000 
L 1095.706 774.816 
L 1103.745 719.265 
" clip-path="url(#p6abba68cff)" style="fill: none; stroke: #ffa500; stroke-width: 2.5; stroke-linecap: square"/>
<defs>
<path id="m59d93ddbf2" d="M -0 2.828 
L 1.697 0 
L 0 -2.828 
L -1.697 -0 
z
" style="stroke: #ffa500; stroke-linejoin: miter"/>
</defs>
<g clip-path="url(#p6abba68cff)">
<use href="#m59d93ddbf2" x="637.445" y="486.941" style="fill: #ffa500; stroke: #ffa500; stroke-linejoin: miter"/>
<use href="#m59d93ddbf2" x="645.484" y="484.938" style="fill: #ffa500; stroke: #ffa500; stroke-linejoin: miter"/>
<use href="#m59d93ddbf2" x="653.524" y="491.158" style="fill: #ffa500; stroke: #ffa500; stroke-linejoin: miter"/>
<use href="#m59d93ddbf2" x="661.564" y="490.209" style="fill: #ffa500; stroke: #ffa500; stroke-linejoin: miter"/>
<use href="#m59d93ddbf2" x="669.603" y="489.787" style="fill: #ffa500; stroke: #ffa500; stroke-linejoin: miter"/>
<use href="#m59d93ddbf2" x="685.683" y="498.431" style="fill: #ffa500; stroke: #ffa500; stroke-linejoin: miter"/>
<use href="#m59d93ddbf2" x="693.722" y="504.123" style="fill: #ffa500; stroke: #ffa500; stroke-linejoin: miter"/>
<use href="#m59d93ddbf2" x="701.762" y="512.240" style="fill: #ffa500; stroke: #ffa500; stroke-linejoin: miter"/>
<use href="#m59d93ddbf2" x="709.802" y="536.800" style="fill: #ffa500; stroke: #ffa500; stroke-linejoin: miter"/>
<use href="#m59d93ddbf2" x="717.841" y="536.273" style="fill: #ffa500; stroke: #ffa500; stroke-linejoin: miter"/>
<use href="#m59d93ddbf2" x="725.881" y="516.034" style="fill: #ffa500; stroke: #ffa500; stroke-linejoin: miter"/>
<use href="#m59d93ddbf2" x="741.960" y="518.459" style="fill: #ffa500; stroke: #ffa500; stroke-linejoin: miter"/>
<use href="#m59d93ddbf2" x="750.000" y="520.356" style="fill: #ffa500; stroke: #ffa500; stroke-linejoin: miter"/>
<use href="#m59d93ddbf2" x="758.040" y="518.986" style="fill: #ffa500; stroke: #ffa500; stroke-linejoin: miter"/>
<use href="#m59d93ddbf2" x="766.079" y="521.305" style="fill: #ffa500; stroke: #ffa500; stroke-linejoin: miter"/>
<use href="#m59d93ddbf2" x="774.119" y="516.561" style="fill: #ffa500; stroke: #ffa500; stroke-linejoin: miter"/>
<use href="#m59d93ddbf2" x="782.159" y="506.020" style="fill: #ffa500; stroke: #ffa500; stroke-linejoin: miter"/>
<use href="#m59d93ddbf2" x="798.238" y="507.918" style="fill: #ffa500; stroke: #ffa500; stroke-linejoin: miter"/>
<use href="#m59d93ddbf2" x="806.278" y="509.921" style="fill: #ffa500; stroke: #ffa500; stroke-linejoin: miter"/>
<use href="#m59d93ddbf2" x="814.317" y="511.080" style="fill: #ffa500; stroke: #ffa500; stroke-linejoin: miter"/>
<use href="#m59d93ddbf2" x="822.357" y="541.017" style="fill: #ffa500; stroke: #ffa500; stroke-linejoin: miter"/>
<use href="#m59d93ddbf2" x="830.397" y="583.286" style="fill: #ffa500; stroke: #ffa500; stroke-linejoin: miter"/>
<use href="#m59d93ddbf2" x="838.436" y="580.124" style="fill: #ffa500; stroke: #ffa500; stroke-linejoin: miter"/>
<use href="#m59d93ddbf2" x="854.516" y="589.084" style="fill: #ffa500; stroke: #ffa500; stroke-linejoin: miter"/>
<use href="#m59d93ddbf2" x="862.555" y="605.949" style="fill: #ffa500; stroke: #ffa500; stroke-linejoin: miter"/>
<use href="#m59d93ddbf2" x="870.595" y="609.533" style="fill: #ffa500; stroke: #ffa500; stroke-linejoin: miter"/>
<use href="#m59d93ddbf2" x="878.635" y="606.687" style="fill: #ffa500; stroke: #ffa500; stroke-linejoin: miter"/>
<use href="#m59d93ddbf2" x="886.674" y="589.611" style="fill: #ffa500; stroke: #ffa500; stroke-linejoin: miter"/>
<use href="#m59d93ddbf2" x="894.714" y="609.849" style="fill: #ffa500; stroke: #ffa500; stroke-linejoin: miter"/>
<use href="#m59d93ddbf2" x="910.793" y="603.314" style="fill: #ffa500; stroke: #ffa500; stroke-linejoin: miter"/>
<use href="#m59d93ddbf2" x="918.833" y="605.844" style="fill: #ffa500; stroke: #ffa500; stroke-linejoin: miter"/>
<use href="#m59d93ddbf2" x="926.873" y="633.672" style="fill: #ffa500; stroke: #ffa500; stroke-linejoin: miter"/>
<use href="#m59d93ddbf2" x="934.912" y="637.467" style="fill: #ffa500; stroke: #ffa500; stroke-linejoin: miter"/>
<use href="#m59d93ddbf2" x="942.952" y="664.030" style="fill: #ffa500; stroke: #ffa500; stroke-linejoin: miter"/>
<use href="#m59d93ddbf2" x="950.992" y="631.353" style="fill: #ffa500; stroke: #ffa500; stroke-linejoin: miter"/>
<use href="#m59d93ddbf2" x="967.071" y="636.413" style="fill: #ffa500; stroke: #ffa500; stroke-linejoin: miter"/>
<use href="#m59d93ddbf2" x="975.111" y="648.956" style="fill: #ffa500; stroke: #ffa500; stroke-linejoin: miter"/>
<use href="#m59d93ddbf2" x="983.150" y="646.216" style="fill: #ffa500; stroke: #ffa500; stroke-linejoin: miter"/>
<use href="#m59d93ddbf2" x="991.190" y="678.893" style="fill: #ffa500; stroke: #ffa500; stroke-linejoin: miter"/>
<use href="#m59d93ddbf2" x="999.230" y="662.133" style="fill: #ffa500; stroke: #ffa500; stroke-linejoin: miter"/>
<use href="#m59d93ddbf2" x="1007.269" y="682.477" style="fill: #ffa500; stroke: #ffa500; stroke-linejoin: miter"/>
<use href="#m59d93ddbf2" x="1023.349" y="695.232" style="fill: #ffa500; stroke: #ffa500; stroke-linejoin: miter"/>
<use href="#m59d93ddbf2" x="1031.388" y="680.369" style="fill: #ffa500; stroke: #ffa500; stroke-linejoin: miter"/>
<use href="#m59d93ddbf2" x="1039.428" y="700.186" style="fill: #ffa500; stroke: #ffa500; stroke-linejoin: miter"/>
<use href="#m59d93ddbf2" x="1047.468" y="705.140" style="fill: #ffa500; stroke: #ffa500; stroke-linejoin: miter"/>
<use href="#m59d93ddbf2" x="1055.507" y="728.541" style="fill: #ffa500; stroke: #ffa500; stroke-linejoin: miter"/>
<use href="#m59d93ddbf2" x="1063.547" y="746.566" style="fill: #ffa500; stroke: #ffa500; stroke-linejoin: miter"/>
<use href="#m59d93ddbf2" x="1079.626" y="765.118" style="fill: #ffa500; stroke: #ffa500; stroke-linejoin: miter"/>
<use href="#m59d93ddbf2" x="1087.666" y="718.000" style="fill: #ffa500; stroke: #ffa500; stroke-linejoin: miter"/>
<use href="#m59d93ddbf2" x="1095.706" y="774.816" style="fill: #ffa500; stroke: #ffa500; stroke-linejoin: miter"/>
<use href="#m59d93ddbf2" x="1103.745" y="719.265" style="fill: #ffa500; stroke: #ffa500; stroke-linejoin: miter"/>
</g>
</g>
<g id="line2d_144">
<path d="M 614.13 597.190 
L 1127.060 597.190 
" clip-path="url(#p6abba68cff)" style="fill: none; stroke-dasharray: 7.4,3.2; stroke-dashoffset: 0; stroke: #000080; stroke-width: 2"/>
</g>
<g id="line2d_145">
<path d="M 614.13 719.265 
L 1127.060 719.265 
" clip-path="url(#p6abba68cff)" style="fill: none; stroke-dasharray: 2,3.3; stroke-dashoffset: 0; stroke: #008000; stroke-width: 2"/>
</g>
<g id="patch_20">
<path d="M 614.13 789.310 
L 614.13 470.445 
" style="fill: none; opacity: 0.3; stroke: #cccccc; stroke-width: 0.8; stroke-linejoin: miter; stroke-linecap: square"/>
</g>
<g id="patch_21">
<path d="M 1127.060 789.310 
L 1127.060 470.445 
" style="fill: none; opacity: 0.3; stroke: #cccccc; stroke-width: 0.8; stroke-linejoin: miter; stroke-linecap: square"/>
</g>
<g id="patch_22">
<path d="M 614.13 789.310 
L 1127.060 789.310 
" style="fill: none; opacity: 0.3; stroke: #cccccc; stroke-width: 0.8; stroke-linejoin: miter; stroke-linecap: square"/>
</g>
<g id="patch_23">
<path d="M 614.13 470.445 
L 1127.060 470.445 
" style="fill: none; opacity: 0.3; stroke: #cccccc; stroke-width: 0.8; stroke-linejoin: miter; stroke-linecap: square"/>
</g>
<g id="text_82">
<!-- 金银比走势（黄金价格÷白银价格） -->
<g transform="translate(766.595 464.445) scale(0.13 -0.13)">
<defs>
<path id="NotoSansCJKsc-Regular-f7" d="M 3200 4499 
C 2944 4499 2739 4288 2739 4032 
C 2739 3782 2944 3571 3200 3571 
C 3456 3571 3661 3782 3661 4032 
C 3661 4288 3456 4499 3200 4499 
z
M 5523 2624 
L 877 2624 
L 877 2182 
L 5523 2182 
L 5523 2624 
z
M 3200 1235 
C 2944 1235 2739 1024 2739 774 
C 2739 518 2944 307 3200 307 
C 3456 307 3661 518 3661 774 
C 3661 1024 3456 1235 3200 1235 
z
" transform="scale(0.015)"/>
</defs>
<use href="#NotoSansCJKsc-Regular-91d1"/>
<use href="#NotoSansCJKsc-Regular-94f6" transform="translate(99.999 0)"/>
<use href="#NotoSansCJKsc-Regular-6bd4" transform="translate(199.999 0)"/>
<use href="#NotoSansCJKsc-Regular-8d70" transform="translate(299.999 0)"/>
<use href="#NotoSansCJKsc-Regular-52bf" transform="translate(399.999 0)"/>
<use href="#NotoSansCJKsc-Regular-ff08" transform="translate(499.999 0)"/>
<use href="#NotoSansCJKsc-Regular-9ec4" transform="translate(599.999 0)"/>
<use href="#NotoSansCJKsc-Regular-91d1" transform="translate(699.999 0)"/>
<use href="#NotoSansCJKsc-Regular-4ef7" transform="translate(799.999 0)"/>
<use href="#NotoSansCJKsc-Regular-683c" transform="translate(899.999 0)"/>
<use href="#NotoSansCJKsc-Regular-f7" transform="translate(999.999 0)"/>
<use href="#NotoSansCJKsc-Regular-767d" transform="translate(1099.999 0)"/>
<use href="#NotoSansCJKsc-Regular-94f6" transform="translate(1199.999 0)"/>
<use href="#NotoSansCJKsc-Regular-4ef7" transform="translate(1299.999 0)"/>
<use href="#NotoSansCJKsc-Regular-683c" transform="translate(1399.999 0)"/>
<use href="#NotoSansCJKsc-Regular-ff09" transform="translate(1499.999 0)"/>
</g>
</g>
<g id="legend_3">
<g id="patch_24">
<path d="M 1013.610 508.945 
L 1120.060 508.945 
Q 1122.060 508.945 1122.060 506.945 
L 1122.060 477.445 
Q 1122.060 475.445 1120.060 475.445 
L 1013.610 475.445 
Q 1011.610 475.445 1011.610 477.445 
L 1011.610 506.945 
Q 1011.610 508.945 1013.610 508.945 
z
" style="fill: #fafafa; opacity: 0.8; stroke: #cccccc; stroke-linejoin: miter"/>
</g>
<g id="line2d_146">
<path d="M 1015.610 483.904 
L 1025.610 483.904 
L 1035.610 483.904 
" style="fill: none; stroke-dasharray: 7.4,3.2; stroke-dashoffset: 0; stroke: #000080; stroke-width: 2"/>
</g>
<g id="text_83">
<!-- 平均金银比: 73.1 -->
<g transform="translate(1043.610 487.404) scale(0.1 -0.1)">
<use href="#NotoSansCJKsc-Regular-5e73"/>
<use href="#NotoSansCJKsc-Regular-5747" transform="translate(99.999 0)"/>
<use href="#NotoSansCJKsc-Regular-91d1" transform="translate(199.999 0)"/>
<use href="#NotoSansCJKsc-Regular-94f6" transform="translate(299.999 0)"/>
<use href="#NotoSansCJKsc-Regular-6bd4" transform="translate(399.999 0)"/>
<use href="#NotoSansCJKsc-Regular-3a" transform="translate(499.999 0)"/>
<use href="#NotoSansCJKsc-Regular-20" transform="translate(527.799 0)"/>
<use href="#NotoSansCJKsc-Regular-37" transform="translate(550.199 0)"/>
<use href="#NotoSansCJKsc-Regular-33" transform="translate(605.699 0)"/>
<use href="#NotoSansCJKsc-Regular-2e" transform="translate(661.199 0)"/>
<use href="#NotoSansCJKsc-Regular-31" transform="translate(688.999 0)"/>
</g>
</g>
<g id="line2d_147">
<path d="M 1015.610 499.154 
L 1025.610 499.154 
L 1035.610 499.154 
" style="fill: none; stroke-dasharray: 2,3.3; stroke-dashoffset: 0; stroke: #008000; stroke-width: 2"/>
</g>
<g id="text_84">
<!-- 当前金银比: 61.5 -->
<g transform="translate(1043.610 502.654) scale(0.1 -0.1)">
<defs>
<path id="NotoSansCJKsc-Regular-5f53" d="M 774 4922 
C 1114 4467 1459 3846 1600 3430 
L 2061 3642 
C 1914 4045 1562 4646 1210 5094 
L 774 4922 
z
M 5126 5152 
C 4941 4659 4582 3981 4307 3552 
L 4723 3392 
C 5011 3802 5370 4435 5645 4979 
L 5126 5152 
z
M 736 243 
L 736 -237 
L 5056 -237 
L 5056 -518 
L 5562 -518 
L 5562 3110 
L 3456 3110 
L 3456 5376 
L 2931 5376 
L 2931 3110 
L 864 3110 
L 864 2630 
L 5056 2630 
L 5056 1702 
L 1075 1702 
L 1075 1242 
L 5056 1242 
L 5056 243 
L 736 243 
z
" transform="scale(0.015)"/>
<path id="NotoSansCJKsc-Regular-524d" d="M 3866 3290 
L 3866 666 
L 4314 666 
L 4314 3290 
L 3866 3290 
z
M 5165 3482 
L 5165 90 
C 5165 -6 5133 -32 5030 -32 
C 4922 -38 4576 -38 4186 -26 
C 4256 -154 4333 -358 4358 -486 
C 4851 -493 5178 -480 5370 -403 
C 5568 -326 5638 -192 5638 83 
L 5638 3482 
L 5165 3482 
z
M 4627 5408 
C 4486 5094 4243 4672 4026 4365 
L 2106 4365 
L 2419 4480 
C 2298 4736 2022 5114 1779 5382 
L 1331 5222 
C 1562 4960 1798 4614 1920 4365 
L 339 4365 
L 339 3923 
L 6061 3923 
L 6061 4365 
L 4570 4365 
C 4755 4627 4960 4947 5139 5242 
L 4627 5408 
z
M 2618 1926 
L 2618 1280 
L 1197 1280 
L 1197 1926 
L 2618 1926 
z
M 2618 2304 
L 1197 2304 
L 1197 2938 
L 2618 2938 
L 2618 2304 
z
M 742 3347 
L 742 -480 
L 1197 -480 
L 1197 902 
L 2618 902 
L 2618 45 
C 2618 -38 2592 -64 2502 -64 
C 2419 -70 2125 -70 1798 -58 
C 1862 -179 1933 -365 1965 -486 
C 2394 -486 2682 -480 2854 -403 
C 3034 -333 3085 -205 3085 38 
L 3085 3347 
L 742 3347 
z
" transform="scale(0.015)"/>
</defs>
<use href="#NotoSansCJKsc-Regular-5f53"/>
<use href="#NotoSansCJKsc-Regular-524d" transform="translate(99.999 0)"/>
<use href="#NotoSansCJKsc-Regular-91d1" transform="translate(199.999 0)"/>
<use href="#NotoSansCJKsc-Regular-94f6" transform="translate(299.999 0)"/>
<use href="#NotoSansCJKsc-Regular-6bd4" transform="translate(399.999 0)"/>
<use href="#NotoSansCJKsc-Regular-3a" transform="translate(499.999 0)"/>
<use href="#NotoSansCJKsc-Regular-20" transform="translate(527.799 0)"/>
<use href="#NotoSansCJKsc-Regular-36" transform="translate(550.199 0)"/>
<use href="#NotoSansCJKsc-Regular-31" transform="translate(605.699 0)"/>
<use href="#NotoSansCJKsc-Regular-2e" transform="translate(661.199 0)"/>
<use href="#NotoSansCJKsc-Regular-35" transform="translate(688.999 0)"/>
</g>
</g>
</g>
</g>
<g id="text_85">
<!-- 白银市场综合分析：价格、波动率与贵金属对比 -->
<g transform="translate(403.54 19.935) scale(0.16 -0.16)">
<defs>
<path id="NotoSansCJKsc-Regular-5e02" d="M 2643 5280 
C 2797 5024 2970 4685 3072 4435 
L 326 4435 
L 326 3968 
L 2931 3968 
L 2931 3098 
L 947 3098 
L 947 230 
L 1427 230 
L 1427 2630 
L 2931 2630 
L 2931 -499 
L 3424 -499 
L 3424 2630 
L 5024 2630 
L 5024 845 
C 5024 755 4992 723 4877 717 
C 4768 710 4378 710 3942 730 
C 4013 589 4090 397 4109 256 
C 4659 256 5018 256 5242 339 
C 5453 416 5517 563 5517 838 
L 5517 3098 
L 3424 3098 
L 3424 3968 
L 6086 3968 
L 6086 4435 
L 3520 4435 
L 3616 4467 
C 3520 4723 3296 5126 3110 5427 
L 2643 5280 
z
" transform="scale(0.015)"/>
<path id="NotoSansCJKsc-Regular-573a" d="M 2630 2778 
C 2688 2829 2893 2854 3187 2854 
L 3642 2854 
C 3373 2150 2912 1568 2323 1184 
L 2246 1555 
L 1562 1299 
L 1562 3360 
L 2266 3360 
L 2266 3814 
L 1562 3814 
L 1562 5299 
L 1107 5299 
L 1107 3814 
L 320 3814 
L 320 3360 
L 1107 3360 
L 1107 1133 
C 774 1011 474 902 230 826 
L 390 339 
C 941 557 1664 845 2336 1114 
L 2323 1171 
C 2426 1107 2598 979 2669 902 
C 3283 1350 3808 2022 4096 2854 
L 4634 2854 
C 4230 1485 3514 422 2426 -230 
C 2534 -294 2720 -429 2797 -506 
C 3878 218 4640 1350 5082 2854 
L 5517 2854 
C 5402 973 5267 243 5101 64 
C 5037 -13 4979 -32 4877 -26 
C 4762 -26 4518 -26 4256 0 
C 4333 -128 4384 -320 4390 -454 
C 4659 -467 4922 -474 5075 -454 
C 5261 -435 5389 -384 5510 -230 
C 5734 32 5869 826 6003 3072 
C 6010 3142 6016 3309 6016 3309 
L 3443 3309 
C 4077 3712 4749 4237 5434 4845 
L 5075 5114 
L 4973 5075 
L 2400 5075 
L 2400 4621 
L 4461 4621 
C 3904 4115 3283 3680 3072 3546 
C 2822 3386 2586 3251 2426 3232 
C 2490 3110 2592 2886 2630 2778 
z
" transform="scale(0.015)"/>
<path id="NotoSansCJKsc-Regular-7efc" d="M 3136 3443 
L 3136 3014 
L 5466 3014 
L 5466 3443 
L 3136 3443 
z
M 3155 1427 
C 2918 979 2547 486 2208 147 
C 2310 83 2502 -58 2586 -141 
C 2925 230 3322 787 3597 1280 
L 3155 1427 
z
M 4973 1261 
C 5274 832 5613 262 5766 -90 
L 6202 122 
C 6042 467 5690 1024 5382 1434 
L 4973 1261 
z
M 288 339 
L 378 -115 
C 941 32 1677 218 2387 397 
L 2342 806 
C 1574 627 800 442 288 339 
z
M 2509 2266 
L 2509 1843 
L 4083 1843 
L 4083 26 
C 4083 -38 4058 -58 3974 -64 
C 3904 -70 3635 -70 3347 -64 
C 3405 -186 3469 -365 3488 -480 
C 3904 -486 4160 -486 4333 -416 
C 4506 -339 4550 -224 4550 19 
L 4550 1843 
L 6042 1843 
L 6042 2266 
L 2509 2266 
z
M 3853 5286 
C 3968 5069 4090 4806 4173 4582 
L 2605 4582 
L 2605 3507 
L 3059 3507 
L 3059 4166 
L 5536 4166 
L 5536 3507 
L 6010 3507 
L 6010 4582 
L 4698 4582 
C 4621 4819 4467 5152 4307 5408 
L 3853 5286 
z
M 390 2707 
C 486 2752 640 2790 1440 2893 
C 1158 2470 896 2131 774 2003 
C 582 1766 435 1606 294 1581 
C 352 1472 422 1254 442 1165 
C 570 1242 774 1299 2310 1613 
C 2298 1709 2298 1888 2310 2010 
L 1101 1792 
C 1587 2362 2067 3072 2477 3776 
L 2099 4006 
C 1978 3770 1843 3526 1702 3302 
L 851 3213 
C 1222 3763 1594 4480 1869 5165 
L 1434 5363 
C 1190 4589 742 3750 595 3539 
C 461 3322 358 3162 243 3142 
C 301 3021 371 2803 390 2707 
z
" transform="scale(0.015)"/>
<path id="NotoSansCJKsc-Regular-5408" d="M 3309 5395 
C 2656 4403 1472 3546 256 3066 
C 390 2957 525 2771 602 2643 
C 934 2790 1267 2963 1587 3162 
L 1587 2842 
L 4819 2842 
L 4819 3270 
C 5152 3059 5498 2874 5862 2701 
C 5933 2854 6080 3027 6202 3136 
C 5184 3565 4275 4096 3526 4890 
L 3731 5178 
L 3309 5395 
z
M 1773 3283 
C 2317 3642 2822 4070 3238 4544 
C 3725 4032 4237 3629 4794 3283 
L 1773 3283 
z
M 1254 2074 
L 1254 -499 
L 1741 -499 
L 1741 -141 
L 4723 -141 
L 4723 -474 
L 5229 -474 
L 5229 2074 
L 1254 2074 
z
M 1741 307 
L 1741 1638 
L 4723 1638 
L 4723 307 
L 1741 307 
z
" transform="scale(0.015)"/>
<path id="NotoSansCJKsc-Regular-ff1a" d="M 1600 3110 
C 1856 3110 2086 3296 2086 3584 
C 2086 3878 1856 4070 1600 4070 
C 1344 4070 1114 3878 1114 3584 
C 1114 3296 1344 3110 1600 3110 
z
M 1600 -26 
C 1856 -26 2086 166 2086 454 
C 2086 749 1856 934 1600 934 
C 1344 934 1114 749 1114 454 
C 1114 166 1344 -26 1600 -26 
z
" transform="scale(0.015)"/>
<path id="NotoSansCJKsc-Regular-3001" d="M 1747 -358 
L 2182 13 
C 1786 480 1210 1062 749 1434 
L 333 1069 
C 787 698 1338 147 1747 -358 
z
" transform="scale(0.015)"/>
<path id="NotoSansCJKsc-Regular-8d35" d="M 2925 1926 
L 2925 1485 
C 2925 1011 2778 320 467 -147 
C 576 -243 723 -422 781 -525 
C 3174 26 3424 858 3424 1472 
L 3424 1926 
L 2925 1926 
z
M 3366 416 
C 4128 179 5120 -218 5626 -506 
L 5869 -102 
C 5344 179 4346 557 3597 768 
L 3366 416 
z
M 1222 2566 
L 1222 608 
L 1709 608 
L 1709 2170 
L 4678 2170 
L 4678 627 
L 5184 627 
L 5184 2566 
L 1222 2566 
z
M 1587 4595 
L 2963 4595 
L 2963 4090 
L 1587 4090 
L 1587 4595 
z
M 3456 4595 
L 4800 4595 
L 4800 4090 
L 3456 4090 
L 3456 4595 
z
M 358 3341 
L 358 2931 
L 6067 2931 
L 6067 3341 
L 3456 3341 
L 3456 3744 
L 5280 3744 
L 5280 4941 
L 3456 4941 
L 3456 5376 
L 2963 5376 
L 2963 4941 
L 1126 4941 
L 1126 3744 
L 2963 3744 
L 2963 3341 
L 358 3341 
z
" transform="scale(0.015)"/>
<path id="NotoSansCJKsc-Regular-5c5e" d="M 1370 4710 
L 5190 4710 
L 5190 4141 
L 1370 4141 
L 1370 4710 
z
M 896 5094 
L 896 3226 
C 896 2202 838 774 205 -230 
C 326 -275 538 -397 627 -474 
C 1280 576 1370 2138 1370 3226 
L 1370 3757 
L 5670 3757 
L 5670 5094 
L 896 5094 
z
M 2304 2438 
L 3437 2438 
L 3437 1984 
L 2304 1984 
L 2304 2438 
z
M 3872 2438 
L 5037 2438 
L 5037 1984 
L 3872 1984 
L 3872 2438 
z
M 4275 768 
L 4467 486 
L 3872 467 
L 3872 960 
L 5325 960 
L 5325 -77 
C 5325 -141 5306 -166 5229 -166 
C 5152 -173 4915 -173 4634 -160 
C 4678 -262 4736 -397 4755 -506 
C 5158 -506 5421 -506 5574 -448 
C 5734 -384 5773 -288 5773 -77 
L 5773 1306 
L 3872 1306 
L 3872 1670 
L 5491 1670 
L 5491 2746 
L 3872 2746 
L 3872 3123 
C 4442 3168 4979 3232 5395 3309 
L 5107 3603 
C 4339 3456 2899 3373 1734 3354 
C 1779 3270 1824 3130 1837 3040 
C 2342 3040 2899 3059 3437 3091 
L 3437 2746 
L 1869 2746 
L 1869 1670 
L 3437 1670 
L 3437 1306 
L 1613 1306 
L 1613 -518 
L 2054 -518 
L 2054 960 
L 3437 960 
L 3437 454 
L 2310 416 
L 2336 51 
C 2963 77 3814 122 4666 166 
L 4832 -141 
L 5133 -26 
C 5018 205 4774 582 4563 858 
L 4275 768 
z
" transform="scale(0.015)"/>
</defs>
<use href="#NotoSansCJKsc-Regular-767d"/>
<use href="#NotoSansCJKsc-Regular-94f6" transform="translate(99.999 0)"/>
<use href="#NotoSansCJKsc-Regular-5e02" transform="translate(199.999 0)"/>
<use href="#NotoSansCJKsc-Regular-573a" transform="translate(299.999 0)"/>
<use href="#NotoSansCJKsc-Regular-7efc" transform="translate(399.999 0)"/>
<use href="#NotoSansCJKsc-Regular-5408" transform="translate(499.999 0)"/>
<use href="#NotoSansCJKsc-Regular-5206" transform="translate(599.999 0)"/>
<use href="#NotoSansCJKsc-Regular-6790" transform="translate(699.999 0)"/>
<use href="#NotoSansCJKsc-Regular-ff1a" transform="translate(799.999 0)"/>
<use href="#NotoSansCJKsc-Regular-4ef7" transform="translate(899.999 0)"/>
<use href="#NotoSansCJKsc-Regular-683c" transform="translate(999.999 0)"/>
<use href="#NotoSansCJKsc-Regular-3001" transform="translate(1099.999 0)"/>
<use href="#NotoSansCJKsc-Regular-6ce2" transform="translate(1199.999 0)"/>
<use href="#NotoSansCJKsc-Regular-52a8" transform="translate(1299.999 0)"/>
<use href="#NotoSansCJKsc-Regular-7387" transform="translate(1399.999 0)"/>
<use href="#NotoSansCJKsc-Regular-4e0e" transform="translate(1499.999 0)"/>
<use href="#NotoSansCJKsc-Regular-8d35" transform="translate(1599.999 0)"/>
<use href="#NotoSansCJKsc-Regular-91d1" transform="translate(1699.999 0)"/>
<use href="#NotoSansCJKsc-Regular-5c5e" transform="translate(1799.999 0)"/>
<use href="#NotoSansCJKsc-Regular-5bf9" transform="translate(1899.999 0)"/>
<use href="#NotoSansCJKsc-Regular-6bd4" transform="translate(1999.999 0)"/>
</g>
</g>
</g>
<defs>
<clipPath id="pcaa371a0d5">
<rect x="40.74" y="57.57" width="512.930" height="318.865"/>
</clipPath>
<clipPath id="pf0afd58b29">
<rect x="614.13" y="57.57" width="512.930" height="318.865"/>
</clipPath>
<clipPath id="p26ebe2afd5">
<rect x="40.74" y="470.445" width="512.930" height="318.865"/>
</clipPath>
<clipPath id="p6abba68cff">
<rect x="614.13" y="470.445" width="512.930" height="318.865"/>
</clipPath>
</defs>
</svg>
</body></html>
